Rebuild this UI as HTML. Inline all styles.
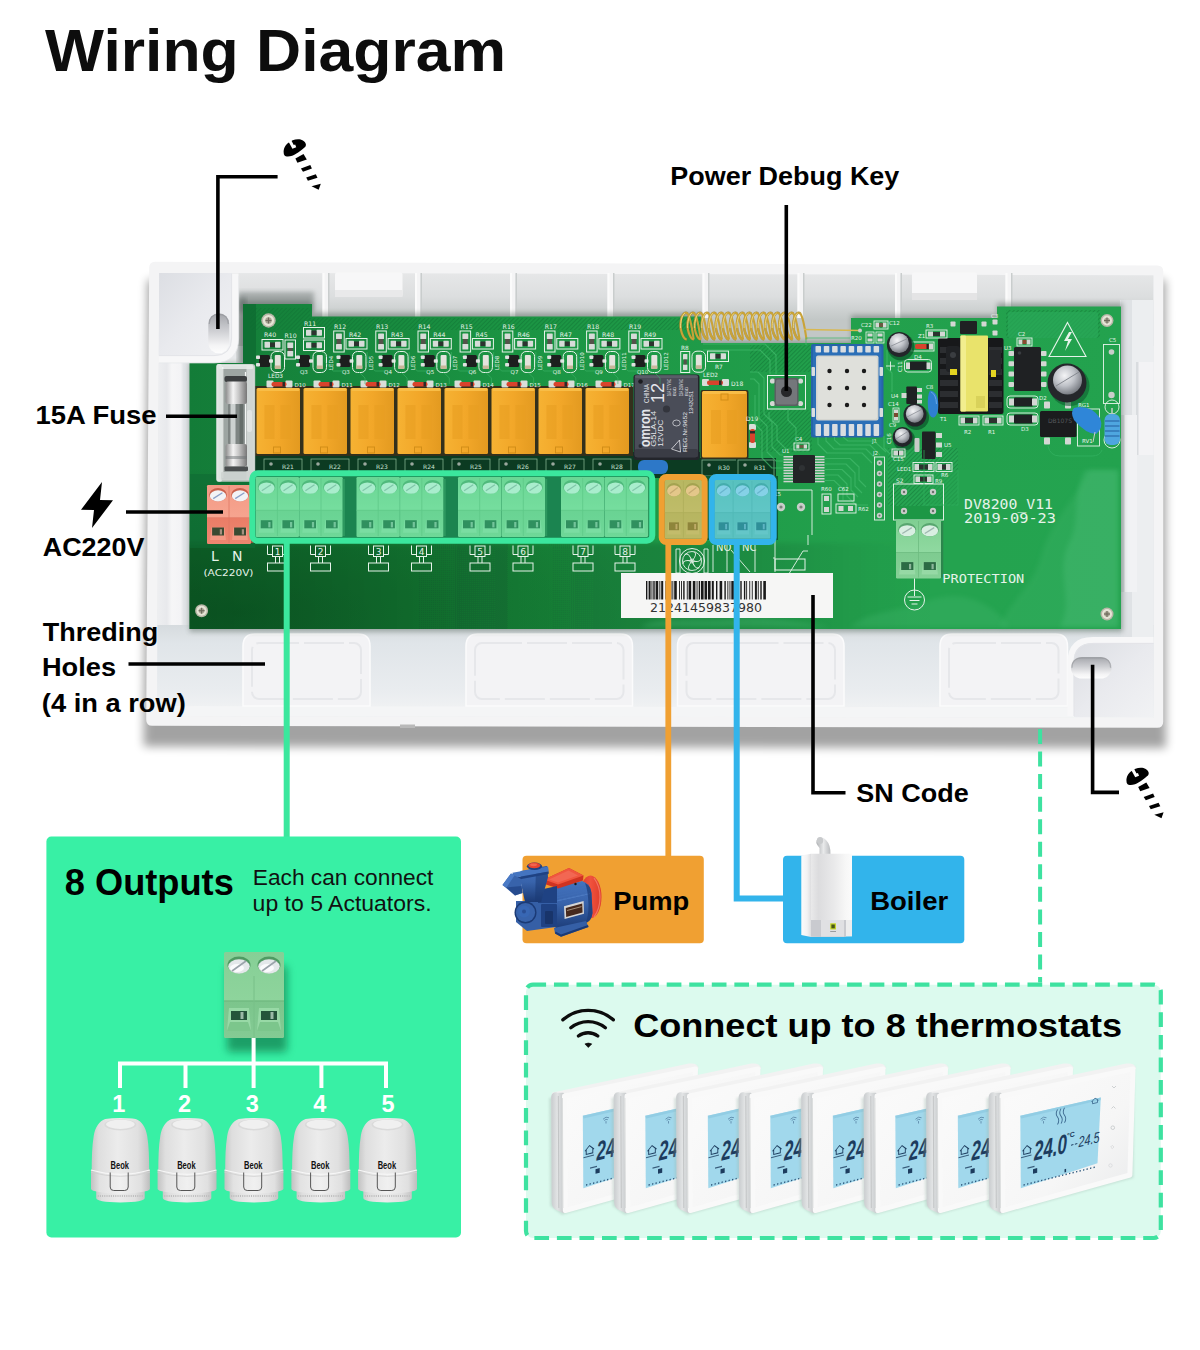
<!DOCTYPE html>
<html lang="en"><head><meta charset="utf-8"><title>Wiring Diagram</title>
<style>
html,body{margin:0;padding:0;background:#fff}
body{width:1200px;height:1350px;overflow:hidden;position:relative;font-family:"Liberation Sans",sans-serif}
svg{position:absolute;left:0;top:0;display:block}
svg text{font-family:"Liberation Sans",sans-serif}
.mono{font-family:"Liberation Mono",monospace}
.dj{font-family:"DejaVu Sans",sans-serif}
</style></head><body>
<svg width="1200" height="1350" viewBox="0 0 1200 1350">
<defs>
<filter id="fsh" x="-10%" y="-10%" width="120%" height="130%"><feGaussianBlur stdDeviation="8"/></filter>
<filter id="b1" x="-20%" y="-20%" width="140%" height="140%"><feGaussianBlur stdDeviation="1"/></filter>
<filter id="b2" x="-20%" y="-20%" width="140%" height="140%"><feGaussianBlur stdDeviation="2.5"/></filter>
<filter id="b4" x="-20%" y="-20%" width="140%" height="140%"><feGaussianBlur stdDeviation="4"/></filter>
<linearGradient id="gFloorTop" gradientUnits="userSpaceOnUse" x1="0" y1="273" x2="0" y2="320"><stop offset="0" stop-color="#e6e7e8"/><stop offset="0.5" stop-color="#dcdedf"/><stop offset="1" stop-color="#c2c7c6"/></linearGradient>
<linearGradient id="gLeft" x1="0" y1="0" x2="1" y2="0"><stop offset="0" stop-color="#eeeff1"/><stop offset="0.3" stop-color="#e8e9ec"/><stop offset="0.45" stop-color="#f6f6f7"/><stop offset="0.72" stop-color="#f3f3f5"/><stop offset="0.8" stop-color="#e3e5e8"/><stop offset="1" stop-color="#dcdfe1"/></linearGradient>
<linearGradient id="gRight" x1="0" y1="0" x2="1" y2="0"><stop offset="0" stop-color="#d9dcdc"/><stop offset="0.4" stop-color="#eceded"/><stop offset="1" stop-color="#f2f2f3"/></linearGradient>
<linearGradient id="gBot" x1="0" y1="0" x2="0" y2="1"><stop offset="0" stop-color="#d6dbde"/><stop offset="0.2" stop-color="#e0e5e9"/><stop offset="0.7" stop-color="#e9ecef"/><stop offset="1" stop-color="#f3f4f5"/></linearGradient>
<linearGradient id="gPost" x1="0" y1="0" x2="1" y2="1"><stop offset="0" stop-color="#e4e5e9"/><stop offset="0.6" stop-color="#f3f3f5"/><stop offset="1" stop-color="#fafafa"/></linearGradient>
<linearGradient id="gPost2" x1="1" y1="1" x2="0" y2="0"><stop offset="0" stop-color="#e6e7ea"/><stop offset="0.6" stop-color="#f1f1f3"/><stop offset="1" stop-color="#f8f8f8"/></linearGradient>
<filter id="fsh5" x="-10%" y="-10%" width="120%" height="130%"><feGaussianBlur stdDeviation="5"/></filter>
<linearGradient id="gPcb" x1="0" y1="0" x2="1" y2="0"><stop offset="0" stop-color="#137c38"/><stop offset="0.35" stop-color="#1b9443"/><stop offset="0.7" stop-color="#22a04c"/><stop offset="1" stop-color="#23a24e"/></linearGradient>
<radialGradient id="gPcbV" cx="0.05" cy="0.95" r="0.45"><stop offset="0" stop-color="#00250f" stop-opacity="0.3"/><stop offset="0.6" stop-color="#00250f" stop-opacity="0.1"/><stop offset="1" stop-color="#000" stop-opacity="0"/></radialGradient>
<linearGradient id="gRelay" x1="0" y1="0" x2="1" y2="0"><stop offset="0" stop-color="#f6b233"/><stop offset="0.5" stop-color="#f2a729"/><stop offset="1" stop-color="#e39a20"/></linearGradient>
<linearGradient id="gTerm" x1="0" y1="0" x2="0" y2="1"><stop offset="0" stop-color="#7fcf92"/><stop offset="0.55" stop-color="#8fd9a0"/><stop offset="0.56" stop-color="#7ecb90"/><stop offset="1" stop-color="#86d197"/></linearGradient>
<linearGradient id="gTermR" x1="0" y1="0" x2="0" y2="1"><stop offset="0" stop-color="#f39a85"/><stop offset="0.55" stop-color="#f6a48f"/><stop offset="0.56" stop-color="#ea7d67"/><stop offset="1" stop-color="#ee8670"/></linearGradient>
<linearGradient id="gMetal" x1="0" y1="0" x2="1" y2="0"><stop offset="0" stop-color="#8d8d8d"/><stop offset="0.35" stop-color="#f4f4f4"/><stop offset="0.6" stop-color="#c9c9c9"/><stop offset="1" stop-color="#777"/></linearGradient>
<radialGradient id="gCap" cx="0.4" cy="0.35" r="0.7"><stop offset="0" stop-color="#f4f4f6"/><stop offset="0.5" stop-color="#bfc2c8"/><stop offset="1" stop-color="#6f737a"/></radialGradient>
<pattern id="hatch" width="3" height="3" patternUnits="userSpaceOnUse" patternTransform="rotate(45)"><rect width="3" height="3" fill="none"/><rect width="1" height="3" fill="#0f6f33" opacity="0.45"/></pattern>
<clipPath id="cpPcb"><path d="M243 304 H312 V316.5 H701 V343 H851 V318 H997 V306.5 H1121 V629 H189.5 V363 H243 Z"/></clipPath>
<linearGradient id="gLow" x1="0" y1="0" x2="1" y2="0"><stop offset="0" stop-color="#001a08" stop-opacity="0.28"/><stop offset="0.45" stop-color="#001a08" stop-opacity="0.2"/><stop offset="0.8" stop-color="#001a08" stop-opacity="0.1"/><stop offset="1" stop-color="#001a08" stop-opacity="0"/></linearGradient>
<linearGradient id="gPock" x1="0" y1="0" x2="1" y2="1"><stop offset="0" stop-color="#dcdee3"/><stop offset="0.5" stop-color="#e9eaee"/><stop offset="1" stop-color="#f1f2f4"/></linearGradient>
<linearGradient id="gSlot" x1="0" y1="0" x2="0" y2="1"><stop offset="0" stop-color="#a4a6ab"/><stop offset="0.45" stop-color="#cfd0d4"/><stop offset="0.8" stop-color="#f4f4f5"/><stop offset="1" stop-color="#fdfdfd"/></linearGradient>
<linearGradient id="gSlotH" x1="0" y1="0" x2="1" y2="0"><stop offset="0" stop-color="#a9abb0"/><stop offset="0.5" stop-color="#d6d7da"/><stop offset="1" stop-color="#f6f6f7"/></linearGradient>
<linearGradient id="gTermB" x1="0" y1="0" x2="0" y2="1"><stop offset="0" stop-color="#86cf96"/><stop offset="0.56" stop-color="#8ed49c"/><stop offset="0.57" stop-color="#7cc58c"/><stop offset="1" stop-color="#84cb94"/></linearGradient>
<linearGradient id="gAct" x1="0" y1="0" x2="1" y2="0"><stop offset="0" stop-color="#c9c9c9"/><stop offset="0.12" stop-color="#dedede"/><stop offset="0.45" stop-color="#ececec"/><stop offset="0.8" stop-color="#e0e0e0"/><stop offset="1" stop-color="#c4c4c4"/></linearGradient>
<linearGradient id="gAct2" x1="0" y1="0" x2="1" y2="0"><stop offset="0" stop-color="#c2c2c2"/><stop offset="0.15" stop-color="#e2e2e2"/><stop offset="0.5" stop-color="#f0f0f0"/><stop offset="0.85" stop-color="#e0e0e0"/><stop offset="1" stop-color="#bdbdbd"/></linearGradient>
<linearGradient id="gPb" x1="0" y1="0" x2="0" y2="1"><stop offset="0" stop-color="#4373bf"/><stop offset="0.45" stop-color="#3863ab"/><stop offset="1" stop-color="#1b3a75"/></linearGradient>
<linearGradient id="gPr" x1="0" y1="0" x2="1" y2="0"><stop offset="0" stop-color="#d93a28"/><stop offset="0.5" stop-color="#f0523d"/><stop offset="1" stop-color="#e03c2a"/></linearGradient>
<linearGradient id="gBoil" x1="0" y1="0" x2="1" y2="0"><stop offset="0" stop-color="#e9e9ea"/><stop offset="0.18" stop-color="#dcdcde"/><stop offset="0.55" stop-color="#e9e9ea"/><stop offset="0.85" stop-color="#f7f7f7"/><stop offset="1" stop-color="#fbfbfb"/></linearGradient>
<linearGradient id="gBoilS" x1="0" y1="0" x2="1" y2="0"><stop offset="0" stop-color="#fbfbfb"/><stop offset="0.6" stop-color="#f2f2f3"/><stop offset="1" stop-color="#dedee0"/></linearGradient>
<linearGradient id="gPipe" x1="0" y1="0" x2="1" y2="0"><stop offset="0" stop-color="#aeb0b3"/><stop offset="0.5" stop-color="#e9eaeb"/><stop offset="1" stop-color="#b9bbbe"/></linearGradient>
<linearGradient id="gTh" x1="0" y1="0" x2="1" y2="1"><stop offset="0" stop-color="#fbfbfb"/><stop offset="0.6" stop-color="#f6f6f6"/><stop offset="1" stop-color="#e9eaeb"/></linearGradient>
<linearGradient id="gThS" x1="0" y1="0" x2="1" y2="0"><stop offset="0" stop-color="#cdd0d2"/><stop offset="0.45" stop-color="#e2e4e5"/><stop offset="1" stop-color="#c9ccce"/></linearGradient>
</defs>
<path d="M147.5 280 L1165.5 280 L1166 748 L143.5 746.5 Z" fill="#000" opacity="0.36" filter="url(#fsh5)"/>
<path d="M155.2 261.8 L1157.3 265.4 Q1163.3 265.4 1163.3 271.4 L1163.2 721.8 Q1163.2 727.8 1157.2 727.8 L152.2 725.8 Q146.2 725.8 146.2 719.8 L149.2 267.8 Q149.2 261.8 155.2 261.8 Z" fill="#f4f4f5" />
<path d="M159.2 273 L1153.3 275.4 L1153.8 717.5 L157 716 Z" fill="#e6e8ea" />
<path d="M159.2 273 L1153.3 275.4 V346 H159.2 Z" fill="url(#gFloorTop)" />
<path d="M159 330 H190 V716 H157 Z" fill="url(#gLeft)" />
<rect x="1120.0" y="300.0" width="33.5" height="417.0" rx="0" fill="#e7e9ec" />
<path d="M157.5 625 H1153.5 V717.5 L157 716 Z" fill="url(#gBot)" />
<path d="M157 706 L1153.5 707.5 V717.5 L157 716 Z" fill="#f4f5f6" />
<rect x="400.0" y="724.5" width="15.0" height="3.5" rx="0" fill="#b9b9b9" />
<rect x="322.5" y="273.0" width="5.5" height="45.0" rx="0" fill="#f4f4f5" />
<rect x="322.5" y="273.0" width="2.0" height="45.0" rx="0" fill="#fbfbfb" />
<rect x="328.0" y="273.0" width="1.5" height="45.0" rx="0" fill="#c9cdcd" />
<rect x="415.0" y="273.0" width="5.5" height="45.0" rx="0" fill="#f4f4f5" />
<rect x="415.0" y="273.0" width="2.0" height="45.0" rx="0" fill="#fbfbfb" />
<rect x="420.5" y="273.0" width="1.5" height="45.0" rx="0" fill="#c9cdcd" />
<rect x="510.0" y="273.0" width="5.5" height="45.0" rx="0" fill="#f4f4f5" />
<rect x="510.0" y="273.0" width="2.0" height="45.0" rx="0" fill="#fbfbfb" />
<rect x="515.5" y="273.0" width="1.5" height="45.0" rx="0" fill="#c9cdcd" />
<rect x="607.5" y="273.0" width="5.5" height="45.0" rx="0" fill="#f4f4f5" />
<rect x="607.5" y="273.0" width="2.0" height="45.0" rx="0" fill="#fbfbfb" />
<rect x="613.0" y="273.0" width="1.5" height="45.0" rx="0" fill="#c9cdcd" />
<rect x="702.5" y="273.0" width="5.5" height="45.0" rx="0" fill="#f4f4f5" />
<rect x="702.5" y="273.0" width="2.0" height="45.0" rx="0" fill="#fbfbfb" />
<rect x="708.0" y="273.0" width="1.5" height="45.0" rx="0" fill="#c9cdcd" />
<rect x="797.5" y="273.0" width="5.5" height="45.0" rx="0" fill="#f4f4f5" />
<rect x="797.5" y="273.0" width="2.0" height="45.0" rx="0" fill="#fbfbfb" />
<rect x="803.0" y="273.0" width="1.5" height="45.0" rx="0" fill="#c9cdcd" />
<rect x="895.0" y="273.0" width="5.5" height="45.0" rx="0" fill="#f4f4f5" />
<rect x="895.0" y="273.0" width="2.0" height="45.0" rx="0" fill="#fbfbfb" />
<rect x="900.5" y="273.0" width="1.5" height="45.0" rx="0" fill="#c9cdcd" />
<rect x="1005.5" y="273.0" width="5.5" height="45.0" rx="0" fill="#f4f4f5" />
<rect x="1005.5" y="273.0" width="2.0" height="45.0" rx="0" fill="#fbfbfb" />
<rect x="1011.0" y="273.0" width="1.5" height="45.0" rx="0" fill="#c9cdcd" />
<rect x="335.0" y="272.5" width="67.5" height="24.5" rx="2" fill="#f7f7f8" />
<rect x="335.0" y="290.0" width="67.5" height="7.0" rx="0" fill="#e9e9ea" />
<rect x="912.0" y="272.5" width="65.0" height="27.5" rx="2" fill="#f7f7f8" />
<rect x="912.0" y="293.0" width="65.0" height="7.0" rx="0" fill="#e4e4e5" />
<path d="M243 706 V646 Q243 634 255 634 H358 Q370 634 370 646 V706 Z" fill="#f3f3f5" stroke="#fbfbfc" stroke-width="1.5"/>
<rect x="252" y="643" width="109" height="56" rx="7" fill="none" stroke="#e6e7ea" stroke-width="2" stroke-dasharray="40 5"/>
<path d="M466 706 V646 Q466 634 478 634 H620.5 Q632.5 634 632.5 646 V706 Z" fill="#f3f3f5" stroke="#fbfbfc" stroke-width="1.5"/>
<rect x="475" y="643" width="148.5" height="56" rx="7" fill="none" stroke="#e6e7ea" stroke-width="2" stroke-dasharray="40 5"/>
<path d="M677.5 706 V646 Q677.5 634 689.5 634 H832 Q844 634 844 646 V706 Z" fill="#f3f3f5" stroke="#fbfbfc" stroke-width="1.5"/>
<rect x="686.5" y="643" width="148.5" height="56" rx="7" fill="none" stroke="#e6e7ea" stroke-width="2" stroke-dasharray="40 5"/>
<path d="M940 706 V646 Q940 634 952 634 H1055.5 Q1067.5 634 1067.5 646 V706 Z" fill="#f3f3f5" stroke="#fbfbfc" stroke-width="1.5"/>
<rect x="949" y="643" width="109.5" height="56" rx="7" fill="none" stroke="#e6e7ea" stroke-width="2" stroke-dasharray="40 5"/>
<rect x="1121.0" y="300.0" width="11.0" height="416.0" rx="0" fill="#dfe2e5" />
<rect x="1132.0" y="300.0" width="21.5" height="416.0" rx="0" fill="#eceef0" />
<rect x="1138.0" y="362.0" width="15.5" height="93.0" rx="0" fill="#f3f3f5" />
<rect x="1136.0" y="362.0" width="2.5" height="93.0" rx="0" fill="#d9dcdf" />
<rect x="1124.0" y="415.0" width="13.0" height="177.0" rx="0" fill="#f1f2f4" />
<rect x="1121.0" y="415.0" width="3.5" height="177.0" rx="0" fill="#cfd4d6" />
<line x1="1121.0" y1="640.0" x2="1153.0" y2="640.0" stroke="#f6f6f7" stroke-width="1.5" />
<path d="M243 301 H312 V313 H701 V341 H851 V315 H997 V303 H1123 V632 H189.5 V363 H243 Z" fill="#56665d" opacity="0.45" filter="url(#b2)"/>
<rect x="238.0" y="292.0" width="76.0" height="20.0" rx="0" fill="#4c5653" opacity="0.4" filter="url(#b2)"/>
<rect x="238.0" y="298.0" width="8.0" height="66.0" rx="0" fill="#4c5653" opacity="0.5" filter="url(#b2)"/>
<path d="M243 304 H312 V316.5 H701 V343 H851 V318 H997 V306.5 H1121 V629 H189.5 V363 H243 Z" fill="url(#gPcb)" />
<path d="M243 304 H312 V316.5 H701 V343 H851 V318 H997 V306.5 H1121 V629 H189.5 V363 H243 Z" fill="url(#gPcbV)" />
<path d="M250 308 H310 V318 H700 V330 H250 Z" fill="url(#hatch)" />
<rect x="1006.0" y="310.0" width="94.0" height="28.0" rx="0" fill="url(#hatch)" />
<rect x="888.0" y="448.0" width="70.0" height="58.0" rx="0" fill="#2aa957" opacity="0.55"/>
<rect x="888.0" y="448.0" width="70.0" height="58.0" rx="0" fill="url(#hatch)" />
<rect x="750.0" y="345.0" width="62.0" height="27.0" rx="0" fill="url(#hatch)" />
<rect x="760.0" y="410.0" width="52.0" height="42.0" rx="0" fill="url(#hatch)" />
<g clip-path="url(#cpPcb)"><rect x="170" y="543" width="740" height="100" fill="url(#gLow)" filter="url(#b2)"/></g>
<rect x="1008.0" y="312.0" width="90.0" height="26.0" rx="2" fill="#2aa858" opacity="0.7"/>
<rect x="930.0" y="470.0" width="188.0" height="157.0" rx="0" fill="#25a552" opacity="0.5"/>
<path d="M1000 627 C1010 600 1030 590 1040 560 C1050 520 1075 500 1090 470 L1118 470 L1118 627 Z" fill="#3db368" opacity="0.35" filter="url(#b2)"/>
<path d="M850 627 C870 610 900 612 930 600 C960 590 990 600 1010 627 Z" fill="#45b870" opacity="0.3" filter="url(#b2)"/>
<rect x="243.0" y="304.0" width="13.0" height="60.0" rx="0" fill="#0d6a31" opacity="0.7"/>
<path d="M1085 470 C1070 500 1082 520 1068 545 C1055 575 1075 600 1060 627 L1118 627 L1118 470 Z" fill="#58c483" opacity="0.28" filter="url(#b2)"/>
<path d="M640 627 C660 615 700 622 740 618 C770 616 800 622 830 627 Z" fill="#4fbf7b" opacity="0.3" filter="url(#b2)"/>
<rect x="255.0" y="452.0" width="445.0" height="26.0" rx="0" fill="#0c3b22" />
<rect x="190.0" y="474.0" width="65.0" height="74.0" rx="0" fill="#0f6a33" opacity="0.6"/>
<rect x="264" y="459" width="38" height="16" fill="none" stroke="#7fae8d" stroke-width="0.8"/>
<circle cx="271.0" cy="464.0" r="1.8" fill="#9aa79e" />
<text x="282.0" y="469.0" font-size="6" font-weight="normal" fill="#c9e3d2" text-anchor="start" style='font-family:"DejaVu Sans",sans-serif' >R21</text>
<rect x="311" y="459" width="38" height="16" fill="none" stroke="#7fae8d" stroke-width="0.8"/>
<circle cx="318.0" cy="464.0" r="1.8" fill="#9aa79e" />
<text x="329.0" y="469.0" font-size="6" font-weight="normal" fill="#c9e3d2" text-anchor="start" style='font-family:"DejaVu Sans",sans-serif' >R22</text>
<rect x="358" y="459" width="38" height="16" fill="none" stroke="#7fae8d" stroke-width="0.8"/>
<circle cx="365.0" cy="464.0" r="1.8" fill="#9aa79e" />
<text x="376.0" y="469.0" font-size="6" font-weight="normal" fill="#c9e3d2" text-anchor="start" style='font-family:"DejaVu Sans",sans-serif' >R23</text>
<rect x="405" y="459" width="38" height="16" fill="none" stroke="#7fae8d" stroke-width="0.8"/>
<circle cx="412.0" cy="464.0" r="1.8" fill="#9aa79e" />
<text x="423.0" y="469.0" font-size="6" font-weight="normal" fill="#c9e3d2" text-anchor="start" style='font-family:"DejaVu Sans",sans-serif' >R24</text>
<rect x="452" y="459" width="38" height="16" fill="none" stroke="#7fae8d" stroke-width="0.8"/>
<circle cx="459.0" cy="464.0" r="1.8" fill="#9aa79e" />
<text x="470.0" y="469.0" font-size="6" font-weight="normal" fill="#c9e3d2" text-anchor="start" style='font-family:"DejaVu Sans",sans-serif' >R25</text>
<rect x="499" y="459" width="38" height="16" fill="none" stroke="#7fae8d" stroke-width="0.8"/>
<circle cx="506.0" cy="464.0" r="1.8" fill="#9aa79e" />
<text x="517.0" y="469.0" font-size="6" font-weight="normal" fill="#c9e3d2" text-anchor="start" style='font-family:"DejaVu Sans",sans-serif' >R26</text>
<rect x="546" y="459" width="38" height="16" fill="none" stroke="#7fae8d" stroke-width="0.8"/>
<circle cx="553.0" cy="464.0" r="1.8" fill="#9aa79e" />
<text x="564.0" y="469.0" font-size="6" font-weight="normal" fill="#c9e3d2" text-anchor="start" style='font-family:"DejaVu Sans",sans-serif' >R27</text>
<rect x="593" y="459" width="38" height="16" fill="none" stroke="#7fae8d" stroke-width="0.8"/>
<circle cx="600.0" cy="464.0" r="1.8" fill="#9aa79e" />
<text x="611.0" y="469.0" font-size="6" font-weight="normal" fill="#c9e3d2" text-anchor="start" style='font-family:"DejaVu Sans",sans-serif' >R28</text>
<rect x="700.0" y="458.0" width="40.0" height="20.0" rx="0" fill="#0c3b22" />
<rect x="702" y="460" width="36" height="16" fill="none" stroke="#7fae8d" stroke-width="0.8"/>
<circle cx="709.0" cy="465.0" r="1.8" fill="#9aa79e" />
<text x="718.0" y="470.0" font-size="6" font-weight="normal" fill="#c9e3d2" text-anchor="start" style='font-family:"DejaVu Sans",sans-serif' >R30</text>
<rect x="736.0" y="458.0" width="40.0" height="20.0" rx="0" fill="#0c3b22" />
<rect x="738" y="460" width="36" height="16" fill="none" stroke="#7fae8d" stroke-width="0.8"/>
<circle cx="745.0" cy="465.0" r="1.8" fill="#9aa79e" />
<text x="754.0" y="470.0" font-size="6" font-weight="normal" fill="#c9e3d2" text-anchor="start" style='font-family:"DejaVu Sans",sans-serif' >R31</text>
<rect x="255.0" y="386.0" width="378.0" height="70.0" rx="0" fill="#33301c" />
<rect x="256.5" y="388.0" width="43.5" height="66.0" rx="1.5" fill="url(#gRelay)" />
<rect x="257.5" y="388.0" width="42.0" height="3.0" rx="1" fill="#f8bd47" />
<rect x="273.5" y="447" width="7" height="6" fill="none" stroke="#d28d17" stroke-width="1"/>
<rect x="264.5" y="405.0" width="10.0" height="34.0" rx="0" fill="#e89f22" opacity="0.6"/>
<rect x="280.5" y="405.0" width="10.0" height="34.0" rx="0" fill="#e89f22" opacity="0.6"/>
<rect x="266.5" y="380.5" width="7.0" height="7.0" rx="1" fill="#d9ded9" />
<rect x="285.5" y="380.5" width="7.0" height="7.0" rx="1" fill="#d9ded9" />
<rect x="271.5" y="382.0" width="15.0" height="4.5" rx="2" fill="#d8432c" />
<rect x="282.5" y="382.0" width="2.5" height="4.5" rx="0" fill="#2a2a2a" />
<text x="294.5" y="387.0" font-size="5.5" font-weight="normal" fill="#e3f1e7" text-anchor="start" style='font-family:"DejaVu Sans",sans-serif' >D10</text>
<rect x="303.5" y="388.0" width="43.5" height="66.0" rx="1.5" fill="url(#gRelay)" />
<rect x="304.5" y="388.0" width="42.0" height="3.0" rx="1" fill="#f8bd47" />
<rect x="320.5" y="447" width="7" height="6" fill="none" stroke="#d28d17" stroke-width="1"/>
<rect x="311.5" y="405.0" width="10.0" height="34.0" rx="0" fill="#e89f22" opacity="0.6"/>
<rect x="327.5" y="405.0" width="10.0" height="34.0" rx="0" fill="#e89f22" opacity="0.6"/>
<rect x="313.5" y="380.5" width="7.0" height="7.0" rx="1" fill="#d9ded9" />
<rect x="332.5" y="380.5" width="7.0" height="7.0" rx="1" fill="#d9ded9" />
<rect x="318.5" y="382.0" width="15.0" height="4.5" rx="2" fill="#d8432c" />
<rect x="329.5" y="382.0" width="2.5" height="4.5" rx="0" fill="#2a2a2a" />
<text x="341.5" y="387.0" font-size="5.5" font-weight="normal" fill="#e3f1e7" text-anchor="start" style='font-family:"DejaVu Sans",sans-serif' >D11</text>
<rect x="350.5" y="388.0" width="43.5" height="66.0" rx="1.5" fill="url(#gRelay)" />
<rect x="351.5" y="388.0" width="42.0" height="3.0" rx="1" fill="#f8bd47" />
<rect x="367.5" y="447" width="7" height="6" fill="none" stroke="#d28d17" stroke-width="1"/>
<rect x="358.5" y="405.0" width="10.0" height="34.0" rx="0" fill="#e89f22" opacity="0.6"/>
<rect x="374.5" y="405.0" width="10.0" height="34.0" rx="0" fill="#e89f22" opacity="0.6"/>
<rect x="360.5" y="380.5" width="7.0" height="7.0" rx="1" fill="#d9ded9" />
<rect x="379.5" y="380.5" width="7.0" height="7.0" rx="1" fill="#d9ded9" />
<rect x="365.5" y="382.0" width="15.0" height="4.5" rx="2" fill="#d8432c" />
<rect x="376.5" y="382.0" width="2.5" height="4.5" rx="0" fill="#2a2a2a" />
<text x="388.5" y="387.0" font-size="5.5" font-weight="normal" fill="#e3f1e7" text-anchor="start" style='font-family:"DejaVu Sans",sans-serif' >D12</text>
<rect x="397.5" y="388.0" width="43.5" height="66.0" rx="1.5" fill="url(#gRelay)" />
<rect x="398.5" y="388.0" width="42.0" height="3.0" rx="1" fill="#f8bd47" />
<rect x="414.5" y="447" width="7" height="6" fill="none" stroke="#d28d17" stroke-width="1"/>
<rect x="405.5" y="405.0" width="10.0" height="34.0" rx="0" fill="#e89f22" opacity="0.6"/>
<rect x="421.5" y="405.0" width="10.0" height="34.0" rx="0" fill="#e89f22" opacity="0.6"/>
<rect x="407.5" y="380.5" width="7.0" height="7.0" rx="1" fill="#d9ded9" />
<rect x="426.5" y="380.5" width="7.0" height="7.0" rx="1" fill="#d9ded9" />
<rect x="412.5" y="382.0" width="15.0" height="4.5" rx="2" fill="#d8432c" />
<rect x="423.5" y="382.0" width="2.5" height="4.5" rx="0" fill="#2a2a2a" />
<text x="435.5" y="387.0" font-size="5.5" font-weight="normal" fill="#e3f1e7" text-anchor="start" style='font-family:"DejaVu Sans",sans-serif' >D13</text>
<rect x="444.5" y="388.0" width="43.5" height="66.0" rx="1.5" fill="url(#gRelay)" />
<rect x="445.5" y="388.0" width="42.0" height="3.0" rx="1" fill="#f8bd47" />
<rect x="461.5" y="447" width="7" height="6" fill="none" stroke="#d28d17" stroke-width="1"/>
<rect x="452.5" y="405.0" width="10.0" height="34.0" rx="0" fill="#e89f22" opacity="0.6"/>
<rect x="468.5" y="405.0" width="10.0" height="34.0" rx="0" fill="#e89f22" opacity="0.6"/>
<rect x="454.5" y="380.5" width="7.0" height="7.0" rx="1" fill="#d9ded9" />
<rect x="473.5" y="380.5" width="7.0" height="7.0" rx="1" fill="#d9ded9" />
<rect x="459.5" y="382.0" width="15.0" height="4.5" rx="2" fill="#d8432c" />
<rect x="470.5" y="382.0" width="2.5" height="4.5" rx="0" fill="#2a2a2a" />
<text x="482.5" y="387.0" font-size="5.5" font-weight="normal" fill="#e3f1e7" text-anchor="start" style='font-family:"DejaVu Sans",sans-serif' >D14</text>
<rect x="491.5" y="388.0" width="43.5" height="66.0" rx="1.5" fill="url(#gRelay)" />
<rect x="492.5" y="388.0" width="42.0" height="3.0" rx="1" fill="#f8bd47" />
<rect x="508.5" y="447" width="7" height="6" fill="none" stroke="#d28d17" stroke-width="1"/>
<rect x="499.5" y="405.0" width="10.0" height="34.0" rx="0" fill="#e89f22" opacity="0.6"/>
<rect x="515.5" y="405.0" width="10.0" height="34.0" rx="0" fill="#e89f22" opacity="0.6"/>
<rect x="501.5" y="380.5" width="7.0" height="7.0" rx="1" fill="#d9ded9" />
<rect x="520.5" y="380.5" width="7.0" height="7.0" rx="1" fill="#d9ded9" />
<rect x="506.5" y="382.0" width="15.0" height="4.5" rx="2" fill="#d8432c" />
<rect x="517.5" y="382.0" width="2.5" height="4.5" rx="0" fill="#2a2a2a" />
<text x="529.5" y="387.0" font-size="5.5" font-weight="normal" fill="#e3f1e7" text-anchor="start" style='font-family:"DejaVu Sans",sans-serif' >D15</text>
<rect x="538.5" y="388.0" width="43.5" height="66.0" rx="1.5" fill="url(#gRelay)" />
<rect x="539.5" y="388.0" width="42.0" height="3.0" rx="1" fill="#f8bd47" />
<rect x="555.5" y="447" width="7" height="6" fill="none" stroke="#d28d17" stroke-width="1"/>
<rect x="546.5" y="405.0" width="10.0" height="34.0" rx="0" fill="#e89f22" opacity="0.6"/>
<rect x="562.5" y="405.0" width="10.0" height="34.0" rx="0" fill="#e89f22" opacity="0.6"/>
<rect x="548.5" y="380.5" width="7.0" height="7.0" rx="1" fill="#d9ded9" />
<rect x="567.5" y="380.5" width="7.0" height="7.0" rx="1" fill="#d9ded9" />
<rect x="553.5" y="382.0" width="15.0" height="4.5" rx="2" fill="#d8432c" />
<rect x="564.5" y="382.0" width="2.5" height="4.5" rx="0" fill="#2a2a2a" />
<text x="576.5" y="387.0" font-size="5.5" font-weight="normal" fill="#e3f1e7" text-anchor="start" style='font-family:"DejaVu Sans",sans-serif' >D16</text>
<rect x="585.5" y="388.0" width="43.5" height="66.0" rx="1.5" fill="url(#gRelay)" />
<rect x="586.5" y="388.0" width="42.0" height="3.0" rx="1" fill="#f8bd47" />
<rect x="602.5" y="447" width="7" height="6" fill="none" stroke="#d28d17" stroke-width="1"/>
<rect x="593.5" y="405.0" width="10.0" height="34.0" rx="0" fill="#e89f22" opacity="0.6"/>
<rect x="609.5" y="405.0" width="10.0" height="34.0" rx="0" fill="#e89f22" opacity="0.6"/>
<rect x="595.5" y="380.5" width="7.0" height="7.0" rx="1" fill="#d9ded9" />
<rect x="614.5" y="380.5" width="7.0" height="7.0" rx="1" fill="#d9ded9" />
<rect x="600.5" y="382.0" width="15.0" height="4.5" rx="2" fill="#d8432c" />
<rect x="611.5" y="382.0" width="2.5" height="4.5" rx="0" fill="#2a2a2a" />
<text x="623.5" y="387.0" font-size="5.5" font-weight="normal" fill="#e3f1e7" text-anchor="start" style='font-family:"DejaVu Sans",sans-serif' >D17</text>
<rect x="700.5" y="390.0" width="48.0" height="69.0" rx="2" fill="#33301c" />
<rect x="702.0" y="391.0" width="45.0" height="66.5" rx="1.5" fill="url(#gRelay)" />
<rect x="703.0" y="391.0" width="43.0" height="3.0" rx="1" fill="#f8bd47" />
<rect x="721" y="394" width="7" height="6" fill="none" stroke="#d28d17" stroke-width="1"/>
<rect x="711.0" y="410.0" width="10.0" height="34.0" rx="0" fill="#e89f22" opacity="0.6"/>
<rect x="727.0" y="410.0" width="10.0" height="34.0" rx="0" fill="#e89f22" opacity="0.6"/>
<rect x="702.0" y="379.0" width="7.0" height="7.0" rx="1" fill="#d9ded9" />
<rect x="722.0" y="379.0" width="7.0" height="7.0" rx="1" fill="#d9ded9" />
<rect x="707.0" y="380.5" width="16.0" height="4.5" rx="2" fill="#d8432c" />
<rect x="719.0" y="380.5" width="2.5" height="4.5" rx="0" fill="#2a2a2a" />
<text x="731.0" y="386.0" font-size="6" font-weight="normal" fill="#e3f1e7" text-anchor="start" style='font-family:"DejaVu Sans",sans-serif' >D18</text>
<rect x="749.0" y="424.0" width="7.0" height="6.0" rx="1" fill="#d9ded9" />
<rect x="749.0" y="442.0" width="7.0" height="6.0" rx="1" fill="#d9ded9" />
<rect x="750.0" y="429.0" width="5.0" height="14.0" rx="2" fill="#d8432c" />
<rect x="750.0" y="431.0" width="5.0" height="2.5" rx="0" fill="#2a2a2a" />
<text x="746.0" y="421.0" font-size="6" font-weight="normal" fill="#e3f1e7" text-anchor="start" style='font-family:"DejaVu Sans",sans-serif' >D19</text>
<rect x="633.5" y="374.5" width="66.0" height="85.5" rx="3" fill="#23252b" />
<rect x="634.7" y="375.3" width="63.3" height="82.0" rx="3" fill="#4a4d58" />
<rect x="634.7" y="375.3" width="63.3" height="2.7" rx="2" fill="#5a5d68" />
<rect x="634.7" y="449.0" width="63.3" height="8.3" rx="2" fill="#3a3c45" />
<circle cx="640.5" cy="381.5" r="2.3" fill="#1b1c21" />
<circle cx="640.5" cy="446.0" r="2" fill="#2a2c33" />
<circle cx="666.5" cy="409.0" r="3.6" fill="#33353d" />
<g transform="rotate(-90 666 417)" fill="#e4e5ea" style='font-family:"Liberation Sans",sans-serif'><text x="636" y="401" font-size="14.5" font-weight="bold" textLength="38" lengthAdjust="spacingAndGlyphs">omron</text><text x="680" y="399.5" font-size="7" textLength="19" lengthAdjust="spacingAndGlyphs">CHINA</text><text x="636.3" y="407.3" font-size="7.5" textLength="36" lengthAdjust="spacingAndGlyphs">G5LA-14</text><text x="636.3" y="414" font-size="7.5" textLength="27" lengthAdjust="spacingAndGlyphs">12VDC</text><text x="679.7" y="415" font-size="18" textLength="20.5" lengthAdjust="spacingAndGlyphs">12</text><text x="687" y="421.5" font-size="4.6" textLength="17" lengthAdjust="spacingAndGlyphs">10A 277V AC</text><text x="687" y="427" font-size="4.2">BGD</text><text x="687" y="433.5" font-size="4.6" textLength="17" lengthAdjust="spacingAndGlyphs">15A 250V AC</text><text x="687" y="439" font-size="4.2">BGD</text><text x="631" y="438.3" font-size="6" textLength="40" lengthAdjust="spacingAndGlyphs">REG.Nr.9652</text><text x="669" y="443.5" font-size="6" textLength="23" lengthAdjust="spacingAndGlyphs">1342CS1</text></g>
<path d="M671.5 449 L679.5 440 L680.5 452 Z" fill="none" stroke="#e4e5ea" stroke-width="0.8"/>
<ellipse cx="676.5" cy="423.0" rx="3.8" ry="3" fill="none" stroke="#e4e5ea" stroke-width="0.7"/>
<rect x="638.0" y="460.0" width="30.0" height="14.0" rx="6" fill="#2d78c8" />
<rect x="255.0" y="476.0" width="395.0" height="63.0" rx="0" fill="#0e5a30" />
<rect x="255.7" y="477.0" width="43.4" height="60.0" rx="1.2" fill="url(#gTerm)" />
<ellipse cx="266.6" cy="486.9" rx="8.68" ry="6.9" fill="#58a66f" />
<ellipse cx="266.6" cy="488.1" rx="8.029" ry="5.7" fill="#d9efe2" />
<line x1="261.8" y1="490.8" x2="270.9" y2="484.8" stroke="#9fb7b0" stroke-width="1.3" />
<path d="M260.0 520.2 H273.1 L274.4 532.8 H258.7 Z" fill="#a5e0b2" opacity="0.55"/>
<rect x="260.7" y="520.2" width="11.7" height="8.1" rx="0" fill="#2c6b45" />
<rect x="268.3" y="522.0" width="2.2" height="5.4" rx="0" fill="#cfe6d6" opacity="0.6"/>
<ellipse cx="288.2" cy="486.9" rx="8.68" ry="6.9" fill="#58a66f" />
<ellipse cx="288.2" cy="488.1" rx="8.029" ry="5.7" fill="#d9efe2" />
<line x1="283.5" y1="490.8" x2="292.6" y2="484.8" stroke="#9fb7b0" stroke-width="1.3" />
<path d="M281.7 520.2 H294.8 L296.1 532.8 H280.4 Z" fill="#a5e0b2" opacity="0.55"/>
<rect x="282.4" y="520.2" width="11.7" height="8.1" rx="0" fill="#2c6b45" />
<rect x="290.0" y="522.0" width="2.2" height="5.4" rx="0" fill="#cfe6d6" opacity="0.6"/>
<line x1="277.4" y1="478.0" x2="277.4" y2="536.0" stroke="#6dbb80" stroke-width="0.8" />
<line x1="255.7" y1="510.3" x2="299.1" y2="510.3" stroke="#6dbb80" stroke-width="0.8" />
<rect x="299.1" y="479.0" width="2.2" height="57.0" rx="0" fill="#2f7d4c" opacity="0.8"/>
<rect x="299.3" y="477.0" width="43.4" height="60.0" rx="1.2" fill="url(#gTerm)" />
<ellipse cx="310.2" cy="486.9" rx="8.68" ry="6.9" fill="#58a66f" />
<ellipse cx="310.2" cy="488.1" rx="8.029" ry="5.7" fill="#d9efe2" />
<line x1="305.4" y1="490.8" x2="314.5" y2="484.8" stroke="#9fb7b0" stroke-width="1.3" />
<path d="M303.6 520.2 H316.7 L318.0 532.8 H302.3 Z" fill="#a5e0b2" opacity="0.55"/>
<rect x="304.3" y="520.2" width="11.7" height="8.1" rx="0" fill="#2c6b45" />
<rect x="311.9" y="522.0" width="2.2" height="5.4" rx="0" fill="#cfe6d6" opacity="0.6"/>
<ellipse cx="331.9" cy="486.9" rx="8.68" ry="6.9" fill="#58a66f" />
<ellipse cx="331.9" cy="488.1" rx="8.029" ry="5.7" fill="#d9efe2" />
<line x1="327.1" y1="490.8" x2="336.2" y2="484.8" stroke="#9fb7b0" stroke-width="1.3" />
<path d="M325.3 520.2 H338.4 L339.7 532.8 H324.0 Z" fill="#a5e0b2" opacity="0.55"/>
<rect x="326.0" y="520.2" width="11.7" height="8.1" rx="0" fill="#2c6b45" />
<rect x="333.6" y="522.0" width="2.2" height="5.4" rx="0" fill="#cfe6d6" opacity="0.6"/>
<line x1="321.0" y1="478.0" x2="321.0" y2="536.0" stroke="#6dbb80" stroke-width="0.8" />
<line x1="299.3" y1="510.3" x2="342.7" y2="510.3" stroke="#6dbb80" stroke-width="0.8" />
<rect x="342.7" y="479.0" width="2.2" height="57.0" rx="0" fill="#2f7d4c" opacity="0.8"/>
<rect x="356.5" y="477.0" width="43.4" height="60.0" rx="1.2" fill="url(#gTerm)" />
<ellipse cx="367.4" cy="486.9" rx="8.68" ry="6.9" fill="#58a66f" />
<ellipse cx="367.4" cy="488.1" rx="8.029" ry="5.7" fill="#d9efe2" />
<line x1="362.6" y1="490.8" x2="371.7" y2="484.8" stroke="#9fb7b0" stroke-width="1.3" />
<path d="M360.8 520.2 H373.9 L375.2 532.8 H359.5 Z" fill="#a5e0b2" opacity="0.55"/>
<rect x="361.5" y="520.2" width="11.7" height="8.1" rx="0" fill="#2c6b45" />
<rect x="369.1" y="522.0" width="2.2" height="5.4" rx="0" fill="#cfe6d6" opacity="0.6"/>
<ellipse cx="389.1" cy="486.9" rx="8.68" ry="6.9" fill="#58a66f" />
<ellipse cx="389.1" cy="488.1" rx="8.029" ry="5.7" fill="#d9efe2" />
<line x1="384.3" y1="490.8" x2="393.4" y2="484.8" stroke="#9fb7b0" stroke-width="1.3" />
<path d="M382.5 520.2 H395.6 L396.9 532.8 H381.2 Z" fill="#a5e0b2" opacity="0.55"/>
<rect x="383.2" y="520.2" width="11.7" height="8.1" rx="0" fill="#2c6b45" />
<rect x="390.8" y="522.0" width="2.2" height="5.4" rx="0" fill="#cfe6d6" opacity="0.6"/>
<line x1="378.2" y1="478.0" x2="378.2" y2="536.0" stroke="#6dbb80" stroke-width="0.8" />
<line x1="356.5" y1="510.3" x2="399.9" y2="510.3" stroke="#6dbb80" stroke-width="0.8" />
<rect x="399.9" y="479.0" width="2.2" height="57.0" rx="0" fill="#2f7d4c" opacity="0.8"/>
<rect x="400.1" y="477.0" width="43.4" height="60.0" rx="1.2" fill="url(#gTerm)" />
<ellipse cx="411.0" cy="486.9" rx="8.68" ry="6.9" fill="#58a66f" />
<ellipse cx="411.0" cy="488.1" rx="8.029" ry="5.7" fill="#d9efe2" />
<line x1="406.2" y1="490.8" x2="415.3" y2="484.8" stroke="#9fb7b0" stroke-width="1.3" />
<path d="M404.4 520.2 H417.5 L418.8 532.8 H403.1 Z" fill="#a5e0b2" opacity="0.55"/>
<rect x="405.1" y="520.2" width="11.7" height="8.1" rx="0" fill="#2c6b45" />
<rect x="412.7" y="522.0" width="2.2" height="5.4" rx="0" fill="#cfe6d6" opacity="0.6"/>
<ellipse cx="432.7" cy="486.9" rx="8.68" ry="6.9" fill="#58a66f" />
<ellipse cx="432.7" cy="488.1" rx="8.029" ry="5.7" fill="#d9efe2" />
<line x1="427.9" y1="490.8" x2="437.0" y2="484.8" stroke="#9fb7b0" stroke-width="1.3" />
<path d="M426.1 520.2 H439.2 L440.5 532.8 H424.8 Z" fill="#a5e0b2" opacity="0.55"/>
<rect x="426.8" y="520.2" width="11.7" height="8.1" rx="0" fill="#2c6b45" />
<rect x="434.4" y="522.0" width="2.2" height="5.4" rx="0" fill="#cfe6d6" opacity="0.6"/>
<line x1="421.8" y1="478.0" x2="421.8" y2="536.0" stroke="#6dbb80" stroke-width="0.8" />
<line x1="400.1" y1="510.3" x2="443.5" y2="510.3" stroke="#6dbb80" stroke-width="0.8" />
<rect x="443.5" y="479.0" width="2.2" height="57.0" rx="0" fill="#2f7d4c" opacity="0.8"/>
<rect x="458.0" y="477.0" width="43.4" height="60.0" rx="1.2" fill="url(#gTerm)" />
<ellipse cx="468.9" cy="486.9" rx="8.68" ry="6.9" fill="#58a66f" />
<ellipse cx="468.9" cy="488.1" rx="8.029" ry="5.7" fill="#d9efe2" />
<line x1="464.1" y1="490.8" x2="473.2" y2="484.8" stroke="#9fb7b0" stroke-width="1.3" />
<path d="M462.3 520.2 H475.4 L476.7 532.8 H461.0 Z" fill="#a5e0b2" opacity="0.55"/>
<rect x="463.0" y="520.2" width="11.7" height="8.1" rx="0" fill="#2c6b45" />
<rect x="470.6" y="522.0" width="2.2" height="5.4" rx="0" fill="#cfe6d6" opacity="0.6"/>
<ellipse cx="490.6" cy="486.9" rx="8.68" ry="6.9" fill="#58a66f" />
<ellipse cx="490.6" cy="488.1" rx="8.029" ry="5.7" fill="#d9efe2" />
<line x1="485.8" y1="490.8" x2="494.9" y2="484.8" stroke="#9fb7b0" stroke-width="1.3" />
<path d="M484.0 520.2 H497.1 L498.4 532.8 H482.7 Z" fill="#a5e0b2" opacity="0.55"/>
<rect x="484.7" y="520.2" width="11.7" height="8.1" rx="0" fill="#2c6b45" />
<rect x="492.3" y="522.0" width="2.2" height="5.4" rx="0" fill="#cfe6d6" opacity="0.6"/>
<line x1="479.7" y1="478.0" x2="479.7" y2="536.0" stroke="#6dbb80" stroke-width="0.8" />
<line x1="458.0" y1="510.3" x2="501.4" y2="510.3" stroke="#6dbb80" stroke-width="0.8" />
<rect x="501.4" y="479.0" width="2.2" height="57.0" rx="0" fill="#2f7d4c" opacity="0.8"/>
<rect x="501.6" y="477.0" width="43.4" height="60.0" rx="1.2" fill="url(#gTerm)" />
<ellipse cx="512.5" cy="486.9" rx="8.68" ry="6.9" fill="#58a66f" />
<ellipse cx="512.5" cy="488.1" rx="8.029" ry="5.7" fill="#d9efe2" />
<line x1="507.7" y1="490.8" x2="516.8" y2="484.8" stroke="#9fb7b0" stroke-width="1.3" />
<path d="M505.9 520.2 H519.0 L520.3 532.8 H504.6 Z" fill="#a5e0b2" opacity="0.55"/>
<rect x="506.6" y="520.2" width="11.7" height="8.1" rx="0" fill="#2c6b45" />
<rect x="514.2" y="522.0" width="2.2" height="5.4" rx="0" fill="#cfe6d6" opacity="0.6"/>
<ellipse cx="534.1" cy="486.9" rx="8.68" ry="6.9" fill="#58a66f" />
<ellipse cx="534.1" cy="488.1" rx="8.029" ry="5.7" fill="#d9efe2" />
<line x1="529.4" y1="490.8" x2="538.5" y2="484.8" stroke="#9fb7b0" stroke-width="1.3" />
<path d="M527.6 520.2 H540.7 L542.0 532.8 H526.3 Z" fill="#a5e0b2" opacity="0.55"/>
<rect x="528.3" y="520.2" width="11.7" height="8.1" rx="0" fill="#2c6b45" />
<rect x="535.9" y="522.0" width="2.2" height="5.4" rx="0" fill="#cfe6d6" opacity="0.6"/>
<line x1="523.3" y1="478.0" x2="523.3" y2="536.0" stroke="#6dbb80" stroke-width="0.8" />
<line x1="501.6" y1="510.3" x2="545.0" y2="510.3" stroke="#6dbb80" stroke-width="0.8" />
<rect x="545.0" y="479.0" width="2.2" height="57.0" rx="0" fill="#2f7d4c" opacity="0.8"/>
<rect x="561.0" y="477.0" width="43.4" height="60.0" rx="1.2" fill="url(#gTerm)" />
<ellipse cx="571.9" cy="486.9" rx="8.68" ry="6.9" fill="#58a66f" />
<ellipse cx="571.9" cy="488.1" rx="8.029" ry="5.7" fill="#d9efe2" />
<line x1="567.1" y1="490.8" x2="576.2" y2="484.8" stroke="#9fb7b0" stroke-width="1.3" />
<path d="M565.3 520.2 H578.4 L579.7 532.8 H564.0 Z" fill="#a5e0b2" opacity="0.55"/>
<rect x="566.0" y="520.2" width="11.7" height="8.1" rx="0" fill="#2c6b45" />
<rect x="573.6" y="522.0" width="2.2" height="5.4" rx="0" fill="#cfe6d6" opacity="0.6"/>
<ellipse cx="593.5" cy="486.9" rx="8.68" ry="6.9" fill="#58a66f" />
<ellipse cx="593.5" cy="488.1" rx="8.029" ry="5.7" fill="#d9efe2" />
<line x1="588.8" y1="490.8" x2="597.9" y2="484.8" stroke="#9fb7b0" stroke-width="1.3" />
<path d="M587.0 520.2 H600.1 L601.4 532.8 H585.7 Z" fill="#a5e0b2" opacity="0.55"/>
<rect x="587.7" y="520.2" width="11.7" height="8.1" rx="0" fill="#2c6b45" />
<rect x="595.3" y="522.0" width="2.2" height="5.4" rx="0" fill="#cfe6d6" opacity="0.6"/>
<line x1="582.7" y1="478.0" x2="582.7" y2="536.0" stroke="#6dbb80" stroke-width="0.8" />
<line x1="561.0" y1="510.3" x2="604.4" y2="510.3" stroke="#6dbb80" stroke-width="0.8" />
<rect x="604.4" y="479.0" width="2.2" height="57.0" rx="0" fill="#2f7d4c" opacity="0.8"/>
<rect x="604.6" y="477.0" width="43.4" height="60.0" rx="1.2" fill="url(#gTerm)" />
<ellipse cx="615.5" cy="486.9" rx="8.68" ry="6.9" fill="#58a66f" />
<ellipse cx="615.5" cy="488.1" rx="8.029" ry="5.7" fill="#d9efe2" />
<line x1="610.7" y1="490.8" x2="619.8" y2="484.8" stroke="#9fb7b0" stroke-width="1.3" />
<path d="M608.9 520.2 H622.0 L623.3 532.8 H607.6 Z" fill="#a5e0b2" opacity="0.55"/>
<rect x="609.6" y="520.2" width="11.7" height="8.1" rx="0" fill="#2c6b45" />
<rect x="617.2" y="522.0" width="2.2" height="5.4" rx="0" fill="#cfe6d6" opacity="0.6"/>
<ellipse cx="637.1" cy="486.9" rx="8.68" ry="6.9" fill="#58a66f" />
<ellipse cx="637.1" cy="488.1" rx="8.029" ry="5.7" fill="#d9efe2" />
<line x1="632.4" y1="490.8" x2="641.5" y2="484.8" stroke="#9fb7b0" stroke-width="1.3" />
<path d="M630.6 520.2 H643.7 L645.0 532.8 H629.3 Z" fill="#a5e0b2" opacity="0.55"/>
<rect x="631.3" y="520.2" width="11.7" height="8.1" rx="0" fill="#2c6b45" />
<rect x="638.9" y="522.0" width="2.2" height="5.4" rx="0" fill="#cfe6d6" opacity="0.6"/>
<line x1="626.3" y1="478.0" x2="626.3" y2="536.0" stroke="#6dbb80" stroke-width="0.8" />
<line x1="604.6" y1="510.3" x2="648.0" y2="510.3" stroke="#6dbb80" stroke-width="0.8" />
<rect x="648.0" y="479.0" width="2.2" height="57.0" rx="0" fill="#2f7d4c" opacity="0.8"/>
<rect x="660.0" y="476.0" width="118.0" height="64.0" rx="0" fill="#0e5a30" />
<rect x="664.7" y="480.0" width="37.3" height="58.7" rx="1.2" fill="url(#gTerm)" />
<ellipse cx="674.0" cy="489.7" rx="7.46" ry="6.750500000000001" fill="#58a66f" />
<ellipse cx="674.0" cy="490.9" rx="6.900499999999999" ry="5.5765" fill="#d9efe2" />
<line x1="669.9" y1="493.5" x2="677.8" y2="487.6" stroke="#9fb7b0" stroke-width="1.3" />
<path d="M668.4 522.3 H679.6 L680.7 534.6 H667.3 Z" fill="#a5e0b2" opacity="0.55"/>
<rect x="669.0" y="522.3" width="10.1" height="7.9" rx="0" fill="#2c6b45" />
<rect x="675.5" y="524.0" width="1.9" height="5.3" rx="0" fill="#cfe6d6" opacity="0.6"/>
<ellipse cx="692.7" cy="489.7" rx="7.46" ry="6.750500000000001" fill="#58a66f" />
<ellipse cx="692.7" cy="490.9" rx="6.900499999999999" ry="5.5765" fill="#d9efe2" />
<line x1="688.6" y1="493.5" x2="696.4" y2="487.6" stroke="#9fb7b0" stroke-width="1.3" />
<path d="M687.1 522.3 H698.3 L699.4 534.6 H686.0 Z" fill="#a5e0b2" opacity="0.55"/>
<rect x="687.6" y="522.3" width="10.1" height="7.9" rx="0" fill="#2c6b45" />
<rect x="694.2" y="524.0" width="1.9" height="5.3" rx="0" fill="#cfe6d6" opacity="0.6"/>
<line x1="683.4" y1="481.0" x2="683.4" y2="537.7" stroke="#6dbb80" stroke-width="0.8" />
<line x1="664.7" y1="512.6" x2="702.0" y2="512.6" stroke="#6dbb80" stroke-width="0.8" />
<rect x="702.0" y="482.0" width="2.2" height="55.7" rx="0" fill="#2f7d4c" opacity="0.8"/>
<rect x="714.3" y="480.0" width="56.4" height="58.7" rx="1.2" fill="url(#gTerm)" />
<ellipse cx="723.7" cy="489.7" rx="7.5200000000000005" ry="6.750500000000001" fill="#58a66f" />
<ellipse cx="723.7" cy="490.9" rx="6.956" ry="5.5765" fill="#d9efe2" />
<line x1="719.6" y1="493.5" x2="727.5" y2="487.6" stroke="#9fb7b0" stroke-width="1.3" />
<path d="M718.1 522.3 H729.3 L730.5 534.6 H716.9 Z" fill="#a5e0b2" opacity="0.55"/>
<rect x="718.6" y="522.3" width="10.2" height="7.9" rx="0" fill="#2c6b45" />
<rect x="725.2" y="524.0" width="1.9" height="5.3" rx="0" fill="#cfe6d6" opacity="0.6"/>
<ellipse cx="742.5" cy="489.7" rx="7.5200000000000005" ry="6.750500000000001" fill="#58a66f" />
<ellipse cx="742.5" cy="490.9" rx="6.956" ry="5.5765" fill="#d9efe2" />
<line x1="738.4" y1="493.5" x2="746.3" y2="487.6" stroke="#9fb7b0" stroke-width="1.3" />
<path d="M736.9 522.3 H748.1 L749.3 534.6 H735.7 Z" fill="#a5e0b2" opacity="0.55"/>
<rect x="737.4" y="522.3" width="10.2" height="7.9" rx="0" fill="#2c6b45" />
<rect x="744.0" y="524.0" width="1.9" height="5.3" rx="0" fill="#cfe6d6" opacity="0.6"/>
<line x1="733.1" y1="481.0" x2="733.1" y2="537.7" stroke="#6dbb80" stroke-width="0.8" />
<ellipse cx="761.3" cy="489.7" rx="7.5200000000000005" ry="6.750500000000001" fill="#58a66f" />
<ellipse cx="761.3" cy="490.9" rx="6.956" ry="5.5765" fill="#d9efe2" />
<line x1="757.2" y1="493.5" x2="765.1" y2="487.6" stroke="#9fb7b0" stroke-width="1.3" />
<path d="M755.7 522.3 H766.9 L768.1 534.6 H754.5 Z" fill="#a5e0b2" opacity="0.55"/>
<rect x="756.2" y="522.3" width="10.2" height="7.9" rx="0" fill="#2c6b45" />
<rect x="762.8" y="524.0" width="1.9" height="5.3" rx="0" fill="#cfe6d6" opacity="0.6"/>
<line x1="751.9" y1="481.0" x2="751.9" y2="537.7" stroke="#6dbb80" stroke-width="0.8" />
<line x1="714.3" y1="512.6" x2="770.7" y2="512.6" stroke="#6dbb80" stroke-width="0.8" />
<rect x="770.7" y="482.0" width="2.2" height="55.7" rx="0" fill="#2f7d4c" opacity="0.8"/>
<rect x="893.0" y="506.0" width="51.0" height="16.0" rx="0" fill="#1c9745" />
<rect x="893.5" y="484" width="50" height="36" fill="none" stroke="#dff0e4" stroke-width="1"/>
<circle cx="904.0" cy="492.0" r="3.2" fill="#c8ccc9" />
<circle cx="904.0" cy="492.0" r="1.2" fill="#6a726c" />
<circle cx="904.0" cy="511.0" r="3.2" fill="#c8ccc9" />
<circle cx="904.0" cy="511.0" r="1.2" fill="#6a726c" />
<circle cx="933.0" cy="492.0" r="3.2" fill="#c8ccc9" />
<circle cx="933.0" cy="492.0" r="1.2" fill="#6a726c" />
<circle cx="933.0" cy="511.0" r="3.2" fill="#c8ccc9" />
<circle cx="933.0" cy="511.0" r="1.2" fill="#6a726c" />
<rect x="896.0" y="520.0" width="45.0" height="58.5" rx="1.2" fill="url(#gTerm)" />
<ellipse cx="907.2" cy="529.7" rx="9.0" ry="6.7275" fill="#58a66f" />
<ellipse cx="907.2" cy="530.8" rx="8.325" ry="5.5575" fill="#d9efe2" />
<line x1="902.3" y1="533.5" x2="911.8" y2="527.6" stroke="#9fb7b0" stroke-width="1.3" />
<path d="M900.5 562.1 H914.0 L915.4 574.4 H899.1 Z" fill="#a5e0b2" opacity="0.55"/>
<rect x="901.2" y="562.1" width="12.2" height="7.9" rx="0" fill="#2c6b45" />
<rect x="909.0" y="563.9" width="2.2" height="5.3" rx="0" fill="#cfe6d6" opacity="0.6"/>
<ellipse cx="929.8" cy="529.7" rx="9.0" ry="6.7275" fill="#58a66f" />
<ellipse cx="929.8" cy="530.8" rx="8.325" ry="5.5575" fill="#d9efe2" />
<line x1="924.8" y1="533.5" x2="934.2" y2="527.6" stroke="#9fb7b0" stroke-width="1.3" />
<path d="M923.0 562.1 H936.5 L937.9 574.4 H921.6 Z" fill="#a5e0b2" opacity="0.55"/>
<rect x="923.7" y="562.1" width="12.2" height="7.9" rx="0" fill="#2c6b45" />
<rect x="931.5" y="563.9" width="2.2" height="5.3" rx="0" fill="#cfe6d6" opacity="0.6"/>
<line x1="918.5" y1="521.0" x2="918.5" y2="577.5" stroke="#6dbb80" stroke-width="0.8" />
<line x1="896.0" y1="552.5" x2="941.0" y2="552.5" stroke="#6dbb80" stroke-width="0.8" />
<rect x="941.0" y="522.0" width="2.2" height="55.5" rx="0" fill="#2f7d4c" opacity="0.8"/>
<text x="896.0" y="483.0" font-size="6" font-weight="normal" fill="#e6f3ea" text-anchor="start" style='font-family:"DejaVu Sans",sans-serif' >S2</text>
<line x1="914.5" y1="578.5" x2="914.5" y2="596.0" stroke="#e6f3ea" stroke-width="1" />
<circle cx="914.5" cy="600.0" r="10" fill="none" stroke="#e6f3ea" stroke-width="1"/>
<line x1="907.5" y1="597.0" x2="921.5" y2="597.0" stroke="#e6f3ea" stroke-width="1" />
<line x1="909.5" y1="600.5" x2="919.5" y2="600.5" stroke="#e6f3ea" stroke-width="1" />
<line x1="911.5" y1="604.0" x2="917.5" y2="604.0" stroke="#e6f3ea" stroke-width="1" />
<text x="942.3" y="583.3" font-size="12" font-weight="normal" fill="#e6f3ea" text-anchor="start" textLength="82" lengthAdjust="spacingAndGlyphs" style='font-family:"DejaVu Sans Mono",monospace' >PROTECTION</text>
<rect x="207.0" y="485.0" width="44.0" height="59.0" rx="1.2" fill="url(#gTermR)" />
<ellipse cx="218.0" cy="494.7" rx="8.8" ry="6.785" fill="#c9604b" />
<ellipse cx="218.0" cy="495.9" rx="8.14" ry="5.605" fill="#f3f3f6" />
<line x1="213.2" y1="498.6" x2="222.4" y2="492.7" stroke="#8aa0c8" stroke-width="1.3" />
<path d="M211.4 527.5 H224.6 L225.9 539.9 H210.1 Z" fill="#f7ab98" opacity="0.55"/>
<rect x="212.1" y="527.5" width="11.9" height="8.0" rx="0" fill="#3a4a32" />
<rect x="219.8" y="529.2" width="2.2" height="5.3" rx="0" fill="#f0c0b4" opacity="0.6"/>
<ellipse cx="240.0" cy="494.7" rx="8.8" ry="6.785" fill="#c9604b" />
<ellipse cx="240.0" cy="495.9" rx="8.14" ry="5.605" fill="#f3f3f6" />
<line x1="235.2" y1="498.6" x2="244.4" y2="492.7" stroke="#8aa0c8" stroke-width="1.3" />
<path d="M233.4 527.5 H246.6 L247.9 539.9 H232.1 Z" fill="#f7ab98" opacity="0.55"/>
<rect x="234.1" y="527.5" width="11.9" height="8.0" rx="0" fill="#3a4a32" />
<rect x="241.8" y="529.2" width="2.2" height="5.3" rx="0" fill="#f0c0b4" opacity="0.6"/>
<line x1="229.0" y1="486.0" x2="229.0" y2="543.0" stroke="#e07a64" stroke-width="0.8" />
<line x1="207.0" y1="517.7" x2="251.0" y2="517.7" stroke="#e07a64" stroke-width="0.8" />
<rect x="251.0" y="487.0" width="2.2" height="56.0" rx="0" fill="#b5543f" opacity="0.8"/>
<text x="211.0" y="561.0" font-size="14" font-weight="normal" fill="#e6f3ea" text-anchor="start" style='font-family:"DejaVu Sans",sans-serif' >L</text>
<text x="232.0" y="561.0" font-size="14" font-weight="normal" fill="#e6f3ea" text-anchor="start" style='font-family:"DejaVu Sans",sans-serif' >N</text>
<text x="203.5" y="576.0" font-size="8.5" font-weight="normal" fill="#e6f3ea" text-anchor="start" textLength="50" lengthAdjust="spacingAndGlyphs" style='font-family:"DejaVu Sans",sans-serif' >(AC220V)</text>
<rect x="216.4" y="363.9" width="38.8" height="117.8" rx="3" fill="#c3c9c6" opacity="0.95"/>
<rect x="218.4" y="366.0" width="34.8" height="113.5" rx="2" fill="#9aa19e" opacity="0.9"/>
<rect x="216.4" y="363.9" width="5.6" height="117.8" rx="2" fill="#e9edeb" opacity="0.85"/>
<rect x="246.5" y="366.0" width="8.0" height="114.0" rx="1" fill="#d6dbd9" opacity="0.9"/>
<rect x="219.0" y="364.5" width="34.0" height="4.5" rx="1" fill="#e6eae8" opacity="0.9"/>
<line x1="222.8" y1="367.0" x2="222.8" y2="478.0" stroke="#f7f9f8" stroke-width="1" />
<line x1="245.5" y1="372.0" x2="245.5" y2="470.0" stroke="#f4f6f5" stroke-width="1.2" />
<rect x="247.0" y="410.0" width="5.0" height="22.0" rx="2" fill="#e3e7e5" opacity="0.9"/>
<rect x="224.5" y="376.0" width="22.5" height="6.0" rx="2" fill="#3c3f40" />
<rect x="225.6" y="381.5" width="21.4" height="22.5" rx="2" fill="url(#gMetal)" />
<rect x="228.0" y="404.0" width="16.5" height="40.0" rx="1" fill="#7e8583" />
<rect x="230.5" y="404.0" width="5.0" height="40.0" rx="0" fill="#d5d9d8" opacity="0.9"/>
<rect x="239.5" y="404.0" width="3.5" height="40.0" rx="0" fill="#5f6664" opacity="0.8"/>
<rect x="225.6" y="444.0" width="21.4" height="22.5" rx="2" fill="url(#gMetal)" />
<rect x="225.6" y="456.0" width="21.4" height="3.0" rx="0" fill="#6d7376" opacity="0.5"/>
<rect x="224.5" y="466.5" width="23.5" height="4.5" rx="1" fill="#4a4e4f" />
<rect x="221.0" y="472.0" width="31.0" height="8.0" rx="1" fill="#cfd5d3" opacity="0.9"/>
<text x="334.0" y="328.5" font-size="6.2" font-weight="normal" fill="#e6f3ea" text-anchor="start" style='font-family:"DejaVu Sans",sans-serif' >R12</text>
<rect x="333.7" y="331.0" width="10.5" height="21" fill="none" stroke="#e6f3ea" stroke-width="1"/>
<rect x="336.0" y="333.5" width="5.9" height="5.5" rx="0.6" fill="#d7dbd8" />
<rect x="336.0" y="344.0" width="5.9" height="5.5" rx="0.6" fill="#d7dbd8" />
<rect x="336.7" y="339.0" width="4.5" height="5.0" rx="0" fill="#55514a" />
<text x="349.0" y="336.5" font-size="6.2" font-weight="normal" fill="#e6f3ea" text-anchor="start" style='font-family:"DejaVu Sans",sans-serif' >R42</text>
<rect x="346.0" y="338.5" width="21" height="10.5" fill="none" stroke="#e6f3ea" stroke-width="1"/>
<rect x="348.5" y="340.8" width="5.5" height="5.9" rx="0.6" fill="#d7dbd8" />
<rect x="359.0" y="340.8" width="5.5" height="5.9" rx="0.6" fill="#d7dbd8" />
<rect x="354.0" y="341.5" width="5.0" height="4.5" rx="0" fill="#2d322f" />
<rect x="339.5" y="355.0" width="11.0" height="12.0" rx="1.5" fill="#1d1f1e" />
<rect x="336.5" y="355.5" width="4.0" height="3.5" rx="0.8" fill="#dfe2e0" />
<rect x="336.5" y="363.0" width="4.0" height="3.5" rx="0.8" fill="#dfe2e0" />
<rect x="349.5" y="359.3" width="4.0" height="3.5" rx="0.8" fill="#dfe2e0" />
<rect x="352.5" y="351.5" width="13.5" height="21" rx="5" fill="none" stroke="#e6f3ea" stroke-width="1"/>
<rect x="356.3" y="355.0" width="6.0" height="14.0" rx="1" fill="#e3e3dc" />
<rect x="356.3" y="365.5" width="6.0" height="3.5" rx="0.5" fill="#c8b79a" />
<text x="342.0" y="374.0" font-size="5.5" font-weight="normal" fill="#e6f3ea" text-anchor="start" style='font-family:"DejaVu Sans",sans-serif' >Q3</text>
<text transform="translate(373.0 370) rotate(-90)" font-size="5.5" fill="#e6f3ea" style='font-family:"DejaVu Sans",sans-serif'>LED5</text>
<text x="376.1" y="328.5" font-size="6.2" font-weight="normal" fill="#e6f3ea" text-anchor="start" style='font-family:"DejaVu Sans",sans-serif' >R13</text>
<rect x="375.8" y="331.0" width="10.5" height="21" fill="none" stroke="#e6f3ea" stroke-width="1"/>
<rect x="378.1" y="333.5" width="5.9" height="5.5" rx="0.6" fill="#d7dbd8" />
<rect x="378.1" y="344.0" width="5.9" height="5.5" rx="0.6" fill="#d7dbd8" />
<rect x="378.8" y="339.0" width="4.5" height="5.0" rx="0" fill="#55514a" />
<text x="391.1" y="336.5" font-size="6.2" font-weight="normal" fill="#e6f3ea" text-anchor="start" style='font-family:"DejaVu Sans",sans-serif' >R43</text>
<rect x="388.1" y="338.5" width="21" height="10.5" fill="none" stroke="#e6f3ea" stroke-width="1"/>
<rect x="390.6" y="340.8" width="5.5" height="5.9" rx="0.6" fill="#d7dbd8" />
<rect x="401.1" y="340.8" width="5.5" height="5.9" rx="0.6" fill="#d7dbd8" />
<rect x="396.1" y="341.5" width="5.0" height="4.5" rx="0" fill="#2d322f" />
<rect x="381.6" y="355.0" width="11.0" height="12.0" rx="1.5" fill="#1d1f1e" />
<rect x="378.6" y="355.5" width="4.0" height="3.5" rx="0.8" fill="#dfe2e0" />
<rect x="378.6" y="363.0" width="4.0" height="3.5" rx="0.8" fill="#dfe2e0" />
<rect x="391.6" y="359.3" width="4.0" height="3.5" rx="0.8" fill="#dfe2e0" />
<rect x="394.6" y="351.5" width="13.5" height="21" rx="5" fill="none" stroke="#e6f3ea" stroke-width="1"/>
<rect x="398.4" y="355.0" width="6.0" height="14.0" rx="1" fill="#e3e3dc" />
<rect x="398.4" y="365.5" width="6.0" height="3.5" rx="0.5" fill="#c8b79a" />
<text x="384.1" y="374.0" font-size="5.5" font-weight="normal" fill="#e6f3ea" text-anchor="start" style='font-family:"DejaVu Sans",sans-serif' >Q4</text>
<text transform="translate(415.1 370) rotate(-90)" font-size="5.5" fill="#e6f3ea" style='font-family:"DejaVu Sans",sans-serif'>LED6</text>
<text x="418.3" y="328.5" font-size="6.2" font-weight="normal" fill="#e6f3ea" text-anchor="start" style='font-family:"DejaVu Sans",sans-serif' >R14</text>
<rect x="418.0" y="331.0" width="10.5" height="21" fill="none" stroke="#e6f3ea" stroke-width="1"/>
<rect x="420.3" y="333.5" width="5.9" height="5.5" rx="0.6" fill="#d7dbd8" />
<rect x="420.3" y="344.0" width="5.9" height="5.5" rx="0.6" fill="#d7dbd8" />
<rect x="421.0" y="339.0" width="4.5" height="5.0" rx="0" fill="#55514a" />
<text x="433.3" y="336.5" font-size="6.2" font-weight="normal" fill="#e6f3ea" text-anchor="start" style='font-family:"DejaVu Sans",sans-serif' >R44</text>
<rect x="430.3" y="338.5" width="21" height="10.5" fill="none" stroke="#e6f3ea" stroke-width="1"/>
<rect x="432.8" y="340.8" width="5.5" height="5.9" rx="0.6" fill="#d7dbd8" />
<rect x="443.3" y="340.8" width="5.5" height="5.9" rx="0.6" fill="#d7dbd8" />
<rect x="438.3" y="341.5" width="5.0" height="4.5" rx="0" fill="#2d322f" />
<rect x="423.8" y="355.0" width="11.0" height="12.0" rx="1.5" fill="#1d1f1e" />
<rect x="420.8" y="355.5" width="4.0" height="3.5" rx="0.8" fill="#dfe2e0" />
<rect x="420.8" y="363.0" width="4.0" height="3.5" rx="0.8" fill="#dfe2e0" />
<rect x="433.8" y="359.3" width="4.0" height="3.5" rx="0.8" fill="#dfe2e0" />
<rect x="436.8" y="351.5" width="13.5" height="21" rx="5" fill="none" stroke="#e6f3ea" stroke-width="1"/>
<rect x="440.6" y="355.0" width="6.0" height="14.0" rx="1" fill="#e3e3dc" />
<rect x="440.6" y="365.5" width="6.0" height="3.5" rx="0.5" fill="#c8b79a" />
<text x="426.3" y="374.0" font-size="5.5" font-weight="normal" fill="#e6f3ea" text-anchor="start" style='font-family:"DejaVu Sans",sans-serif' >Q5</text>
<text transform="translate(457.3 370) rotate(-90)" font-size="5.5" fill="#e6f3ea" style='font-family:"DejaVu Sans",sans-serif'>LED7</text>
<text x="460.4" y="328.5" font-size="6.2" font-weight="normal" fill="#e6f3ea" text-anchor="start" style='font-family:"DejaVu Sans",sans-serif' >R15</text>
<rect x="460.1" y="331.0" width="10.5" height="21" fill="none" stroke="#e6f3ea" stroke-width="1"/>
<rect x="462.4" y="333.5" width="5.9" height="5.5" rx="0.6" fill="#d7dbd8" />
<rect x="462.4" y="344.0" width="5.9" height="5.5" rx="0.6" fill="#d7dbd8" />
<rect x="463.1" y="339.0" width="4.5" height="5.0" rx="0" fill="#55514a" />
<text x="475.4" y="336.5" font-size="6.2" font-weight="normal" fill="#e6f3ea" text-anchor="start" style='font-family:"DejaVu Sans",sans-serif' >R45</text>
<rect x="472.4" y="338.5" width="21" height="10.5" fill="none" stroke="#e6f3ea" stroke-width="1"/>
<rect x="474.9" y="340.8" width="5.5" height="5.9" rx="0.6" fill="#d7dbd8" />
<rect x="485.4" y="340.8" width="5.5" height="5.9" rx="0.6" fill="#d7dbd8" />
<rect x="480.4" y="341.5" width="5.0" height="4.5" rx="0" fill="#2d322f" />
<rect x="465.9" y="355.0" width="11.0" height="12.0" rx="1.5" fill="#1d1f1e" />
<rect x="462.9" y="355.5" width="4.0" height="3.5" rx="0.8" fill="#dfe2e0" />
<rect x="462.9" y="363.0" width="4.0" height="3.5" rx="0.8" fill="#dfe2e0" />
<rect x="475.9" y="359.3" width="4.0" height="3.5" rx="0.8" fill="#dfe2e0" />
<rect x="478.9" y="351.5" width="13.5" height="21" rx="5" fill="none" stroke="#e6f3ea" stroke-width="1"/>
<rect x="482.8" y="355.0" width="6.0" height="14.0" rx="1" fill="#e3e3dc" />
<rect x="482.8" y="365.5" width="6.0" height="3.5" rx="0.5" fill="#c8b79a" />
<text x="468.4" y="374.0" font-size="5.5" font-weight="normal" fill="#e6f3ea" text-anchor="start" style='font-family:"DejaVu Sans",sans-serif' >Q6</text>
<text transform="translate(499.4 370) rotate(-90)" font-size="5.5" fill="#e6f3ea" style='font-family:"DejaVu Sans",sans-serif'>LED8</text>
<text x="502.6" y="328.5" font-size="6.2" font-weight="normal" fill="#e6f3ea" text-anchor="start" style='font-family:"DejaVu Sans",sans-serif' >R16</text>
<rect x="502.3" y="331.0" width="10.5" height="21" fill="none" stroke="#e6f3ea" stroke-width="1"/>
<rect x="504.6" y="333.5" width="5.9" height="5.5" rx="0.6" fill="#d7dbd8" />
<rect x="504.6" y="344.0" width="5.9" height="5.5" rx="0.6" fill="#d7dbd8" />
<rect x="505.3" y="339.0" width="4.5" height="5.0" rx="0" fill="#55514a" />
<text x="517.6" y="336.5" font-size="6.2" font-weight="normal" fill="#e6f3ea" text-anchor="start" style='font-family:"DejaVu Sans",sans-serif' >R46</text>
<rect x="514.6" y="338.5" width="21" height="10.5" fill="none" stroke="#e6f3ea" stroke-width="1"/>
<rect x="517.1" y="340.8" width="5.5" height="5.9" rx="0.6" fill="#d7dbd8" />
<rect x="527.6" y="340.8" width="5.5" height="5.9" rx="0.6" fill="#d7dbd8" />
<rect x="522.6" y="341.5" width="5.0" height="4.5" rx="0" fill="#2d322f" />
<rect x="508.1" y="355.0" width="11.0" height="12.0" rx="1.5" fill="#1d1f1e" />
<rect x="505.1" y="355.5" width="4.0" height="3.5" rx="0.8" fill="#dfe2e0" />
<rect x="505.1" y="363.0" width="4.0" height="3.5" rx="0.8" fill="#dfe2e0" />
<rect x="518.1" y="359.3" width="4.0" height="3.5" rx="0.8" fill="#dfe2e0" />
<rect x="521.1" y="351.5" width="13.5" height="21" rx="5" fill="none" stroke="#e6f3ea" stroke-width="1"/>
<rect x="524.9" y="355.0" width="6.0" height="14.0" rx="1" fill="#e3e3dc" />
<rect x="524.9" y="365.5" width="6.0" height="3.5" rx="0.5" fill="#c8b79a" />
<text x="510.6" y="374.0" font-size="5.5" font-weight="normal" fill="#e6f3ea" text-anchor="start" style='font-family:"DejaVu Sans",sans-serif' >Q7</text>
<text transform="translate(541.6 370) rotate(-90)" font-size="5.5" fill="#e6f3ea" style='font-family:"DejaVu Sans",sans-serif'>LED9</text>
<text x="544.8" y="328.5" font-size="6.2" font-weight="normal" fill="#e6f3ea" text-anchor="start" style='font-family:"DejaVu Sans",sans-serif' >R17</text>
<rect x="544.5" y="331.0" width="10.5" height="21" fill="none" stroke="#e6f3ea" stroke-width="1"/>
<rect x="546.8" y="333.5" width="5.9" height="5.5" rx="0.6" fill="#d7dbd8" />
<rect x="546.8" y="344.0" width="5.9" height="5.5" rx="0.6" fill="#d7dbd8" />
<rect x="547.5" y="339.0" width="4.5" height="5.0" rx="0" fill="#55514a" />
<text x="559.8" y="336.5" font-size="6.2" font-weight="normal" fill="#e6f3ea" text-anchor="start" style='font-family:"DejaVu Sans",sans-serif' >R47</text>
<rect x="556.8" y="338.5" width="21" height="10.5" fill="none" stroke="#e6f3ea" stroke-width="1"/>
<rect x="559.2" y="340.8" width="5.5" height="5.9" rx="0.6" fill="#d7dbd8" />
<rect x="569.8" y="340.8" width="5.5" height="5.9" rx="0.6" fill="#d7dbd8" />
<rect x="564.8" y="341.5" width="5.0" height="4.5" rx="0" fill="#2d322f" />
<rect x="550.2" y="355.0" width="11.0" height="12.0" rx="1.5" fill="#1d1f1e" />
<rect x="547.2" y="355.5" width="4.0" height="3.5" rx="0.8" fill="#dfe2e0" />
<rect x="547.2" y="363.0" width="4.0" height="3.5" rx="0.8" fill="#dfe2e0" />
<rect x="560.2" y="359.3" width="4.0" height="3.5" rx="0.8" fill="#dfe2e0" />
<rect x="563.2" y="351.5" width="13.5" height="21" rx="5" fill="none" stroke="#e6f3ea" stroke-width="1"/>
<rect x="567.0" y="355.0" width="6.0" height="14.0" rx="1" fill="#e3e3dc" />
<rect x="567.0" y="365.5" width="6.0" height="3.5" rx="0.5" fill="#c8b79a" />
<text x="552.8" y="374.0" font-size="5.5" font-weight="normal" fill="#e6f3ea" text-anchor="start" style='font-family:"DejaVu Sans",sans-serif' >Q8</text>
<text transform="translate(583.8 370) rotate(-90)" font-size="5.5" fill="#e6f3ea" style='font-family:"DejaVu Sans",sans-serif'>LED10</text>
<text x="586.9" y="328.5" font-size="6.2" font-weight="normal" fill="#e6f3ea" text-anchor="start" style='font-family:"DejaVu Sans",sans-serif' >R18</text>
<rect x="586.6" y="331.0" width="10.5" height="21" fill="none" stroke="#e6f3ea" stroke-width="1"/>
<rect x="588.9" y="333.5" width="5.9" height="5.5" rx="0.6" fill="#d7dbd8" />
<rect x="588.9" y="344.0" width="5.9" height="5.5" rx="0.6" fill="#d7dbd8" />
<rect x="589.6" y="339.0" width="4.5" height="5.0" rx="0" fill="#55514a" />
<text x="601.9" y="336.5" font-size="6.2" font-weight="normal" fill="#e6f3ea" text-anchor="start" style='font-family:"DejaVu Sans",sans-serif' >R48</text>
<rect x="598.9" y="338.5" width="21" height="10.5" fill="none" stroke="#e6f3ea" stroke-width="1"/>
<rect x="601.4" y="340.8" width="5.5" height="5.9" rx="0.6" fill="#d7dbd8" />
<rect x="611.9" y="340.8" width="5.5" height="5.9" rx="0.6" fill="#d7dbd8" />
<rect x="606.9" y="341.5" width="5.0" height="4.5" rx="0" fill="#2d322f" />
<rect x="592.4" y="355.0" width="11.0" height="12.0" rx="1.5" fill="#1d1f1e" />
<rect x="589.4" y="355.5" width="4.0" height="3.5" rx="0.8" fill="#dfe2e0" />
<rect x="589.4" y="363.0" width="4.0" height="3.5" rx="0.8" fill="#dfe2e0" />
<rect x="602.4" y="359.3" width="4.0" height="3.5" rx="0.8" fill="#dfe2e0" />
<rect x="605.4" y="351.5" width="13.5" height="21" rx="5" fill="none" stroke="#e6f3ea" stroke-width="1"/>
<rect x="609.2" y="355.0" width="6.0" height="14.0" rx="1" fill="#e3e3dc" />
<rect x="609.2" y="365.5" width="6.0" height="3.5" rx="0.5" fill="#c8b79a" />
<text x="594.9" y="374.0" font-size="5.5" font-weight="normal" fill="#e6f3ea" text-anchor="start" style='font-family:"DejaVu Sans",sans-serif' >Q9</text>
<text transform="translate(625.9 370) rotate(-90)" font-size="5.5" fill="#e6f3ea" style='font-family:"DejaVu Sans",sans-serif'>LED11</text>
<text x="629.0" y="328.5" font-size="6.2" font-weight="normal" fill="#e6f3ea" text-anchor="start" style='font-family:"DejaVu Sans",sans-serif' >R19</text>
<rect x="628.8" y="331.0" width="10.5" height="21" fill="none" stroke="#e6f3ea" stroke-width="1"/>
<rect x="631.0" y="333.5" width="5.9" height="5.5" rx="0.6" fill="#d7dbd8" />
<rect x="631.0" y="344.0" width="5.9" height="5.5" rx="0.6" fill="#d7dbd8" />
<rect x="631.8" y="339.0" width="4.5" height="5.0" rx="0" fill="#55514a" />
<text x="644.0" y="336.5" font-size="6.2" font-weight="normal" fill="#e6f3ea" text-anchor="start" style='font-family:"DejaVu Sans",sans-serif' >R49</text>
<rect x="641.0" y="338.5" width="21" height="10.5" fill="none" stroke="#e6f3ea" stroke-width="1"/>
<rect x="643.5" y="340.8" width="5.5" height="5.9" rx="0.6" fill="#d7dbd8" />
<rect x="654.0" y="340.8" width="5.5" height="5.9" rx="0.6" fill="#d7dbd8" />
<rect x="649.0" y="341.5" width="5.0" height="4.5" rx="0" fill="#2d322f" />
<rect x="634.5" y="355.0" width="11.0" height="12.0" rx="1.5" fill="#1d1f1e" />
<rect x="631.5" y="355.5" width="4.0" height="3.5" rx="0.8" fill="#dfe2e0" />
<rect x="631.5" y="363.0" width="4.0" height="3.5" rx="0.8" fill="#dfe2e0" />
<rect x="644.5" y="359.3" width="4.0" height="3.5" rx="0.8" fill="#dfe2e0" />
<rect x="647.5" y="351.5" width="13.5" height="21" rx="5" fill="none" stroke="#e6f3ea" stroke-width="1"/>
<rect x="651.3" y="355.0" width="6.0" height="14.0" rx="1" fill="#e3e3dc" />
<rect x="651.3" y="365.5" width="6.0" height="3.5" rx="0.5" fill="#c8b79a" />
<text x="637.0" y="374.0" font-size="5.5" font-weight="normal" fill="#e6f3ea" text-anchor="start" style='font-family:"DejaVu Sans",sans-serif' >Q10</text>
<text transform="translate(668.0 370) rotate(-90)" font-size="5.5" fill="#e6f3ea" style='font-family:"DejaVu Sans",sans-serif'>LED12</text>
<text x="264.0" y="337.0" font-size="6.2" font-weight="normal" fill="#e6f3ea" text-anchor="start" style='font-family:"DejaVu Sans",sans-serif' >R40</text>
<rect x="262.0" y="339.5" width="21" height="10.5" fill="none" stroke="#e6f3ea" stroke-width="1"/>
<rect x="264.5" y="341.8" width="5.5" height="5.9" rx="0.6" fill="#d7dbd8" />
<rect x="275.0" y="341.8" width="5.5" height="5.9" rx="0.6" fill="#d7dbd8" />
<rect x="270.0" y="342.5" width="5.0" height="4.5" rx="0" fill="#2d322f" />
<text x="284.5" y="337.5" font-size="6.2" font-weight="normal" fill="#e6f3ea" text-anchor="start" style='font-family:"DejaVu Sans",sans-serif' >R10</text>
<rect x="285.0" y="340.0" width="10.5" height="19" fill="none" stroke="#e6f3ea" stroke-width="1"/>
<rect x="287.3" y="342.5" width="5.9" height="5.5" rx="0.6" fill="#d7dbd8" />
<rect x="287.3" y="351.0" width="5.9" height="5.5" rx="0.6" fill="#d7dbd8" />
<rect x="288.0" y="348.0" width="4.5" height="3.0" rx="0" fill="#55514a" />
<text x="304.0" y="326.0" font-size="6.2" font-weight="normal" fill="#e6f3ea" text-anchor="start" style='font-family:"DejaVu Sans",sans-serif' >R11</text>
<rect x="303.5" y="327.5" width="21" height="10.5" fill="none" stroke="#e6f3ea" stroke-width="1"/>
<rect x="306.0" y="329.8" width="5.5" height="5.9" rx="0.6" fill="#d7dbd8" />
<rect x="316.5" y="329.8" width="5.5" height="5.9" rx="0.6" fill="#d7dbd8" />
<rect x="311.5" y="330.5" width="5.0" height="4.5" rx="0" fill="#2d322f" />
<rect x="303.5" y="340.0" width="21" height="10.5" fill="none" stroke="#e6f3ea" stroke-width="1"/>
<rect x="306.0" y="342.3" width="5.5" height="5.9" rx="0.6" fill="#d7dbd8" />
<rect x="316.5" y="342.3" width="5.5" height="5.9" rx="0.6" fill="#d7dbd8" />
<rect x="311.5" y="343.0" width="5.0" height="4.5" rx="0" fill="#2d322f" />
<rect x="259.0" y="355.0" width="11.0" height="12.0" rx="1.5" fill="#1d1f1e" />
<rect x="256.0" y="355.5" width="4.0" height="3.5" rx="0.8" fill="#dfe2e0" />
<rect x="256.0" y="363.0" width="4.0" height="3.5" rx="0.8" fill="#dfe2e0" />
<rect x="269.0" y="359.3" width="4.0" height="3.5" rx="0.8" fill="#dfe2e0" />
<rect x="271.0" y="351.5" width="13.5" height="21" rx="5" fill="none" stroke="#e6f3ea" stroke-width="1"/>
<rect x="274.8" y="355.0" width="6.0" height="14.0" rx="1" fill="#e3e3dc" />
<rect x="274.8" y="365.5" width="6.0" height="3.5" rx="0.5" fill="#c8b79a" />
<text x="268.0" y="378.0" font-size="5.8" font-weight="normal" fill="#e6f3ea" text-anchor="start" style='font-family:"DejaVu Sans",sans-serif' >LED3</text>
<rect x="299.0" y="355.0" width="11.0" height="12.0" rx="1.5" fill="#1d1f1e" />
<rect x="296.0" y="355.5" width="4.0" height="3.5" rx="0.8" fill="#dfe2e0" />
<rect x="296.0" y="363.0" width="4.0" height="3.5" rx="0.8" fill="#dfe2e0" />
<rect x="309.0" y="359.3" width="4.0" height="3.5" rx="0.8" fill="#dfe2e0" />
<rect x="313.0" y="351.5" width="13.5" height="21" rx="5" fill="none" stroke="#e6f3ea" stroke-width="1"/>
<rect x="316.8" y="355.0" width="6.0" height="14.0" rx="1" fill="#e3e3dc" />
<rect x="316.8" y="365.5" width="6.0" height="3.5" rx="0.5" fill="#c8b79a" />
<text x="300.0" y="374.0" font-size="5.5" font-weight="normal" fill="#e6f3ea" text-anchor="start" style='font-family:"DejaVu Sans",sans-serif' >Q3</text>
<text transform="translate(333 370) rotate(-90)" font-size="5.5" fill="#e6f3ea" style='font-family:"DejaVu Sans",sans-serif'>LED4</text>
<circle cx="268.5" cy="320.5" r="7.2" fill="#b9b7a8" />
<circle cx="268.5" cy="320.5" r="5.6" fill="#e6e4d6" />
<circle cx="268.5" cy="320.5" r="3.2" fill="#a9a594" />
<line x1="265.5" y1="320.5" x2="271.5" y2="320.5" stroke="#6e6b5c" stroke-width="1.2" />
<line x1="268.5" y1="317.5" x2="268.5" y2="323.5" stroke="#6e6b5c" stroke-width="1.2" />
<circle cx="201.6" cy="610.7" r="6.5" fill="#b9b7a8" />
<circle cx="201.6" cy="610.7" r="5" fill="#e6e4d6" />
<circle cx="201.6" cy="610.7" r="2.8" fill="#a9a594" />
<line x1="198.6" y1="610.7" x2="204.6" y2="610.7" stroke="#6e6b5c" stroke-width="1.1" />
<line x1="201.6" y1="607.7" x2="201.6" y2="613.7" stroke="#6e6b5c" stroke-width="1.1" />
<circle cx="1107.0" cy="320.5" r="6.5" fill="#b9b7a8" />
<circle cx="1107.0" cy="320.5" r="5" fill="#e6e4d6" />
<circle cx="1107.0" cy="320.5" r="2.8" fill="#a9a594" />
<line x1="1104.0" y1="320.5" x2="1110.0" y2="320.5" stroke="#6e6b5c" stroke-width="1.1" />
<line x1="1107.0" y1="317.5" x2="1107.0" y2="323.5" stroke="#6e6b5c" stroke-width="1.1" />
<circle cx="1107.0" cy="614.0" r="6.5" fill="#b9b7a8" />
<circle cx="1107.0" cy="614.0" r="5" fill="#e6e4d6" />
<circle cx="1107.0" cy="614.0" r="2.8" fill="#a9a594" />
<line x1="1104.0" y1="614.0" x2="1110.0" y2="614.0" stroke="#6e6b5c" stroke-width="1.1" />
<line x1="1107.0" y1="611.0" x2="1107.0" y2="617.0" stroke="#6e6b5c" stroke-width="1.1" />
<text x="681.0" y="349.5" font-size="5.8" font-weight="normal" fill="#e6f3ea" text-anchor="start" style='font-family:"DejaVu Sans",sans-serif' >R8</text>
<rect x="680.7" y="351.5" width="9" height="21" fill="none" stroke="#e6f3ea" stroke-width="1"/>
<rect x="683.0" y="354.0" width="4.4" height="5.5" rx="0.6" fill="#d7dbd8" />
<rect x="683.0" y="364.5" width="4.4" height="5.5" rx="0.6" fill="#d7dbd8" />
<rect x="683.7" y="359.5" width="3.0" height="5.0" rx="0" fill="#55514a" />
<rect x="692.0" y="351.2" width="13.5" height="21" rx="5" fill="none" stroke="#e6f3ea" stroke-width="1"/>
<rect x="695.8" y="354.7" width="6.0" height="14.0" rx="1" fill="#e3e3dc" />
<rect x="695.8" y="365.2" width="6.0" height="3.5" rx="0.5" fill="#c8b79a" />
<rect x="707.5" y="351.0" width="21" height="10.5" fill="none" stroke="#e6f3ea" stroke-width="1"/>
<rect x="710.0" y="353.3" width="5.5" height="5.9" rx="0.6" fill="#d7dbd8" />
<rect x="720.5" y="353.3" width="5.5" height="5.9" rx="0.6" fill="#d7dbd8" />
<rect x="715.5" y="354.0" width="5.0" height="4.5" rx="0" fill="#2d322f" />
<text x="715.0" y="368.5" font-size="5.8" font-weight="normal" fill="#e6f3ea" text-anchor="start" style='font-family:"DejaVu Sans",sans-serif' >R7</text>
<text x="703.0" y="377.0" font-size="5.8" font-weight="normal" fill="#e6f3ea" text-anchor="start" style='font-family:"DejaVu Sans",sans-serif' >LED2</text>
<g stroke="#e6f3ea" stroke-width="1" fill="none"><path d="M267.5 545.5 V554.5 H272.5 M287.5 545.5 V554.5 H282.5"/><rect x="272.5" y="546" width="10" height="10.5"/><path d="M275.5 556.5 V563 M279.5 556.5 V563"/><rect x="267.5" y="563" width="20" height="8"/></g>
<text x="277.5" y="555.0" font-size="9" font-weight="normal" fill="#e6f3ea" text-anchor="middle" style='font-family:"DejaVu Sans",sans-serif' >1</text>
<g stroke="#e6f3ea" stroke-width="1" fill="none"><path d="M310.5 545.5 V554.5 H315.5 M330.5 545.5 V554.5 H325.5"/><rect x="315.5" y="546" width="10" height="10.5"/><path d="M318.5 556.5 V563 M322.5 556.5 V563"/><rect x="310.5" y="563" width="20" height="8"/></g>
<text x="320.5" y="555.0" font-size="9" font-weight="normal" fill="#e6f3ea" text-anchor="middle" style='font-family:"DejaVu Sans",sans-serif' >2</text>
<g stroke="#e6f3ea" stroke-width="1" fill="none"><path d="M368.5 545.5 V554.5 H373.5 M388.5 545.5 V554.5 H383.5"/><rect x="373.5" y="546" width="10" height="10.5"/><path d="M376.5 556.5 V563 M380.5 556.5 V563"/><rect x="368.5" y="563" width="20" height="8"/></g>
<text x="378.5" y="555.0" font-size="9" font-weight="normal" fill="#e6f3ea" text-anchor="middle" style='font-family:"DejaVu Sans",sans-serif' >3</text>
<g stroke="#e6f3ea" stroke-width="1" fill="none"><path d="M411.5 545.5 V554.5 H416.5 M431.5 545.5 V554.5 H426.5"/><rect x="416.5" y="546" width="10" height="10.5"/><path d="M419.5 556.5 V563 M423.5 556.5 V563"/><rect x="411.5" y="563" width="20" height="8"/></g>
<text x="421.5" y="555.0" font-size="9" font-weight="normal" fill="#e6f3ea" text-anchor="middle" style='font-family:"DejaVu Sans",sans-serif' >4</text>
<g stroke="#e6f3ea" stroke-width="1" fill="none"><path d="M470 545.5 V554.5 H475 M490 545.5 V554.5 H485"/><rect x="475" y="546" width="10" height="10.5"/><path d="M478 556.5 V563 M482 556.5 V563"/><rect x="470" y="563" width="20" height="8"/></g>
<text x="480.0" y="555.0" font-size="9" font-weight="normal" fill="#e6f3ea" text-anchor="middle" style='font-family:"DejaVu Sans",sans-serif' >5</text>
<g stroke="#e6f3ea" stroke-width="1" fill="none"><path d="M513 545.5 V554.5 H518 M533 545.5 V554.5 H528"/><rect x="518" y="546" width="10" height="10.5"/><path d="M521 556.5 V563 M525 556.5 V563"/><rect x="513" y="563" width="20" height="8"/></g>
<text x="523.0" y="555.0" font-size="9" font-weight="normal" fill="#e6f3ea" text-anchor="middle" style='font-family:"DejaVu Sans",sans-serif' >6</text>
<g stroke="#e6f3ea" stroke-width="1" fill="none"><path d="M573 545.5 V554.5 H578 M593 545.5 V554.5 H588"/><rect x="578" y="546" width="10" height="10.5"/><path d="M581 556.5 V563 M585 556.5 V563"/><rect x="573" y="563" width="20" height="8"/></g>
<text x="583.0" y="555.0" font-size="9" font-weight="normal" fill="#e6f3ea" text-anchor="middle" style='font-family:"DejaVu Sans",sans-serif' >7</text>
<g stroke="#e6f3ea" stroke-width="1" fill="none"><path d="M615 545.5 V554.5 H620 M635 545.5 V554.5 H630"/><rect x="620" y="546" width="10" height="10.5"/><path d="M623 556.5 V563 M627 556.5 V563"/><rect x="615" y="563" width="20" height="8"/></g>
<text x="625.0" y="555.0" font-size="9" font-weight="normal" fill="#e6f3ea" text-anchor="middle" style='font-family:"DejaVu Sans",sans-serif' >8</text>
<circle cx="692.0" cy="561.0" r="12.5" fill="none" stroke="#e6f3ea" stroke-width="1"/>
<circle cx="692.0" cy="561.0" r="9.5" fill="none" stroke="#e6f3ea" stroke-width="0.9"/>
<path d="M692 561 q6 -7 2 -9.5" transform="rotate(0 692 561)" fill="none" stroke="#e6f3ea" stroke-width="0.9"/>
<path d="M692 561 q6 -7 2 -9.5" transform="rotate(60 692 561)" fill="none" stroke="#e6f3ea" stroke-width="0.9"/>
<path d="M692 561 q6 -7 2 -9.5" transform="rotate(120 692 561)" fill="none" stroke="#e6f3ea" stroke-width="0.9"/>
<path d="M692 561 q6 -7 2 -9.5" transform="rotate(180 692 561)" fill="none" stroke="#e6f3ea" stroke-width="0.9"/>
<path d="M692 561 q6 -7 2 -9.5" transform="rotate(240 692 561)" fill="none" stroke="#e6f3ea" stroke-width="0.9"/>
<path d="M692 561 q6 -7 2 -9.5" transform="rotate(300 692 561)" fill="none" stroke="#e6f3ea" stroke-width="0.9"/>
<circle cx="692.0" cy="561.0" r="2" fill="none" stroke="#e6f3ea" stroke-width="0.8"/>
<path d="M676 549 h4 v24 h-4 z M704 549 h4 v24 h-4 z" fill="none" stroke="#e6f3ea" stroke-width="0.9"/>
<text x="716.0" y="550.5" font-size="10" font-weight="normal" fill="#e6f3ea" text-anchor="start" style='font-family:"DejaVu Sans",sans-serif' >NO</text>
<text x="742.0" y="550.5" font-size="10" font-weight="normal" fill="#e6f3ea" text-anchor="start" style='font-family:"DejaVu Sans",sans-serif' >NC</text>
<path d="M713 545 V572 M727 545 V572 M755 545 V572 M731 550 L750 572" fill="none" stroke="#e6f3ea" stroke-width="0.9"/>
<path d="M775 490 H812 V535 M775 535 V572 M808 535 V545 M775 558 h-2" fill="none" stroke="#e6f3ea" stroke-width="0.9"/>
<rect x="775" y="559" width="30" height="11" fill="none" stroke="#e6f3ea" stroke-width="1"/>
<path d="M787 577 L803 551 h5" fill="none" stroke="#e6f3ea" stroke-width="0.9"/>
<circle cx="781.0" cy="507.0" r="4.2" fill="#c9cdca" />
<circle cx="801.0" cy="507.0" r="4.2" fill="#c9cdca" />
<circle cx="781.0" cy="507.0" r="1.6" fill="#7a827c" />
<circle cx="801.0" cy="507.0" r="1.6" fill="#7a827c" />
<text x="774.0" y="496.0" font-size="5.5" font-weight="normal" fill="#e6f3ea" text-anchor="start" style='font-family:"DejaVu Sans",sans-serif' >15</text>
<rect x="621.0" y="573.0" width="212.0" height="45.0" rx="0" fill="#f6f6f5" />
<rect x="646.0" y="581.0" width="1.4" height="18.5" rx="0" fill="#1a1a1a" />
<rect x="648.6" y="581.0" width="2.0" height="18.5" rx="0" fill="#1a1a1a" />
<rect x="651.5" y="581.0" width="0.9" height="18.5" rx="0" fill="#1a1a1a" />
<rect x="653.3" y="581.0" width="1.4" height="18.5" rx="0" fill="#1a1a1a" />
<rect x="655.6" y="581.0" width="2.6" height="18.5" rx="0" fill="#1a1a1a" />
<rect x="659.4" y="581.0" width="0.9" height="18.5" rx="0" fill="#1a1a1a" />
<rect x="661.2" y="581.0" width="2.0" height="18.5" rx="0" fill="#1a1a1a" />
<rect x="665.4" y="581.0" width="0.9" height="18.5" rx="0" fill="#1a1a1a" />
<rect x="667.5" y="581.0" width="0.9" height="18.5" rx="0" fill="#1a1a1a" />
<rect x="670.6" y="581.0" width="0.9" height="18.5" rx="0" fill="#1a1a1a" />
<rect x="672.4" y="581.0" width="0.9" height="18.5" rx="0" fill="#1a1a1a" />
<rect x="674.2" y="581.0" width="2.6" height="18.5" rx="0" fill="#1a1a1a" />
<rect x="679.0" y="581.0" width="0.9" height="18.5" rx="0" fill="#1a1a1a" />
<rect x="681.1" y="581.0" width="0.9" height="18.5" rx="0" fill="#1a1a1a" />
<rect x="683.2" y="581.0" width="1.4" height="18.5" rx="0" fill="#1a1a1a" />
<rect x="686.8" y="581.0" width="0.9" height="18.5" rx="0" fill="#1a1a1a" />
<rect x="688.6" y="581.0" width="2.6" height="18.5" rx="0" fill="#1a1a1a" />
<rect x="692.8" y="581.0" width="2.6" height="18.5" rx="0" fill="#1a1a1a" />
<rect x="696.6" y="581.0" width="0.9" height="18.5" rx="0" fill="#1a1a1a" />
<rect x="698.7" y="581.0" width="1.4" height="18.5" rx="0" fill="#1a1a1a" />
<rect x="701.0" y="581.0" width="2.6" height="18.5" rx="0" fill="#1a1a1a" />
<rect x="704.5" y="581.0" width="2.6" height="18.5" rx="0" fill="#1a1a1a" />
<rect x="708.0" y="581.0" width="2.6" height="18.5" rx="0" fill="#1a1a1a" />
<rect x="711.8" y="581.0" width="2.0" height="18.5" rx="0" fill="#1a1a1a" />
<rect x="716.0" y="581.0" width="1.4" height="18.5" rx="0" fill="#1a1a1a" />
<rect x="719.6" y="581.0" width="2.6" height="18.5" rx="0" fill="#1a1a1a" />
<rect x="724.4" y="581.0" width="1.4" height="18.5" rx="0" fill="#1a1a1a" />
<rect x="727.4" y="581.0" width="0.9" height="18.5" rx="0" fill="#1a1a1a" />
<rect x="729.5" y="581.0" width="0.9" height="18.5" rx="0" fill="#1a1a1a" />
<rect x="731.3" y="581.0" width="2.6" height="18.5" rx="0" fill="#1a1a1a" />
<rect x="735.5" y="581.0" width="2.6" height="18.5" rx="0" fill="#1a1a1a" />
<rect x="740.3" y="581.0" width="1.4" height="18.5" rx="0" fill="#1a1a1a" />
<rect x="743.9" y="581.0" width="1.4" height="18.5" rx="0" fill="#1a1a1a" />
<rect x="746.2" y="581.0" width="0.9" height="18.5" rx="0" fill="#1a1a1a" />
<rect x="749.3" y="581.0" width="0.9" height="18.5" rx="0" fill="#1a1a1a" />
<rect x="751.8" y="581.0" width="0.9" height="18.5" rx="0" fill="#1a1a1a" />
<rect x="754.9" y="581.0" width="2.0" height="18.5" rx="0" fill="#1a1a1a" />
<rect x="757.8" y="581.0" width="0.9" height="18.5" rx="0" fill="#1a1a1a" />
<rect x="760.3" y="581.0" width="1.4" height="18.5" rx="0" fill="#1a1a1a" />
<rect x="763.3" y="581.0" width="2.6" height="18.5" rx="0" fill="#1a1a1a" />
<text x="650.0" y="612.0" font-size="11.5" font-weight="normal" fill="#333" text-anchor="start" textLength="112" lengthAdjust="spacingAndGlyphs" style='font-family:"DejaVu Sans",sans-serif' >21241459837980</text>
<g fill="none" stroke="#8a6a1a" stroke-width="2.6" opacity="0.55">
<path d="M686.7 339.5 C683.5 339 679.0 330 681.0 320 C682.0 314 685.5 311.5 687.5 313.5"/>
<path d="M693.8 339.5 C690.5 339 686.0 330 688.0 320 C689.0 314 692.5 311.5 694.5 313.5"/>
<path d="M700.8 339.5 C697.6 339 693.1 330 695.1 320 C696.1 314 699.6 311.5 701.6 313.5"/>
<path d="M707.9 339.5 C704.6 339 700.1 330 702.1 320 C703.1 314 706.6 311.5 708.6 313.5"/>
<path d="M714.9 339.5 C711.7 339 707.2 330 709.2 320 C710.2 314 713.7 311.5 715.7 313.5"/>
<path d="M722.0 339.5 C718.8 339 714.2 330 716.2 320 C717.2 314 720.8 311.5 722.8 313.5"/>
<path d="M729.0 339.5 C725.8 339 721.3 330 723.3 320 C724.3 314 727.8 311.5 729.8 313.5"/>
<path d="M736.1 339.5 C732.9 339 728.4 330 730.4 320 C731.4 314 734.9 311.5 736.9 313.5"/>
<path d="M743.1 339.5 C739.9 339 735.4 330 737.4 320 C738.4 314 741.9 311.5 743.9 313.5"/>
<path d="M750.2 339.5 C747.0 339 742.5 330 744.5 320 C745.5 314 749.0 311.5 751.0 313.5"/>
<path d="M757.2 339.5 C754.0 339 749.5 330 751.5 320 C752.5 314 756.0 311.5 758.0 313.5"/>
<path d="M764.2 339.5 C761.0 339 756.5 330 758.5 320 C759.5 314 763.0 311.5 765.0 313.5"/>
<path d="M771.3 339.5 C768.1 339 763.6 330 765.6 320 C766.6 314 770.1 311.5 772.1 313.5"/>
<path d="M778.4 339.5 C775.1 339 770.6 330 772.6 320 C773.6 314 777.1 311.5 779.1 313.5"/>
<path d="M785.4 339.5 C782.2 339 777.7 330 779.7 320 C780.7 314 784.2 311.5 786.2 313.5"/>
<path d="M792.5 339.5 C789.2 339 784.8 330 786.8 320 C787.8 314 791.2 311.5 793.2 313.5"/>
<path d="M799.5 339.5 C796.3 339 791.8 330 793.8 320 C794.8 314 798.3 311.5 800.3 313.5"/>
</g>
<g fill="none" stroke="#c9a338" stroke-width="2.1">
<path d="M686.7 339.5 C683.5 339 679.0 330 681.0 320 C682.0 314 685.5 311.5 687.5 313.5 C690.5 317 692.0 328 693.7 339.5"/>
<path d="M693.8 339.5 C690.5 339 686.0 330 688.0 320 C689.0 314 692.5 311.5 694.5 313.5 C697.5 317 699.0 328 700.8 339.5"/>
<path d="M700.8 339.5 C697.6 339 693.1 330 695.1 320 C696.1 314 699.6 311.5 701.6 313.5 C704.6 317 706.1 328 707.8 339.5"/>
<path d="M707.9 339.5 C704.6 339 700.1 330 702.1 320 C703.1 314 706.6 311.5 708.6 313.5 C711.6 317 713.1 328 714.9 339.5"/>
<path d="M714.9 339.5 C711.7 339 707.2 330 709.2 320 C710.2 314 713.7 311.5 715.7 313.5 C718.7 317 720.2 328 721.9 339.5"/>
<path d="M722.0 339.5 C718.8 339 714.2 330 716.2 320 C717.2 314 720.8 311.5 722.8 313.5 C725.8 317 727.2 328 729.0 339.5"/>
<path d="M729.0 339.5 C725.8 339 721.3 330 723.3 320 C724.3 314 727.8 311.5 729.8 313.5 C732.8 317 734.3 328 736.0 339.5"/>
<path d="M736.1 339.5 C732.9 339 728.4 330 730.4 320 C731.4 314 734.9 311.5 736.9 313.5 C739.9 317 741.4 328 743.1 339.5"/>
<path d="M743.1 339.5 C739.9 339 735.4 330 737.4 320 C738.4 314 741.9 311.5 743.9 313.5 C746.9 317 748.4 328 750.1 339.5"/>
<path d="M750.2 339.5 C747.0 339 742.5 330 744.5 320 C745.5 314 749.0 311.5 751.0 313.5 C754.0 317 755.5 328 757.2 339.5"/>
<path d="M757.2 339.5 C754.0 339 749.5 330 751.5 320 C752.5 314 756.0 311.5 758.0 313.5 C761.0 317 762.5 328 764.2 339.5"/>
<path d="M764.2 339.5 C761.0 339 756.5 330 758.5 320 C759.5 314 763.0 311.5 765.0 313.5 C768.0 317 769.5 328 771.2 339.5"/>
<path d="M771.3 339.5 C768.1 339 763.6 330 765.6 320 C766.6 314 770.1 311.5 772.1 313.5 C775.1 317 776.6 328 778.3 339.5"/>
<path d="M778.4 339.5 C775.1 339 770.6 330 772.6 320 C773.6 314 777.1 311.5 779.1 313.5 C782.1 317 783.6 328 785.4 339.5"/>
<path d="M785.4 339.5 C782.2 339 777.7 330 779.7 320 C780.7 314 784.2 311.5 786.2 313.5 C789.2 317 790.7 328 792.4 339.5"/>
<path d="M792.5 339.5 C789.2 339 784.8 330 786.8 320 C787.8 314 791.2 311.5 793.2 313.5 C796.2 317 797.8 328 799.5 339.5"/>
<path d="M799.5 339.5 C796.3 339 791.8 330 793.8 320 C794.8 314 798.3 311.5 800.3 313.5 C803.3 317 804.8 328 806.5 339.5"/>
</g>
<g fill="none" stroke="#f3e08c" stroke-width="0.8">
<path d="M680.6 328 C680.3 322 682.0 315 685.0 313"/>
<path d="M687.6 328 C687.3 322 689.0 315 692.0 313"/>
<path d="M694.7 328 C694.4 322 696.1 315 699.1 313"/>
<path d="M701.8 328 C701.4 322 703.1 315 706.1 313"/>
<path d="M708.8 328 C708.5 322 710.2 315 713.2 313"/>
<path d="M715.9 328 C715.5 322 717.2 315 720.2 313"/>
<path d="M722.9 328 C722.6 322 724.3 315 727.3 313"/>
<path d="M730.0 328 C729.6 322 731.4 315 734.4 313"/>
<path d="M737.0 328 C736.7 322 738.4 315 741.4 313"/>
<path d="M744.1 328 C743.8 322 745.5 315 748.5 313"/>
<path d="M751.1 328 C750.8 322 752.5 315 755.5 313"/>
<path d="M758.1 328 C757.8 322 759.5 315 762.5 313"/>
<path d="M765.2 328 C764.9 322 766.6 315 769.6 313"/>
<path d="M772.2 328 C771.9 322 773.6 315 776.6 313"/>
<path d="M779.3 328 C779.0 322 780.7 315 783.7 313"/>
<path d="M786.4 328 C786.0 322 787.8 315 790.8 313"/>
<path d="M793.4 328 C793.1 322 794.8 315 797.8 313"/>
</g>
<line x1="804.0" y1="329.5" x2="859.0" y2="330.5" stroke="#d9b84f" stroke-width="1.3" />
<circle cx="860.0" cy="330.5" r="2" fill="#c9cdca" />
<rect x="767.5" y="375.5" width="38" height="33.5" fill="none" stroke="#e6f3ea" stroke-width="1"/>
<circle cx="772.5" cy="381.0" r="2.6" fill="#d4d7d4" />
<circle cx="800.5" cy="381.0" r="2.6" fill="#d4d7d4" />
<circle cx="772.5" cy="403.5" r="2.6" fill="#d4d7d4" />
<circle cx="800.5" cy="403.5" r="2.6" fill="#d4d7d4" />
<rect x="774.5" y="378.0" width="24.0" height="28.0" rx="2" fill="#5c5f63" />
<rect x="776.0" y="379.5" width="21.0" height="25.0" rx="2" fill="#74777b" />
<circle cx="786.5" cy="391.5" r="5.5" fill="#26272a" />
<rect x="811.0" y="344.0" width="72.5" height="93.5" rx="2" fill="#2664a8" />
<rect x="813.0" y="346.0" width="68.5" height="89.5" rx="2" fill="#2b6fb7" />
<rect x="815.5" y="346.0" width="5.5" height="6.5" rx="0.8" fill="#d9dde0" />
<rect x="815.5" y="424.0" width="5.5" height="12.0" rx="0.8" fill="#d9dde0" />
<rect x="823.8" y="346.0" width="5.5" height="6.5" rx="0.8" fill="#d9dde0" />
<rect x="823.8" y="424.0" width="5.5" height="12.0" rx="0.8" fill="#d9dde0" />
<rect x="832.1" y="346.0" width="5.5" height="6.5" rx="0.8" fill="#d9dde0" />
<rect x="832.1" y="424.0" width="5.5" height="12.0" rx="0.8" fill="#d9dde0" />
<rect x="840.4" y="346.0" width="5.5" height="6.5" rx="0.8" fill="#d9dde0" />
<rect x="840.4" y="424.0" width="5.5" height="12.0" rx="0.8" fill="#d9dde0" />
<rect x="848.7" y="346.0" width="5.5" height="6.5" rx="0.8" fill="#d9dde0" />
<rect x="848.7" y="424.0" width="5.5" height="12.0" rx="0.8" fill="#d9dde0" />
<rect x="857.0" y="346.0" width="5.5" height="6.5" rx="0.8" fill="#d9dde0" />
<rect x="857.0" y="424.0" width="5.5" height="12.0" rx="0.8" fill="#d9dde0" />
<rect x="865.3" y="346.0" width="5.5" height="6.5" rx="0.8" fill="#d9dde0" />
<rect x="865.3" y="424.0" width="5.5" height="12.0" rx="0.8" fill="#d9dde0" />
<rect x="873.6" y="346.0" width="5.5" height="6.5" rx="0.8" fill="#d9dde0" />
<rect x="873.6" y="424.0" width="5.5" height="12.0" rx="0.8" fill="#d9dde0" />
<rect x="811.5" y="367.0" width="3.5" height="9.0" rx="0.8" fill="#d9dde0" />
<rect x="879.5" y="367.0" width="3.5" height="9.0" rx="0.8" fill="#d9dde0" />
<rect x="811.5" y="408.0" width="3.5" height="9.0" rx="0.8" fill="#d9dde0" />
<rect x="879.5" y="408.0" width="3.5" height="9.0" rx="0.8" fill="#d9dde0" />
<rect x="816.0" y="355.5" width="62.5" height="65.0" rx="2" fill="#d4d5d0" />
<rect x="817.5" y="357.0" width="59.5" height="62.0" rx="2" fill="#dfe0db" />
<circle cx="829.5" cy="371.0" r="2.2" fill="#1a1a1a" />
<circle cx="829.5" cy="388.0" r="2.2" fill="#1a1a1a" />
<circle cx="829.5" cy="405.0" r="2.2" fill="#1a1a1a" />
<circle cx="847.0" cy="371.0" r="2.2" fill="#1a1a1a" />
<circle cx="847.0" cy="388.0" r="2.2" fill="#1a1a1a" />
<circle cx="847.0" cy="405.0" r="2.2" fill="#1a1a1a" />
<circle cx="864.0" cy="371.0" r="2.2" fill="#1a1a1a" />
<circle cx="864.0" cy="388.0" r="2.2" fill="#1a1a1a" />
<circle cx="864.0" cy="405.0" r="2.2" fill="#1a1a1a" />
<text x="872.0" y="443.0" font-size="5.5" font-weight="normal" fill="#e6f3ea" text-anchor="start" style='font-family:"DejaVu Sans",sans-serif' >J1</text>
<rect x="793.0" y="455.0" width="22.0" height="28.0" rx="1" fill="#232527" />
<rect x="783.5" y="456.0" width="9.5" height="1.5" rx="0" fill="#cfd3d0" />
<rect x="815.0" y="456.0" width="9.5" height="1.5" rx="0" fill="#cfd3d0" />
<rect x="783.5" y="458.8" width="9.5" height="1.5" rx="0" fill="#cfd3d0" />
<rect x="815.0" y="458.8" width="9.5" height="1.5" rx="0" fill="#cfd3d0" />
<rect x="783.5" y="461.5" width="9.5" height="1.5" rx="0" fill="#cfd3d0" />
<rect x="815.0" y="461.5" width="9.5" height="1.5" rx="0" fill="#cfd3d0" />
<rect x="783.5" y="464.2" width="9.5" height="1.5" rx="0" fill="#cfd3d0" />
<rect x="815.0" y="464.2" width="9.5" height="1.5" rx="0" fill="#cfd3d0" />
<rect x="783.5" y="467.0" width="9.5" height="1.5" rx="0" fill="#cfd3d0" />
<rect x="815.0" y="467.0" width="9.5" height="1.5" rx="0" fill="#cfd3d0" />
<rect x="783.5" y="469.8" width="9.5" height="1.5" rx="0" fill="#cfd3d0" />
<rect x="815.0" y="469.8" width="9.5" height="1.5" rx="0" fill="#cfd3d0" />
<rect x="783.5" y="472.5" width="9.5" height="1.5" rx="0" fill="#cfd3d0" />
<rect x="815.0" y="472.5" width="9.5" height="1.5" rx="0" fill="#cfd3d0" />
<rect x="783.5" y="475.2" width="9.5" height="1.5" rx="0" fill="#cfd3d0" />
<rect x="815.0" y="475.2" width="9.5" height="1.5" rx="0" fill="#cfd3d0" />
<rect x="783.5" y="478.0" width="9.5" height="1.5" rx="0" fill="#cfd3d0" />
<rect x="815.0" y="478.0" width="9.5" height="1.5" rx="0" fill="#cfd3d0" />
<rect x="783.5" y="480.8" width="9.5" height="1.5" rx="0" fill="#cfd3d0" />
<rect x="815.0" y="480.8" width="9.5" height="1.5" rx="0" fill="#cfd3d0" />
<circle cx="802.0" cy="468.0" r="3" fill="#2f3234" />
<text x="782.0" y="453.0" font-size="5.5" font-weight="normal" fill="#e6f3ea" text-anchor="start" style='font-family:"DejaVu Sans",sans-serif' >U1</text>
<rect x="794" y="443" width="15" height="7" fill="none" stroke="#e6f3ea" stroke-width="0.9"/>
<rect x="796.0" y="444.5" width="3.5" height="4.0" rx="0" fill="#d4d7d4" />
<rect x="803.5" y="444.5" width="3.5" height="4.0" rx="0" fill="#d4d7d4" />
<rect x="799.5" y="445.0" width="4.0" height="3.0" rx="0" fill="#6a5a40" />
<text x="795.0" y="441.0" font-size="5.5" font-weight="normal" fill="#e6f3ea" text-anchor="start" style='font-family:"DejaVu Sans",sans-serif' >C4</text>
<g fill="none" stroke="#43bb6c" stroke-width="1.1" opacity="0.7" stroke-linejoin="round"><path d="M703 350 H760 L770 360 V374"/><path d="M703 344 H765 L776 355 V374"/><path d="M750 372 H758 L764 378 V414 L772 422 V447 L780 455 H783"/><path d="M750 379 H754 L759 384 V418 L767 426 V452 L776 461 H783"/><path d="M755 395 V424 L762 431 V458 L772 468 H783"/><path d="M769 412 V418 L777 426 V440 L786 449 H792"/><path d="M788 409 V420 L796 428 V452"/><path d="M818 437 V444 L827 453 H862 L872 463"/><path d="M826 437 V441 L834 449 H866 L876 459"/><path d="M834.5 437 V440 L840 445 H870 L880 455"/><path d="M843 437 L848 441 H874 L886 452"/><path d="M825 458.5 H850 L859 467 V480 L866 487"/><path d="M825 464 H846 L855 473 V486 L862 493"/><path d="M825 469.5 H842 L851 478 V490 L858 497"/><path d="M825 475 H838 L847 484 V496 L856 505 H868"/><path d="M825 480.5 H834 L843 489 V500"/><path d="M887 350 V368 L892 373 V392"/><path d="M884 436 V448 L890 454"/><path d="M806 345 V338 H850"/></g>
<g fill="none" stroke="#3db367" stroke-width="1" opacity="0.6">
<path d="M325.0 352 v10 l8 9 h10"/><path d="M359.0 372 l6 6 v6"/>
<path d="M367.1 352 v10 l8 9 h10"/><path d="M401.1 372 l6 6 v6"/>
<path d="M409.3 352 v10 l8 9 h10"/><path d="M443.3 372 l6 6 v6"/>
<path d="M451.4 352 v10 l8 9 h10"/><path d="M485.4 372 l6 6 v6"/>
<path d="M493.6 352 v10 l8 9 h10"/><path d="M527.6 372 l6 6 v6"/>
<path d="M535.8 352 v10 l8 9 h10"/><path d="M569.8 372 l6 6 v6"/>
<path d="M577.9 352 v10 l8 9 h10"/><path d="M611.9 372 l6 6 v6"/>
<path d="M620.0 352 v10 l8 9 h10"/><path d="M654.0 372 l6 6 v6"/>
</g>
<text x="821.0" y="491.0" font-size="5.5" font-weight="normal" fill="#e6f3ea" text-anchor="start" style='font-family:"DejaVu Sans",sans-serif' >R60</text>
<text x="838.0" y="491.0" font-size="5.5" font-weight="normal" fill="#e6f3ea" text-anchor="start" style='font-family:"DejaVu Sans",sans-serif' >C62</text>
<text x="858.0" y="511.0" font-size="5.5" font-weight="normal" fill="#e6f3ea" text-anchor="start" style='font-family:"DejaVu Sans",sans-serif' >R62</text>
<rect x="822" y="494" width="9" height="20" fill="none" stroke="#e6f3ea" stroke-width="0.9"/>
<rect x="838" y="494" width="16" height="7" fill="none" stroke="#e6f3ea" stroke-width="0.9"/>
<rect x="836" y="504" width="20" height="9" fill="none" stroke="#e6f3ea" stroke-width="0.9"/>
<rect x="824.0" y="496.0" width="5.0" height="5.0" rx="0" fill="#d4d7d4" />
<rect x="824.0" y="507.0" width="5.0" height="5.0" rx="0" fill="#d4d7d4" />
<rect x="838.5" y="506.0" width="5.0" height="5.0" rx="0" fill="#d4d7d4" />
<rect x="848.0" y="506.0" width="5.0" height="5.0" rx="0" fill="#d4d7d4" />
<text x="873.0" y="455.0" font-size="5.5" font-weight="normal" fill="#e6f3ea" text-anchor="start" style='font-family:"DejaVu Sans",sans-serif' >J2</text>
<rect x="874.5" y="457" width="10" height="63" fill="none" stroke="#e6f3ea" stroke-width="0.9"/>
<circle cx="879.5" cy="463.0" r="2.7" fill="#c9cdca" />
<circle cx="879.5" cy="463.0" r="1" fill="#6a726c" />
<circle cx="879.5" cy="473.5" r="2.7" fill="#c9cdca" />
<circle cx="879.5" cy="473.5" r="1" fill="#6a726c" />
<circle cx="879.5" cy="484.0" r="2.7" fill="#c9cdca" />
<circle cx="879.5" cy="484.0" r="1" fill="#6a726c" />
<circle cx="879.5" cy="494.5" r="2.7" fill="#c9cdca" />
<circle cx="879.5" cy="494.5" r="1" fill="#6a726c" />
<circle cx="879.5" cy="505.0" r="2.7" fill="#c9cdca" />
<circle cx="879.5" cy="505.0" r="1" fill="#6a726c" />
<circle cx="879.5" cy="515.5" r="2.7" fill="#c9cdca" />
<circle cx="879.5" cy="515.5" r="1" fill="#6a726c" />
<rect x="938.0" y="338.0" width="65.5" height="76.0" rx="2" fill="#17181a" />
<rect x="940.0" y="347.0" width="18.0" height="6.0" rx="0" fill="#2c2e31" />
<rect x="989.0" y="347.0" width="13.0" height="6.0" rx="0" fill="#2c2e31" />
<rect x="940.0" y="358.0" width="18.0" height="6.0" rx="0" fill="#2c2e31" />
<rect x="989.0" y="358.0" width="13.0" height="6.0" rx="0" fill="#2c2e31" />
<rect x="940.0" y="369.0" width="18.0" height="6.0" rx="0" fill="#2c2e31" />
<rect x="989.0" y="369.0" width="13.0" height="6.0" rx="0" fill="#2c2e31" />
<rect x="940.0" y="380.0" width="18.0" height="6.0" rx="0" fill="#2c2e31" />
<rect x="989.0" y="380.0" width="13.0" height="6.0" rx="0" fill="#2c2e31" />
<rect x="940.0" y="391.0" width="18.0" height="6.0" rx="0" fill="#2c2e31" />
<rect x="989.0" y="391.0" width="13.0" height="6.0" rx="0" fill="#2c2e31" />
<rect x="940.0" y="402.0" width="18.0" height="6.0" rx="0" fill="#2c2e31" />
<rect x="989.0" y="402.0" width="13.0" height="6.0" rx="0" fill="#2c2e31" />
<rect x="946.0" y="346.0" width="14.0" height="26.0" rx="3" fill="#202225" />
<circle cx="953.0" cy="355.0" r="3" fill="#3a3d41" />
<rect x="989.0" y="350.0" width="12.0" height="23.0" rx="2" fill="#26282b" />
<rect x="960.5" y="335.5" width="27.5" height="76.0" rx="1" fill="#e9e36b" />
<rect x="960.5" y="335.5" width="5.5" height="76.0" rx="1" fill="#f2ee8e" />
<rect x="976.0" y="396.0" width="9.0" height="12.0" rx="0" fill="#d9d25a" />
<rect x="950.0" y="369.0" width="7.0" height="6.0" rx="0" fill="#e3d321" />
<rect x="991.0" y="370.0" width="5.0" height="7.0" rx="0" fill="#e3d321" />
<text x="940.0" y="421.0" font-size="5.5" font-weight="normal" fill="#e6f3ea" text-anchor="start" style='font-family:"DejaVu Sans",sans-serif' >T1</text>
<rect x="960.0" y="321.0" width="17.0" height="13.0" rx="1" fill="#1f2123" />
<rect x="950.5" y="321.5" width="5.0" height="5.0" rx="0.8" fill="#d4d7d4" />
<rect x="981.5" y="321.5" width="5.0" height="5.0" rx="0.8" fill="#d4d7d4" />
<rect x="992.5" y="319.5" width="5.0" height="5.0" rx="0.8" fill="#d4d7d4" />
<rect x="992.5" y="330.5" width="5.0" height="5.0" rx="0.8" fill="#d4d7d4" />
<text x="926.0" y="328.0" font-size="5.5" font-weight="normal" fill="#e6f3ea" text-anchor="start" style='font-family:"DejaVu Sans",sans-serif' >R3</text>
<text x="991.0" y="318.0" font-size="5.5" font-weight="normal" fill="#e6f3ea" text-anchor="start" style='font-family:"DejaVu Sans",sans-serif' >C3</text>
<rect x="926" y="330" width="21" height="8" fill="none" stroke="#e6f3ea" stroke-width="0.9"/>
<rect x="928.0" y="331.5" width="5.0" height="5.0" rx="0" fill="#d4d7d4" />
<rect x="940.0" y="331.5" width="5.0" height="5.0" rx="0" fill="#d4d7d4" />
<rect x="933.0" y="332.0" width="7.0" height="4.0" rx="0" fill="#2d322f" />
<text x="918.0" y="338.0" font-size="5.5" font-weight="normal" fill="#e6f3ea" text-anchor="start" style='font-family:"DejaVu Sans",sans-serif' >Z1</text>
<rect x="911" y="342" width="23" height="9" fill="none" stroke="#e6f3ea" stroke-width="0.9"/>
<rect x="915.0" y="344.0" width="15.0" height="5.0" rx="2" fill="#d8432c" />
<rect x="926.5" y="344.0" width="2.2" height="5.0" rx="0" fill="#222" />
<rect x="929.0" y="343.5" width="4.0" height="6.0" rx="0" fill="#d4d7d4" />
<text x="914.0" y="359.0" font-size="5.5" font-weight="normal" fill="#e6f3ea" text-anchor="start" style='font-family:"DejaVu Sans",sans-serif' >D4</text>
<rect x="904.5" y="359.5" width="27" height="12.5" rx="3" fill="none" stroke="#e6f3ea" stroke-width="0.9"/>
<rect x="909.5" y="361.5" width="17.5" height="8.5" rx="1" fill="#1f2123" />
<rect x="906.0" y="362.5" width="4.0" height="6.5" rx="0" fill="#d4d7d4" />
<rect x="926.5" y="362.5" width="4.0" height="6.5" rx="0" fill="#d4d7d4" />
<circle cx="900.9" cy="346.9" r="13.5" fill="#0c5a2c" opacity="0.75"/>
<circle cx="899.4" cy="344.4" r="12.5" fill="#23252a" />
<circle cx="899.1" cy="343.2" r="9.9" fill="url(#gCap)" />
<path d="M890.4 346.4 L907.9 338.4" fill="none" stroke="#8a8e95" stroke-width="0.8"/>
<circle cx="916.5" cy="417.5" r="12.5" fill="#0c5a2c" opacity="0.75"/>
<circle cx="915.0" cy="415.0" r="11.5" fill="#23252a" />
<circle cx="914.7" cy="413.8" r="8.9" fill="url(#gCap)" />
<path d="M907.0 417.0 L922.5 409.0" fill="none" stroke="#8a8e95" stroke-width="0.8"/>
<circle cx="904.0" cy="439.5" r="11" fill="#0c5a2c" opacity="0.75"/>
<circle cx="902.5" cy="437.0" r="10" fill="#23252a" />
<circle cx="902.2" cy="435.8" r="7.4" fill="url(#gCap)" />
<path d="M896.0 439.0 L908.5 431.0" fill="none" stroke="#8a8e95" stroke-width="0.8"/>
<path d="M886 366 h9 m-4.5 -4.5 v9" fill="none" stroke="#e6f3ea" stroke-width="0.9"/>
<text transform="translate(902 372) rotate(-90)" font-size="5.5" fill="#e6f3ea" style='font-family:"DejaVu Sans",sans-serif'>C11</text>
<text x="861.0" y="326.5" font-size="5.5" font-weight="normal" fill="#e6f3ea" text-anchor="start" style='font-family:"DejaVu Sans",sans-serif' >C22</text>
<text x="889.0" y="325.0" font-size="5.5" font-weight="normal" fill="#e6f3ea" text-anchor="start" style='font-family:"DejaVu Sans",sans-serif' >C12</text>
<rect x="874.0" y="321.0" width="14.0" height="8.0" rx="0" fill="none" stroke="#e6f3ea" stroke-width="0.9"/>
<rect x="875.5" y="322.5" width="4.0" height="5.0" rx="0" fill="#d4d7d4" />
<rect x="882.5" y="322.5" width="4.0" height="5.0" rx="0" fill="#d4d7d4" />
<rect x="879.0" y="323.0" width="4.0" height="4.0" rx="0" fill="#6a5a40" />
<text x="851.0" y="340.0" font-size="5.5" font-weight="normal" fill="#e6f3ea" text-anchor="start" style='font-family:"DejaVu Sans",sans-serif' >R20</text>
<rect x="866.0" y="332.0" width="8.0" height="11.0" rx="0" fill="none" stroke="#e6f3ea" stroke-width="0.8"/>
<rect x="867.5" y="333.5" width="5.0" height="3.0" rx="0" fill="#d4d7d4" />
<rect x="867.5" y="338.5" width="5.0" height="3.0" rx="0" fill="#d4d7d4" />
<rect x="876.0" y="332.0" width="8.0" height="11.0" rx="0" fill="none" stroke="#e6f3ea" stroke-width="0.8"/>
<rect x="877.5" y="333.5" width="5.0" height="3.0" rx="0" fill="#d4d7d4" />
<rect x="877.5" y="338.5" width="5.0" height="3.0" rx="0" fill="#d4d7d4" />
<text x="891.0" y="398.0" font-size="5.5" font-weight="normal" fill="#e6f3ea" text-anchor="start" style='font-family:"DejaVu Sans",sans-serif' >U4</text>
<text x="926.0" y="389.0" font-size="5.5" font-weight="normal" fill="#e6f3ea" text-anchor="start" style='font-family:"DejaVu Sans",sans-serif' >C8</text>
<rect x="906.3" y="386.5" width="10.7" height="17.5" rx="1" fill="#1f2123" />
<rect x="901.5" y="393.0" width="5.0" height="5.0" rx="0" fill="#d4d7d4" />
<rect x="917.0" y="388.0" width="5.0" height="4.0" rx="0" fill="#d4d7d4" />
<rect x="917.0" y="394.5" width="5.0" height="4.0" rx="0" fill="#d4d7d4" />
<rect x="917.0" y="400.0" width="5.0" height="3.5" rx="0" fill="#d4d7d4" />
<path d="M930 390.5 q8 1 8.3 14 q0.2 10 -4.3 13 q-5 1 -6 -10 q-1 -12 2 -17 z" fill="#2f7fd0" />
<path d="M931 392 q5 2 5.5 12" fill="none" stroke="#6aa8e8" stroke-width="1"/>
<text x="888.0" y="406.0" font-size="5.5" font-weight="normal" fill="#e6f3ea" text-anchor="start" style='font-family:"DejaVu Sans",sans-serif' >C14</text>
<rect x="893.0" y="408.0" width="6.0" height="14.0" rx="0" fill="none" stroke="#e6f3ea" stroke-width="0.8"/>
<rect x="894.0" y="409.5" width="4.0" height="3.5" rx="0" fill="#d4d7d4" />
<rect x="894.0" y="417.0" width="4.0" height="3.5" rx="0" fill="#d4d7d4" />
<rect x="894.0" y="413.0" width="4.0" height="4.0" rx="0" fill="#7a4a30" />
<text x="889.0" y="427.0" font-size="5.5" font-weight="normal" fill="#e6f3ea" text-anchor="start" style='font-family:"DejaVu Sans",sans-serif' >C9</text>
<text transform="translate(891 444) rotate(-90)" font-size="5.5" fill="#e6f3ea" style='font-family:"DejaVu Sans",sans-serif'>C16</text>
<rect x="922.0" y="431.5" width="13.5" height="27.5" rx="1" fill="#1f2123" />
<rect x="936.0" y="433.0" width="6.0" height="5.0" rx="0" fill="#d4d7d4" />
<rect x="936.0" y="442.5" width="6.0" height="5.0" rx="0" fill="#d4d7d4" />
<rect x="936.0" y="452.0" width="6.0" height="5.0" rx="0" fill="#d4d7d4" />
<rect x="914.5" y="438.0" width="5.0" height="14.0" rx="1" fill="#c7cbc8" />
<text x="944.0" y="447.0" font-size="5.5" font-weight="normal" fill="#e6f3ea" text-anchor="start" style='font-family:"DejaVu Sans",sans-serif' >U5</text>
<text x="893.0" y="461.0" font-size="5.5" font-weight="normal" fill="#e6f3ea" text-anchor="start" style='font-family:"DejaVu Sans",sans-serif' >C15</text>
<text x="897.0" y="470.5" font-size="5.5" font-weight="normal" fill="#e6f3ea" text-anchor="start" style='font-family:"DejaVu Sans",sans-serif' >LED1</text>
<rect x="892" y="449" width="13" height="8" fill="none" stroke="#e6f3ea" stroke-width="0.9"/>
<rect x="893.5" y="450.5" width="4.5" height="5.0" rx="0" fill="#d4d7d4" />
<rect x="899.0" y="450.5" width="4.5" height="5.0" rx="0" fill="#d4d7d4" />
<rect x="898.0" y="451.0" width="1.0" height="4.0" rx="0" fill="#2d322f" />
<rect x="913" y="462.5" width="21" height="9" fill="none" stroke="#e6f3ea" stroke-width="0.9"/>
<rect x="914.5" y="464.0" width="4.5" height="6.0" rx="0" fill="#d4d7d4" />
<rect x="928.0" y="464.0" width="4.5" height="6.0" rx="0" fill="#d4d7d4" />
<rect x="919.0" y="464.5" width="9.0" height="5.0" rx="0" fill="#2d322f" />
<rect x="936" y="462.5" width="16" height="9" fill="none" stroke="#e6f3ea" stroke-width="0.9"/>
<rect x="937.5" y="464.0" width="4.5" height="6.0" rx="0" fill="#d4d7d4" />
<rect x="946.0" y="464.0" width="4.5" height="6.0" rx="0" fill="#d4d7d4" />
<rect x="942.0" y="464.5" width="4.0" height="5.0" rx="0" fill="#2d322f" />
<rect x="914" y="475" width="19" height="8.5" fill="none" stroke="#e6f3ea" stroke-width="0.9"/>
<rect x="915.5" y="476.5" width="4.5" height="5.5" rx="0" fill="#d4d7d4" />
<rect x="927.0" y="476.5" width="4.5" height="5.5" rx="0" fill="#d4d7d4" />
<rect x="920.0" y="477.0" width="7.0" height="4.5" rx="0" fill="#2d322f" />
<text x="935.0" y="482.5" font-size="5.5" font-weight="normal" fill="#e6f3ea" text-anchor="start" style='font-family:"DejaVu Sans",sans-serif' >R9</text>
<text x="941.0" y="477.0" font-size="5.5" font-weight="normal" fill="#e6f3ea" text-anchor="start" style='font-family:"DejaVu Sans",sans-serif' >R6</text>
<rect x="959" y="416" width="20" height="9" fill="none" stroke="#e6f3ea" stroke-width="0.9"/>
<rect x="960.5" y="417.5" width="4.5" height="6.0" rx="0" fill="#d4d7d4" />
<rect x="973.0" y="417.5" width="4.5" height="6.0" rx="0" fill="#d4d7d4" />
<rect x="965.0" y="418.0" width="8.0" height="5.0" rx="0" fill="#2d322f" />
<text x="964.0" y="434.0" font-size="5.5" font-weight="normal" fill="#e6f3ea" text-anchor="start" style='font-family:"DejaVu Sans",sans-serif' >R2</text>
<rect x="983" y="416" width="20" height="9" fill="none" stroke="#e6f3ea" stroke-width="0.9"/>
<rect x="984.5" y="417.5" width="4.5" height="6.0" rx="0" fill="#d4d7d4" />
<rect x="997.0" y="417.5" width="4.5" height="6.0" rx="0" fill="#d4d7d4" />
<rect x="989.0" y="418.0" width="8.0" height="5.0" rx="0" fill="#2d322f" />
<text x="988.0" y="434.0" font-size="5.5" font-weight="normal" fill="#e6f3ea" text-anchor="start" style='font-family:"DejaVu Sans",sans-serif' >R1</text>
<text x="1018.0" y="336.0" font-size="5.5" font-weight="normal" fill="#e6f3ea" text-anchor="start" style='font-family:"DejaVu Sans",sans-serif' >C2</text>
<rect x="1017" y="338" width="15" height="8" fill="none" stroke="#e6f3ea" stroke-width="0.9"/>
<rect x="1018.5" y="339.5" width="4.0" height="5.0" rx="0" fill="#d4d7d4" />
<rect x="1026.5" y="339.5" width="4.0" height="5.0" rx="0" fill="#d4d7d4" />
<rect x="1022.5" y="340.0" width="4.0" height="4.0" rx="0" fill="#8a4a30" />
<text x="1004.0" y="350.0" font-size="5.5" font-weight="normal" fill="#e6f3ea" text-anchor="start" style='font-family:"DejaVu Sans",sans-serif' >U3</text>
<rect x="1014.0" y="347.0" width="27.0" height="44.0" rx="1.5" fill="#1f2123" />
<circle cx="1019.5" cy="353.0" r="1.8" fill="#3a3d41" />
<rect x="1008.5" y="351.0" width="5.5" height="5.0" rx="0.8" fill="#d4d7d4" />
<rect x="1041.0" y="351.0" width="5.5" height="5.0" rx="0.8" fill="#d4d7d4" />
<rect x="1008.5" y="361.3" width="5.5" height="5.0" rx="0.8" fill="#d4d7d4" />
<rect x="1041.0" y="361.3" width="5.5" height="5.0" rx="0.8" fill="#d4d7d4" />
<rect x="1008.5" y="371.6" width="5.5" height="5.0" rx="0.8" fill="#d4d7d4" />
<rect x="1041.0" y="371.6" width="5.5" height="5.0" rx="0.8" fill="#d4d7d4" />
<rect x="1008.5" y="381.9" width="5.5" height="5.0" rx="0.8" fill="#d4d7d4" />
<rect x="1041.0" y="381.9" width="5.5" height="5.0" rx="0.8" fill="#d4d7d4" />
<rect x="1007" y="396" width="31" height="12" rx="3" fill="none" stroke="#e6f3ea" stroke-width="0.9"/>
<rect x="1014.0" y="397.5" width="19.0" height="9.0" rx="1" fill="#1f2123" />
<rect x="1009.0" y="398.5" width="5.0" height="7.0" rx="0" fill="#d4d7d4" />
<rect x="1032.0" y="398.5" width="5.0" height="7.0" rx="0" fill="#d4d7d4" />
<rect x="1007" y="413" width="31" height="12" rx="3" fill="none" stroke="#e6f3ea" stroke-width="0.9"/>
<rect x="1014.0" y="414.5" width="19.0" height="9.0" rx="1" fill="#1f2123" />
<rect x="1009.0" y="415.5" width="5.0" height="7.0" rx="0" fill="#d4d7d4" />
<rect x="1032.0" y="415.5" width="5.0" height="7.0" rx="0" fill="#d4d7d4" />
<text x="1039.0" y="400.0" font-size="5.5" font-weight="normal" fill="#e6f3ea" text-anchor="start" style='font-family:"DejaVu Sans",sans-serif' >D2</text>
<text x="1021.0" y="431.0" font-size="5.5" font-weight="normal" fill="#e6f3ea" text-anchor="start" style='font-family:"DejaVu Sans",sans-serif' >D3</text>
<rect x="1040.0" y="411.0" width="36.5" height="26.0" rx="1.5" fill="#1b1c1e" />
<text x="1048.0" y="423.0" font-size="6" font-weight="normal" fill="#55585c" text-anchor="start" style='font-family:"DejaVu Sans",sans-serif' >DB107S</text>
<rect x="1044.0" y="401.5" width="6.0" height="7.0" rx="0.8" fill="#d4d7d4" />
<rect x="1065.0" y="401.5" width="6.0" height="7.0" rx="0.8" fill="#d4d7d4" />
<rect x="1044.0" y="437.5" width="6.0" height="7.0" rx="0.8" fill="#d4d7d4" />
<rect x="1065.0" y="437.5" width="6.0" height="7.0" rx="0.8" fill="#d4d7d4" />
<circle cx="1069.5" cy="386.0" r="20" fill="#0f5e30" opacity="0.6"/>
<circle cx="1067.0" cy="383.0" r="19.5" fill="#25272b" />
<circle cx="1067.5" cy="380.0" r="14.5" fill="url(#gCap)" />
<path d="M1056 386 L1079 372" fill="none" stroke="#868a91" stroke-width="1"/>
<text x="1078.0" y="407.0" font-size="5.5" font-weight="normal" fill="#e6f3ea" text-anchor="start" style='font-family:"DejaVu Sans",sans-serif' >RG1</text>
<text x="1082.0" y="443.0" font-size="5.5" font-weight="normal" fill="#e6f3ea" text-anchor="start" style='font-family:"DejaVu Sans",sans-serif' >RV1</text>
<rect x="1077.5" y="409" width="22" height="37" fill="none" stroke="#e6f3ea" stroke-width="0.9"/>
<path d="M1074 408 q16 -4 26 10 q4 10 -4 16 q-10 0 -22 -14 q-4 -8 0 -12 z" fill="#2f86d8" />
<path d="M1095 432 l-2 10" fill="none" stroke="#c9cdca" stroke-width="1"/>
<circle cx="1112.0" cy="407.0" r="7" fill="none" stroke="#e6f3ea" stroke-width="0.9"/>
<circle cx="1112.0" cy="440.0" r="8" fill="none" stroke="#e6f3ea" stroke-width="0.9"/>
<line x1="1112.0" y1="408.0" x2="1112.0" y2="416.0" stroke="#c9cdca" stroke-width="1.5" />
<rect x="1104.5" y="414.0" width="15.5" height="31.0" rx="6" fill="#4ea6e0" />
<line x1="1105.0" y1="421.0" x2="1119.5" y2="421.0" stroke="#2a6aa8" stroke-width="1.2" />
<line x1="1105.0" y1="426.0" x2="1119.5" y2="426.0" stroke="#2a6aa8" stroke-width="1.2" />
<line x1="1105.0" y1="431.0" x2="1119.5" y2="431.0" stroke="#2a6aa8" stroke-width="1.2" />
<line x1="1105.0" y1="436.0" x2="1119.5" y2="436.0" stroke="#2a6aa8" stroke-width="1.2" />
<text x="1109.0" y="342.0" font-size="5.5" font-weight="normal" fill="#e6f3ea" text-anchor="start" style='font-family:"DejaVu Sans",sans-serif' >C5</text>
<rect x="1103.5" y="344.5" width="16" height="59" fill="none" stroke="#e6f3ea" stroke-width="0.9"/>
<circle cx="1111.5" cy="352.0" r="2.8" fill="#c9cdca" />
<circle cx="1111.5" cy="395.0" r="3.2" fill="#c9cdca" />
<path d="M1067.5 322.5 L1086 356.5 H1049 Z" fill="none" stroke="#e6f3ea" stroke-width="1.1"/>
<path d="M1069 332 l-5 9 h4 l-3 10 l7 -12 h-4 l4 -7 z" fill="#e6f3ea"/>
<text x="964.0" y="508.5" font-size="13.5" font-weight="normal" fill="#e6f3ea" text-anchor="start" textLength="89" lengthAdjust="spacingAndGlyphs" style='font-family:"DejaVu Sans Mono",monospace' >DV8200_V11</text>
<text x="964.0" y="522.5" font-size="13.5" font-weight="normal" fill="#e6f3ea" text-anchor="start" textLength="92" lengthAdjust="spacingAndGlyphs" style='font-family:"DejaVu Sans Mono",monospace' >2019-09-23</text>
<path d="M1048 446 q2 10 12 10 h32 q8 0 10 -6" fill="none" stroke="#2fae5c" stroke-width="1"/>
<path d="M924 450 V505 H958 V470" fill="none" stroke="#2fae5c" stroke-width="1" opacity="0.7"/>
<path d="M159.2 273 H232 V338 Q232 356 214 356 H158.8 Z" fill="url(#gPock)" />
<path d="M235 273.5 V338 Q235 359.2 214 359.2 H158.5" fill="none" stroke="#f7f7f8" stroke-width="7"/>
<path d="M231.6 273.5 V338 Q231.6 355.6 214 355.6 H159" fill="none" stroke="#e3e4e8" stroke-width="1"/>
<path d="M238.6 276 V338 Q238.6 362.9 214 362.9 H159" fill="none" stroke="#e9eaec" stroke-width="0.8"/>
<rect x="208.3" y="313.3" width="21.0" height="40.0" rx="10.5" fill="url(#gSlot)" />
<path d="M209.3 324 Q209.3 314.3 218.8 314.3 Q228.3 314.3 228.3 324" fill="none" stroke="#8f9196" stroke-width="1.2" opacity="0.6"/>
<path d="M1153.5 717 V643 H1093 Q1074 643 1074 662 V717 Z" fill="url(#gPock)" />
<path d="M1153.5 640 H1093 Q1070.5 640 1070.5 662.5 V716" fill="none" stroke="#f7f7f8" stroke-width="6"/>
<path d="M1153.5 643.4 H1093 Q1074 643.4 1074 662.5 V716" fill="none" stroke="#e3e4e8" stroke-width="1"/>
<rect x="1071.0" y="657.0" width="40.6" height="21.6" rx="10.8" fill="url(#gSlot)" />
<path d="M1072 667.8 Q1072 658 1082 658 H1101 Q1110.6 658 1110.6 667.8" fill="none" stroke="#8f9196" stroke-width="1.2" opacity="0.55"/>
<rect x="252.3" y="473.2" width="400" height="67.6" rx="5.5" fill="#3be79d" fill-opacity="0.3" stroke="#3be79d" stroke-width="6"/>
<rect x="661.7" y="477" width="43" height="65" rx="4.5" fill="#f0a032" fill-opacity="0.5" stroke="#f0a032" stroke-width="6"/>
<rect x="711.7" y="477" width="62" height="65" rx="4.5" fill="#32b4eb" fill-opacity="0.5" stroke="#32b4eb" stroke-width="6"/>
<line x1="286.7" y1="543.0" x2="286.7" y2="840.0" stroke="#3be79d" stroke-width="6" />
<line x1="668.3" y1="544.0" x2="668.3" y2="858.0" stroke="#f0a032" stroke-width="5.8" />
<path d="M736.7 544 V898.5 H785" fill="none" stroke="#32b4eb" stroke-width="6"/>
<line x1="1040.1" y1="729.0" x2="1040.1" y2="982.6" stroke="#3ee2a0" stroke-width="4" stroke-dasharray="15 7.55"/>
<path d="M277.6 176.8 H217.9 V329" fill="none" stroke="#000" stroke-width="3.6"/>
<line x1="166.0" y1="416.3" x2="237.0" y2="416.3" stroke="#000" stroke-width="3.6" />
<line x1="126.0" y1="512.0" x2="223.0" y2="512.0" stroke="#000" stroke-width="3.6" />
<line x1="128.5" y1="664.0" x2="265.0" y2="664.0" stroke="#000" stroke-width="3.6" />
<line x1="786.3" y1="205.0" x2="786.3" y2="391.0" stroke="#000" stroke-width="3.6" />
<path d="M813 595 V792.7 H845.5" fill="none" stroke="#000" stroke-width="3.6"/>
<path d="M1092.6 664.7 V792.4 H1119" fill="none" stroke="#000" stroke-width="3.6"/>
<g transform="translate(295.1 147.8)" fill="#000"><path d="M-11.4 5 C-11.8 1 -9.5 -3 -7 -4.7 C-4 -7 -1 -8.3 2.9 -8.5 C6 -8.6 10 -7 10.8 -3.5 C11 -1.5 10 -0.5 9.3 -0.3 C6 3 0 7 -2.9 7.9 C-6 9 -9.5 9 -10.5 7.6 C-11.2 6.8 -11.4 6 -11.4 5 Z"/><path d="M-5.2 -6.8 L-2 -0.9 L0.6 -1.9" fill="none" stroke="#fff" stroke-width="3"/><path d="M0.3 10.8 L8.4 6.1 L11.7 11.7 L2.3 14.9 Z"/><path d="M5.8 20.7 L15.2 17.2 L16.8 20.7 L7.9 23.9 Z"/><path d="M11.1 29.7 L20.7 26.5 L22.4 30 L12.8 33 Z"/><path d="M16.4 38.5 L25.7 35.9 L23.6 42 Z"/></g>
<g transform="translate(1137.9 776.3)" fill="#000"><path d="M-11.4 5 C-11.8 1 -9.5 -3 -7 -4.7 C-4 -7 -1 -8.3 2.9 -8.5 C6 -8.6 10 -7 10.8 -3.5 C11 -1.5 10 -0.5 9.3 -0.3 C6 3 0 7 -2.9 7.9 C-6 9 -9.5 9 -10.5 7.6 C-11.2 6.8 -11.4 6 -11.4 5 Z"/><path d="M-5.2 -6.8 L-2 -0.9 L0.6 -1.9" fill="none" stroke="#fff" stroke-width="3"/><path d="M0.3 10.8 L8.4 6.1 L11.7 11.7 L2.3 14.9 Z"/><path d="M5.8 20.7 L15.2 17.2 L16.8 20.7 L7.9 23.9 Z"/><path d="M11.1 29.7 L20.7 26.5 L22.4 30 L12.8 33 Z"/><path d="M16.4 38.5 L25.7 35.9 L23.6 42 Z"/></g>
<path d="M102 481.9 L100 500 L113 500.3 L92 528 L94 510 L81 509.7 Z" fill="#000" />
<text x="45.0" y="70.5" font-size="60" font-weight="bold" fill="#0d0d0d" text-anchor="start" textLength="461" lengthAdjust="spacingAndGlyphs" >Wiring Diagram</text>
<text x="35.5" y="423.8" font-size="26" font-weight="bold" fill="#000" text-anchor="start" textLength="121" lengthAdjust="spacingAndGlyphs" >15A Fuse</text>
<text x="42.8" y="556.0" font-size="26" font-weight="bold" fill="#000" text-anchor="start" textLength="101.5" lengthAdjust="spacingAndGlyphs" >AC220V</text>
<text x="42.8" y="640.6" font-size="26" font-weight="bold" fill="#000" text-anchor="start" textLength="115.5" lengthAdjust="spacingAndGlyphs" >Threding</text>
<text x="42.0" y="676.4" font-size="26" font-weight="bold" fill="#000" text-anchor="start" textLength="74" lengthAdjust="spacingAndGlyphs" >Holes</text>
<text x="41.8" y="712.4" font-size="26" font-weight="bold" fill="#000" text-anchor="start" textLength="144" lengthAdjust="spacingAndGlyphs" >(4 in a row)</text>
<text x="670.3" y="184.5" font-size="26" font-weight="bold" fill="#000" text-anchor="start" textLength="229" lengthAdjust="spacingAndGlyphs" >Power Debug Key</text>
<text x="856.2" y="802.0" font-size="26" font-weight="bold" fill="#000" text-anchor="start" textLength="112.5" lengthAdjust="spacingAndGlyphs" >SN Code</text>
<rect x="46.4" y="836.5" width="414.6" height="401.0" rx="5" fill="#38f0a5" />
<text x="64.8" y="895.0" font-size="36" font-weight="bold" fill="#000" text-anchor="start" textLength="169" lengthAdjust="spacingAndGlyphs" >8 Outputs</text>
<text x="252.8" y="885.0" font-size="21.5" font-weight="normal" fill="#111" text-anchor="start" textLength="180.5" lengthAdjust="spacingAndGlyphs" >Each can connect</text>
<text x="252.6" y="911.2" font-size="21.5" font-weight="normal" fill="#111" text-anchor="start" textLength="179" lengthAdjust="spacingAndGlyphs" >up to 5 Actuators.</text>
<rect x="227.0" y="966.0" width="60.0" height="86.0" rx="3" fill="#0a7446" opacity="0.65" filter="url(#b4)"/>
<rect x="224.0" y="952.0" width="60.0" height="86.0" rx="1.5" fill="url(#gTermB)" />
<line x1="224.0" y1="1001.0" x2="284.0" y2="1001.0" stroke="#6cb67d" stroke-width="1" />
<line x1="254.0" y1="976.0" x2="254.0" y2="1038.0" stroke="#78c088" stroke-width="1" />
<ellipse cx="239.0" cy="965.0" rx="11.5" ry="8.5" fill="#4f9a62" />
<ellipse cx="239.0" cy="966.5" rx="10.8" ry="7.2" fill="#e4e8ea" />
<ellipse cx="237.0" cy="968.0" rx="7" ry="4" fill="#fafbfc" />
<line x1="232.0" y1="971.0" x2="246.0" y2="961.0" stroke="#9aa3aa" stroke-width="1.6" />
<path d="M229 1008 H249 L251 1031 H227 Z" fill="#98d9a6" />
<path d="M230 1022 H248 L251 1031 H227 Z" fill="#7cc68c" />
<rect x="231.0" y="1011.0" width="16.0" height="9.0" rx="0" fill="#24543a" />
<rect x="240.5" y="1012.0" width="3.0" height="7.0" rx="0" fill="#cfe6d6" opacity="0.7"/>
<ellipse cx="269.0" cy="965.0" rx="11.5" ry="8.5" fill="#4f9a62" />
<ellipse cx="269.0" cy="966.5" rx="10.8" ry="7.2" fill="#e4e8ea" />
<ellipse cx="267.0" cy="968.0" rx="7" ry="4" fill="#fafbfc" />
<line x1="262.0" y1="971.0" x2="276.0" y2="961.0" stroke="#9aa3aa" stroke-width="1.6" />
<path d="M259 1008 H279 L281 1031 H257 Z" fill="#98d9a6" />
<path d="M260 1022 H278 L281 1031 H257 Z" fill="#7cc68c" />
<rect x="261.0" y="1011.0" width="16.0" height="9.0" rx="0" fill="#24543a" />
<rect x="270.5" y="1012.0" width="3.0" height="7.0" rx="0" fill="#cfe6d6" opacity="0.7"/>
<path d="M253.6 1038 V1063.6 M118 1063.6 H388 M120 1063.6 V1088 M185.5 1063.6 V1088 M253.6 1063.6 V1088 M321.4 1063.6 V1088 M386 1063.6 V1088" fill="none" stroke="#fff" stroke-width="4"/>
<text x="118.8" y="1111.6" font-size="23.5" font-weight="bold" fill="#fff" text-anchor="middle" >1</text>
<text x="184.6" y="1111.6" font-size="23.5" font-weight="bold" fill="#fff" text-anchor="middle" >2</text>
<text x="252.4" y="1111.6" font-size="23.5" font-weight="bold" fill="#fff" text-anchor="middle" >3</text>
<text x="319.8" y="1111.6" font-size="23.5" font-weight="bold" fill="#fff" text-anchor="middle" >4</text>
<text x="388.0" y="1111.6" font-size="23.5" font-weight="bold" fill="#fff" text-anchor="middle" >5</text>
<g transform="translate(91.2 1118)">
<path d="M5 72 H53.5 V80 Q53.5 84 29.2 84.5 Q5 84 5 80 Z" fill="url(#gAct)"/>
<path d="M6.5 78 H52 " stroke="#bdbdbd" stroke-width="2.2" stroke-dasharray="1 1.2" fill="none"/>
<path d="M0.5 54 C0.5 40 0.8 28 2.5 18 C4 9 8 3 14 1 Q20 0 29.2 0 Q38.5 0 44.5 1 C50.5 3 54.5 9 56 18 C57.7 28 58 40 58 54 V60 H0.5 Z" fill="url(#gAct)"/>
<path d="M-0.2 52 Q29.2 60.5 58.7 52 V71 Q58 74.5 29.2 76 Q0.5 74.5 -0.2 71 Z" fill="url(#gAct2)"/>
<path d="M-0.2 52 Q29.2 60.5 58.7 52" fill="none" stroke="#f7f7f7" stroke-width="1.2"/>
<path d="M-0.2 54.2 Q29.2 62.5 58.7 54.2" fill="none" stroke="#cfcfcf" stroke-width="0.8"/>
<ellipse cx="29.2" cy="6.8" rx="16" ry="5.6" fill="#dadada"/>
<ellipse cx="29.2" cy="6.3" rx="14.2" ry="4.6" fill="#f0f0f0"/>
<text x="19.4" y="50.8" font-size="10.5" font-weight="bold" fill="#111" textLength="18.4" lengthAdjust="spacingAndGlyphs">Beok</text>
<path d="M19 54.5 V69 Q19 72.5 22.5 72.5 H33.5 Q37 72.5 37 69 V54.5" fill="none" stroke="#555" stroke-width="1"/>
</g>
<g transform="translate(157.8 1118)">
<path d="M5 72 H53.5 V80 Q53.5 84 29.2 84.5 Q5 84 5 80 Z" fill="url(#gAct)"/>
<path d="M6.5 78 H52 " stroke="#bdbdbd" stroke-width="2.2" stroke-dasharray="1 1.2" fill="none"/>
<path d="M0.5 54 C0.5 40 0.8 28 2.5 18 C4 9 8 3 14 1 Q20 0 29.2 0 Q38.5 0 44.5 1 C50.5 3 54.5 9 56 18 C57.7 28 58 40 58 54 V60 H0.5 Z" fill="url(#gAct)"/>
<path d="M-0.2 52 Q29.2 60.5 58.7 52 V71 Q58 74.5 29.2 76 Q0.5 74.5 -0.2 71 Z" fill="url(#gAct2)"/>
<path d="M-0.2 52 Q29.2 60.5 58.7 52" fill="none" stroke="#f7f7f7" stroke-width="1.2"/>
<path d="M-0.2 54.2 Q29.2 62.5 58.7 54.2" fill="none" stroke="#cfcfcf" stroke-width="0.8"/>
<ellipse cx="29.2" cy="6.8" rx="16" ry="5.6" fill="#dadada"/>
<ellipse cx="29.2" cy="6.3" rx="14.2" ry="4.6" fill="#f0f0f0"/>
<text x="19.4" y="50.8" font-size="10.5" font-weight="bold" fill="#111" textLength="18.4" lengthAdjust="spacingAndGlyphs">Beok</text>
<path d="M19 54.5 V69 Q19 72.5 22.5 72.5 H33.5 Q37 72.5 37 69 V54.5" fill="none" stroke="#555" stroke-width="1"/>
</g>
<g transform="translate(224.7 1118)">
<path d="M5 72 H53.5 V80 Q53.5 84 29.2 84.5 Q5 84 5 80 Z" fill="url(#gAct)"/>
<path d="M6.5 78 H52 " stroke="#bdbdbd" stroke-width="2.2" stroke-dasharray="1 1.2" fill="none"/>
<path d="M0.5 54 C0.5 40 0.8 28 2.5 18 C4 9 8 3 14 1 Q20 0 29.2 0 Q38.5 0 44.5 1 C50.5 3 54.5 9 56 18 C57.7 28 58 40 58 54 V60 H0.5 Z" fill="url(#gAct)"/>
<path d="M-0.2 52 Q29.2 60.5 58.7 52 V71 Q58 74.5 29.2 76 Q0.5 74.5 -0.2 71 Z" fill="url(#gAct2)"/>
<path d="M-0.2 52 Q29.2 60.5 58.7 52" fill="none" stroke="#f7f7f7" stroke-width="1.2"/>
<path d="M-0.2 54.2 Q29.2 62.5 58.7 54.2" fill="none" stroke="#cfcfcf" stroke-width="0.8"/>
<ellipse cx="29.2" cy="6.8" rx="16" ry="5.6" fill="#dadada"/>
<ellipse cx="29.2" cy="6.3" rx="14.2" ry="4.6" fill="#f0f0f0"/>
<text x="19.4" y="50.8" font-size="10.5" font-weight="bold" fill="#111" textLength="18.4" lengthAdjust="spacingAndGlyphs">Beok</text>
<path d="M19 54.5 V69 Q19 72.5 22.5 72.5 H33.5 Q37 72.5 37 69 V54.5" fill="none" stroke="#555" stroke-width="1"/>
</g>
<g transform="translate(291.6 1118)">
<path d="M5 72 H53.5 V80 Q53.5 84 29.2 84.5 Q5 84 5 80 Z" fill="url(#gAct)"/>
<path d="M6.5 78 H52 " stroke="#bdbdbd" stroke-width="2.2" stroke-dasharray="1 1.2" fill="none"/>
<path d="M0.5 54 C0.5 40 0.8 28 2.5 18 C4 9 8 3 14 1 Q20 0 29.2 0 Q38.5 0 44.5 1 C50.5 3 54.5 9 56 18 C57.7 28 58 40 58 54 V60 H0.5 Z" fill="url(#gAct)"/>
<path d="M-0.2 52 Q29.2 60.5 58.7 52 V71 Q58 74.5 29.2 76 Q0.5 74.5 -0.2 71 Z" fill="url(#gAct2)"/>
<path d="M-0.2 52 Q29.2 60.5 58.7 52" fill="none" stroke="#f7f7f7" stroke-width="1.2"/>
<path d="M-0.2 54.2 Q29.2 62.5 58.7 54.2" fill="none" stroke="#cfcfcf" stroke-width="0.8"/>
<ellipse cx="29.2" cy="6.8" rx="16" ry="5.6" fill="#dadada"/>
<ellipse cx="29.2" cy="6.3" rx="14.2" ry="4.6" fill="#f0f0f0"/>
<text x="19.4" y="50.8" font-size="10.5" font-weight="bold" fill="#111" textLength="18.4" lengthAdjust="spacingAndGlyphs">Beok</text>
<path d="M19 54.5 V69 Q19 72.5 22.5 72.5 H33.5 Q37 72.5 37 69 V54.5" fill="none" stroke="#555" stroke-width="1"/>
</g>
<g transform="translate(358.3 1118)">
<path d="M5 72 H53.5 V80 Q53.5 84 29.2 84.5 Q5 84 5 80 Z" fill="url(#gAct)"/>
<path d="M6.5 78 H52 " stroke="#bdbdbd" stroke-width="2.2" stroke-dasharray="1 1.2" fill="none"/>
<path d="M0.5 54 C0.5 40 0.8 28 2.5 18 C4 9 8 3 14 1 Q20 0 29.2 0 Q38.5 0 44.5 1 C50.5 3 54.5 9 56 18 C57.7 28 58 40 58 54 V60 H0.5 Z" fill="url(#gAct)"/>
<path d="M-0.2 52 Q29.2 60.5 58.7 52 V71 Q58 74.5 29.2 76 Q0.5 74.5 -0.2 71 Z" fill="url(#gAct2)"/>
<path d="M-0.2 52 Q29.2 60.5 58.7 52" fill="none" stroke="#f7f7f7" stroke-width="1.2"/>
<path d="M-0.2 54.2 Q29.2 62.5 58.7 54.2" fill="none" stroke="#cfcfcf" stroke-width="0.8"/>
<ellipse cx="29.2" cy="6.8" rx="16" ry="5.6" fill="#dadada"/>
<ellipse cx="29.2" cy="6.3" rx="14.2" ry="4.6" fill="#f0f0f0"/>
<text x="19.4" y="50.8" font-size="10.5" font-weight="bold" fill="#111" textLength="18.4" lengthAdjust="spacingAndGlyphs">Beok</text>
<path d="M19 54.5 V69 Q19 72.5 22.5 72.5 H33.5 Q37 72.5 37 69 V54.5" fill="none" stroke="#555" stroke-width="1"/>
</g>
<rect x="522.5" y="855.8" width="181.3" height="87.5" rx="4" fill="#f0a032" />
<text x="613.3" y="909.5" font-size="25.5" font-weight="bold" fill="#000" text-anchor="start" textLength="76" lengthAdjust="spacingAndGlyphs" >Pump</text>
<g>
<ellipse cx="590.5" cy="897.0" rx="11" ry="21.5" fill="url(#gPr)" />
<path d="M594 878 q6 8 6 19 q0 12 -6 20" fill="none" stroke="#f58a78" stroke-width="1.2" opacity="0.7"/>
<path d="M551 888 L582 881 Q590 883.5 591.5 893 L592.5 913 Q591.5 921 585.5 923 L559 930.5 Q553 927 552 919 Z" fill="url(#gPb)" />
<path d="M556 901 L590 893.5" fill="none" stroke="#5b88cf" stroke-width="1"/>
<line x1="556.0" y1="892.5" x2="589.0" y2="885.0" stroke="#3f6db6" stroke-width="0.8" />
<line x1="556.0" y1="895.3" x2="589.0" y2="887.8" stroke="#3f6db6" stroke-width="0.8" />
<line x1="556.0" y1="898.1" x2="589.0" y2="890.6" stroke="#3f6db6" stroke-width="0.8" />
<line x1="556.0" y1="900.9" x2="589.0" y2="893.4" stroke="#3f6db6" stroke-width="0.8" />
<path d="M585 883 Q590.5 885 591.5 893 L592.5 913 Q591.5 921 585.5 923 Q588.5 917 588.5 905 Q588 890 585 883 Z" fill="#1c3c78" opacity="0.7"/>
<path d="M564 906.2 L583.6 901 L584 913.8 L564.6 919 Z" fill="#d5d5d5" />
<path d="M565.8 908 L582.2 903.6 L582.6 912.6 L566.2 917 Z" fill="#46291d" />
<path d="M567 910.5 L581.5 906.6" fill="none" stroke="#c9b9a0" stroke-width="0.7"/>
<path d="M554 928 L586 921 L588.5 927 L561 936.8 L555 933.5 Z" fill="#355fa6" />
<path d="M555 933.5 L561 936.8 L588.5 927 L588 925 L561 934.5 L555.5 931.5 Z" fill="#1b3a75" />
<path d="M544 879.5 L569 868 L583.5 875.5 L583 880.5 L558 888.5 L544.5 884 Z" fill="#cf3322" />
<path d="M544 879.5 L569 868 L583.5 875.5 L558 884.5 Z" fill="#f0563f" />
<path d="M549 879.5 L568.5 870.5 L578 875.5 L558 882.5 Z" fill="#f47360" opacity="0.6"/>
<circle cx="575.5" cy="884.0" r="1.2" fill="#1b1b1b" />
<path d="M516 901 H556 V927 L527 931 L516 922 Z" fill="#355fa6" />
<rect x="541.0" y="904.0" width="16.0" height="23.0" rx="1" fill="#1f4283" />
<rect x="545.0" y="911.0" width="8.0" height="13.0" rx="1" fill="#18346a" />
<circle cx="525.5" cy="912.5" r="11" fill="#1b3a75" />
<circle cx="525.5" cy="912.5" r="9.6" fill="#3863ab" />
<circle cx="524.0" cy="911.5" r="6" fill="#3867b4" />
<circle cx="524.0" cy="911.5" r="2" fill="#2a4f95" />
<path d="M539 890 L557 886 V903 H538 Z" fill="#1f4283" />
<path d="M520.5 871 L547 866 L548 877 L541 902 H525 L520.5 881 Z" fill="url(#gPb)" />
<path d="M536 868 L547 866 L548 877 L541 902 H535 Z" fill="#1b3a75" opacity="0.55"/>
<path d="M512.5 872.8 L548 866.5 L548.8 871.5 L513 878 Z" fill="#4474c0" />
<path d="M513 878 L548.8 871.5 L548.6 874 L513.5 880.5 Z" fill="#1f4283" />
<path d="M502.5 885 L511 873.5 L521 879 L522.5 893 L515 895.5 Z" fill="#3863ab" />
<path d="M502.5 885 L511 873.5 L514.5 875.5 L506.5 887.5 Z" fill="#4a7ac6" />
<path d="M506.5 887.5 L515 895.5 L522.5 893 L521.5 886 Z" fill="#1f4283" opacity="0.7"/>
<ellipse cx="534.5" cy="866.3" rx="7.6" ry="3.7" fill="#1f4283" />
<ellipse cx="534.3" cy="865.4" rx="6" ry="2.8" fill="#e8432f" />
<ellipse cx="533.5" cy="864.8" rx="3.5" ry="1.4" fill="#f47360" opacity="0.7"/>
</g>
<rect x="783.0" y="855.8" width="181.3" height="87.5" rx="4" fill="#32b4eb" />
<text x="870.2" y="909.5" font-size="25.5" font-weight="bold" fill="#000" text-anchor="start" textLength="78" lengthAdjust="spacingAndGlyphs" >Boiler</text>
<path d="M819.5 855 V848 Q814 842 818 838.5 Q822 836 826 840 Q831 845 830.5 855 Z" fill="url(#gPipe)" />
<ellipse cx="820.0" cy="840.5" rx="3.2" ry="3.6" fill="#c8cacc" />
<path d="M801.3 855.5 L811 853.8 V937 L801.3 935 Z" fill="url(#gBoilS)" />
<path d="M811 853.8 H852 V936.2 L811 937 Z" fill="url(#gBoil)" />
<rect x="811.0" y="920.0" width="35.0" height="16.8" rx="0" fill="#c9cacf" />
<rect x="821.0" y="920.0" width="23.0" height="16.6" rx="0" fill="#e0e0e3" />
<rect x="846.0" y="920.0" width="6.0" height="16.2" rx="0" fill="#ededee" />
<rect x="830.2" y="923.3" width="5.8" height="6.3" rx="0.5" fill="#c5d52a" />
<rect x="831.4" y="924.5" width="3.4" height="3.8" rx="0" fill="#48551a" />
<rect x="830.2" y="931.0" width="5.8" height="1.0" rx="0" fill="#9a9ca0" />
<rect x="526" y="984.7" width="634.8" height="253.3" rx="7" fill="#dcfaee" stroke="#3ee2a0" stroke-width="4.2" stroke-dasharray="14.7 7.85" stroke-dashoffset="1.6"/>
<text x="633.2" y="1037.4" font-size="33.5" font-weight="bold" fill="#000" text-anchor="start" textLength="489" lengthAdjust="spacingAndGlyphs" >Connect up to 8 thermostats</text>
<g fill="none" stroke="#0c0c0c" stroke-width="3.4" stroke-linecap="round"><path d="M562.9 1019.8 A38.3 38.3 0 0 1 613.3 1019.8"/><path d="M570.8 1027.8 A27.4 27.4 0 0 1 605.4 1027.8"/><path d="M578.4 1036 A15.9 15.9 0 0 1 597.8 1036"/></g>
<path d="M584.9 1043.9 Q588.3 1042.2 591.8 1043.9 L588.3 1047.5 Z" fill="#0c0c0c" stroke="#0c0c0c" stroke-width="0.6" stroke-linejoin="round"/>
<g transform="translate(550.0 0)">
<path d="M-1 1098 L147 1066 L146 1178 L12 1215 L0 1206 Z" fill="#9fb8ad" opacity="0.35" filter="url(#b1)"/>
<path d="M3 1093.5 L139 1064.6 Q146 1063.6 147.6 1068 L14 1095 Z" fill="#f2f2f2" stroke="#f2f2f2" stroke-width="2" stroke-linejoin="round"/>
<path d="M2.3 1097 Q2.5 1093 7 1093.6 L13 1094 L13.5 1212 L6 1208.5 Q2.8 1206 2.8 1202 Z" fill="url(#gThS)" stroke="url(#gThS)" stroke-width="2.4" stroke-linejoin="round"/>
<path d="M8.3 1096 L8.8 1208" stroke="#bfc2c3" stroke-width="0.9" fill="none"/>
<path d="M14.5 1096 L145.5 1069 L142.4 1175 L15.3 1210.5 Z" fill="url(#gTh)" stroke="#f9f9f9" stroke-width="5" stroke-linejoin="round"/>
<path d="M12.4 1098 L12.9 1208" stroke="#dadcdc" stroke-width="1" fill="none"/>
<path d="M32.8 1115.8 L113.3 1097.5 L110 1163.3 L33.3 1188.3 Z" fill="#a1d8ec"/>
<path d="M32.8 1115.8 L113.3 1097.5 L113.1 1100 L33.6 1118.4 Z" fill="#8fcae2" opacity="0.8"/>
<g transform="matrix(1 -0.25 0 1 0 0)" fill="#1d3c5e">
<text x="46.5" y="1172.5" font-size="27" font-weight="bold" font-style="italic" textLength="33" lengthAdjust="spacingAndGlyphs">24.0</text>
<text x="79.5" y="1158" font-size="7" font-weight="bold">°C</text>
<text x="91" y="1170" font-size="15" font-style="italic" textLength="21" lengthAdjust="spacingAndGlyphs">24.5</text>
<path d="M83.5 1166 h2.4 m1.5 0 h2.4" stroke="#1d3c5e" stroke-width="1" fill="none"/>
<path d="M35 1160 l4.5 -4.5 l4.5 4.5 m-7.8 -1 v4.5 h6.6 v-4.5" fill="none" stroke="#1d3c5e" stroke-width="0.9"/>
<rect x="33.5" y="1165.5" width="10.5" height="1.1" opacity="0.8"/>
<path d="M53 1132.5 q3 -2.6 6 0 m-4.8 1.6 q1.8 -1.5 3.6 0 m-1.8 1 v2.4" fill="none" stroke="#5b86a8" stroke-width="0.8"/>
<path d="M70 1127 q-2.5 4 0 7.5 q2.5 4 0 7.5 M73.5 1127 q-2.5 4 0 7.5 q2.5 4 0 7.5 M77 1127 q-2.5 4 0 7.5 q2.5 4 0 7.5" fill="none" stroke="#3d6a90" stroke-width="0.9"/>
<path d="M104 1128 l3.5 -3 l3.5 3 m-6 -0.6 v2.6 h5 v-2.6" fill="none" stroke="#3d6a90" stroke-width="0.8"/>
<path d="M36 1194 H108" stroke="#2d577c" stroke-width="1.4" stroke-dasharray="1.3 2.2" fill="none"/>
<rect x="45.5" y="1180.5" width="4.2" height="4.6"/><rect x="40" y="1177.6" width="7" height="1.2" opacity="0.8"/>
<rect x="77" y="1188.5" width="1.6" height="3.2"/>
</g>
<g fill="none" stroke="#c3c6c8" stroke-width="0.8"><path d="M124.5 1086 l2 2 l2 -2"/><path d="M124 1108.5 l2 -2 l2 2"/><circle cx="125.3" cy="1127.7" r="1.8"/><path d="M123.2 1147 l1.6 -1.6 l1.6 1.6 l-1.6 1.6 z" opacity="0.6"/><circle cx="123" cy="1165.5" r="1.7" opacity="0.5"/></g>
</g>
<g transform="translate(612.5 0)">
<path d="M-1 1098 L147 1066 L146 1178 L12 1215 L0 1206 Z" fill="#9fb8ad" opacity="0.35" filter="url(#b1)"/>
<path d="M3 1093.5 L139 1064.6 Q146 1063.6 147.6 1068 L14 1095 Z" fill="#f2f2f2" stroke="#f2f2f2" stroke-width="2" stroke-linejoin="round"/>
<path d="M2.3 1097 Q2.5 1093 7 1093.6 L13 1094 L13.5 1212 L6 1208.5 Q2.8 1206 2.8 1202 Z" fill="url(#gThS)" stroke="url(#gThS)" stroke-width="2.4" stroke-linejoin="round"/>
<path d="M8.3 1096 L8.8 1208" stroke="#bfc2c3" stroke-width="0.9" fill="none"/>
<path d="M14.5 1096 L145.5 1069 L142.4 1175 L15.3 1210.5 Z" fill="url(#gTh)" stroke="#f9f9f9" stroke-width="5" stroke-linejoin="round"/>
<path d="M12.4 1098 L12.9 1208" stroke="#dadcdc" stroke-width="1" fill="none"/>
<path d="M32.8 1115.8 L113.3 1097.5 L110 1163.3 L33.3 1188.3 Z" fill="#a1d8ec"/>
<path d="M32.8 1115.8 L113.3 1097.5 L113.1 1100 L33.6 1118.4 Z" fill="#8fcae2" opacity="0.8"/>
<g transform="matrix(1 -0.25 0 1 0 0)" fill="#1d3c5e">
<text x="46.5" y="1172.5" font-size="27" font-weight="bold" font-style="italic" textLength="33" lengthAdjust="spacingAndGlyphs">24.0</text>
<text x="79.5" y="1158" font-size="7" font-weight="bold">°C</text>
<text x="91" y="1170" font-size="15" font-style="italic" textLength="21" lengthAdjust="spacingAndGlyphs">24.5</text>
<path d="M83.5 1166 h2.4 m1.5 0 h2.4" stroke="#1d3c5e" stroke-width="1" fill="none"/>
<path d="M35 1160 l4.5 -4.5 l4.5 4.5 m-7.8 -1 v4.5 h6.6 v-4.5" fill="none" stroke="#1d3c5e" stroke-width="0.9"/>
<rect x="33.5" y="1165.5" width="10.5" height="1.1" opacity="0.8"/>
<path d="M53 1132.5 q3 -2.6 6 0 m-4.8 1.6 q1.8 -1.5 3.6 0 m-1.8 1 v2.4" fill="none" stroke="#5b86a8" stroke-width="0.8"/>
<path d="M70 1127 q-2.5 4 0 7.5 q2.5 4 0 7.5 M73.5 1127 q-2.5 4 0 7.5 q2.5 4 0 7.5 M77 1127 q-2.5 4 0 7.5 q2.5 4 0 7.5" fill="none" stroke="#3d6a90" stroke-width="0.9"/>
<path d="M104 1128 l3.5 -3 l3.5 3 m-6 -0.6 v2.6 h5 v-2.6" fill="none" stroke="#3d6a90" stroke-width="0.8"/>
<path d="M36 1194 H108" stroke="#2d577c" stroke-width="1.4" stroke-dasharray="1.3 2.2" fill="none"/>
<rect x="45.5" y="1180.5" width="4.2" height="4.6"/><rect x="40" y="1177.6" width="7" height="1.2" opacity="0.8"/>
<rect x="77" y="1188.5" width="1.6" height="3.2"/>
</g>
<g fill="none" stroke="#c3c6c8" stroke-width="0.8"><path d="M124.5 1086 l2 2 l2 -2"/><path d="M124 1108.5 l2 -2 l2 2"/><circle cx="125.3" cy="1127.7" r="1.8"/><path d="M123.2 1147 l1.6 -1.6 l1.6 1.6 l-1.6 1.6 z" opacity="0.6"/><circle cx="123" cy="1165.5" r="1.7" opacity="0.5"/></g>
</g>
<g transform="translate(675.0 0)">
<path d="M-1 1098 L147 1066 L146 1178 L12 1215 L0 1206 Z" fill="#9fb8ad" opacity="0.35" filter="url(#b1)"/>
<path d="M3 1093.5 L139 1064.6 Q146 1063.6 147.6 1068 L14 1095 Z" fill="#f2f2f2" stroke="#f2f2f2" stroke-width="2" stroke-linejoin="round"/>
<path d="M2.3 1097 Q2.5 1093 7 1093.6 L13 1094 L13.5 1212 L6 1208.5 Q2.8 1206 2.8 1202 Z" fill="url(#gThS)" stroke="url(#gThS)" stroke-width="2.4" stroke-linejoin="round"/>
<path d="M8.3 1096 L8.8 1208" stroke="#bfc2c3" stroke-width="0.9" fill="none"/>
<path d="M14.5 1096 L145.5 1069 L142.4 1175 L15.3 1210.5 Z" fill="url(#gTh)" stroke="#f9f9f9" stroke-width="5" stroke-linejoin="round"/>
<path d="M12.4 1098 L12.9 1208" stroke="#dadcdc" stroke-width="1" fill="none"/>
<path d="M32.8 1115.8 L113.3 1097.5 L110 1163.3 L33.3 1188.3 Z" fill="#a1d8ec"/>
<path d="M32.8 1115.8 L113.3 1097.5 L113.1 1100 L33.6 1118.4 Z" fill="#8fcae2" opacity="0.8"/>
<g transform="matrix(1 -0.25 0 1 0 0)" fill="#1d3c5e">
<text x="46.5" y="1172.5" font-size="27" font-weight="bold" font-style="italic" textLength="33" lengthAdjust="spacingAndGlyphs">24.0</text>
<text x="79.5" y="1158" font-size="7" font-weight="bold">°C</text>
<text x="91" y="1170" font-size="15" font-style="italic" textLength="21" lengthAdjust="spacingAndGlyphs">24.5</text>
<path d="M83.5 1166 h2.4 m1.5 0 h2.4" stroke="#1d3c5e" stroke-width="1" fill="none"/>
<path d="M35 1160 l4.5 -4.5 l4.5 4.5 m-7.8 -1 v4.5 h6.6 v-4.5" fill="none" stroke="#1d3c5e" stroke-width="0.9"/>
<rect x="33.5" y="1165.5" width="10.5" height="1.1" opacity="0.8"/>
<path d="M53 1132.5 q3 -2.6 6 0 m-4.8 1.6 q1.8 -1.5 3.6 0 m-1.8 1 v2.4" fill="none" stroke="#5b86a8" stroke-width="0.8"/>
<path d="M70 1127 q-2.5 4 0 7.5 q2.5 4 0 7.5 M73.5 1127 q-2.5 4 0 7.5 q2.5 4 0 7.5 M77 1127 q-2.5 4 0 7.5 q2.5 4 0 7.5" fill="none" stroke="#3d6a90" stroke-width="0.9"/>
<path d="M104 1128 l3.5 -3 l3.5 3 m-6 -0.6 v2.6 h5 v-2.6" fill="none" stroke="#3d6a90" stroke-width="0.8"/>
<path d="M36 1194 H108" stroke="#2d577c" stroke-width="1.4" stroke-dasharray="1.3 2.2" fill="none"/>
<rect x="45.5" y="1180.5" width="4.2" height="4.6"/><rect x="40" y="1177.6" width="7" height="1.2" opacity="0.8"/>
<rect x="77" y="1188.5" width="1.6" height="3.2"/>
</g>
<g fill="none" stroke="#c3c6c8" stroke-width="0.8"><path d="M124.5 1086 l2 2 l2 -2"/><path d="M124 1108.5 l2 -2 l2 2"/><circle cx="125.3" cy="1127.7" r="1.8"/><path d="M123.2 1147 l1.6 -1.6 l1.6 1.6 l-1.6 1.6 z" opacity="0.6"/><circle cx="123" cy="1165.5" r="1.7" opacity="0.5"/></g>
</g>
<g transform="translate(737.5 0)">
<path d="M-1 1098 L147 1066 L146 1178 L12 1215 L0 1206 Z" fill="#9fb8ad" opacity="0.35" filter="url(#b1)"/>
<path d="M3 1093.5 L139 1064.6 Q146 1063.6 147.6 1068 L14 1095 Z" fill="#f2f2f2" stroke="#f2f2f2" stroke-width="2" stroke-linejoin="round"/>
<path d="M2.3 1097 Q2.5 1093 7 1093.6 L13 1094 L13.5 1212 L6 1208.5 Q2.8 1206 2.8 1202 Z" fill="url(#gThS)" stroke="url(#gThS)" stroke-width="2.4" stroke-linejoin="round"/>
<path d="M8.3 1096 L8.8 1208" stroke="#bfc2c3" stroke-width="0.9" fill="none"/>
<path d="M14.5 1096 L145.5 1069 L142.4 1175 L15.3 1210.5 Z" fill="url(#gTh)" stroke="#f9f9f9" stroke-width="5" stroke-linejoin="round"/>
<path d="M12.4 1098 L12.9 1208" stroke="#dadcdc" stroke-width="1" fill="none"/>
<path d="M32.8 1115.8 L113.3 1097.5 L110 1163.3 L33.3 1188.3 Z" fill="#a1d8ec"/>
<path d="M32.8 1115.8 L113.3 1097.5 L113.1 1100 L33.6 1118.4 Z" fill="#8fcae2" opacity="0.8"/>
<g transform="matrix(1 -0.25 0 1 0 0)" fill="#1d3c5e">
<text x="46.5" y="1172.5" font-size="27" font-weight="bold" font-style="italic" textLength="33" lengthAdjust="spacingAndGlyphs">24.0</text>
<text x="79.5" y="1158" font-size="7" font-weight="bold">°C</text>
<text x="91" y="1170" font-size="15" font-style="italic" textLength="21" lengthAdjust="spacingAndGlyphs">24.5</text>
<path d="M83.5 1166 h2.4 m1.5 0 h2.4" stroke="#1d3c5e" stroke-width="1" fill="none"/>
<path d="M35 1160 l4.5 -4.5 l4.5 4.5 m-7.8 -1 v4.5 h6.6 v-4.5" fill="none" stroke="#1d3c5e" stroke-width="0.9"/>
<rect x="33.5" y="1165.5" width="10.5" height="1.1" opacity="0.8"/>
<path d="M53 1132.5 q3 -2.6 6 0 m-4.8 1.6 q1.8 -1.5 3.6 0 m-1.8 1 v2.4" fill="none" stroke="#5b86a8" stroke-width="0.8"/>
<path d="M70 1127 q-2.5 4 0 7.5 q2.5 4 0 7.5 M73.5 1127 q-2.5 4 0 7.5 q2.5 4 0 7.5 M77 1127 q-2.5 4 0 7.5 q2.5 4 0 7.5" fill="none" stroke="#3d6a90" stroke-width="0.9"/>
<path d="M104 1128 l3.5 -3 l3.5 3 m-6 -0.6 v2.6 h5 v-2.6" fill="none" stroke="#3d6a90" stroke-width="0.8"/>
<path d="M36 1194 H108" stroke="#2d577c" stroke-width="1.4" stroke-dasharray="1.3 2.2" fill="none"/>
<rect x="45.5" y="1180.5" width="4.2" height="4.6"/><rect x="40" y="1177.6" width="7" height="1.2" opacity="0.8"/>
<rect x="77" y="1188.5" width="1.6" height="3.2"/>
</g>
<g fill="none" stroke="#c3c6c8" stroke-width="0.8"><path d="M124.5 1086 l2 2 l2 -2"/><path d="M124 1108.5 l2 -2 l2 2"/><circle cx="125.3" cy="1127.7" r="1.8"/><path d="M123.2 1147 l1.6 -1.6 l1.6 1.6 l-1.6 1.6 z" opacity="0.6"/><circle cx="123" cy="1165.5" r="1.7" opacity="0.5"/></g>
</g>
<g transform="translate(800.0 0)">
<path d="M-1 1098 L147 1066 L146 1178 L12 1215 L0 1206 Z" fill="#9fb8ad" opacity="0.35" filter="url(#b1)"/>
<path d="M3 1093.5 L139 1064.6 Q146 1063.6 147.6 1068 L14 1095 Z" fill="#f2f2f2" stroke="#f2f2f2" stroke-width="2" stroke-linejoin="round"/>
<path d="M2.3 1097 Q2.5 1093 7 1093.6 L13 1094 L13.5 1212 L6 1208.5 Q2.8 1206 2.8 1202 Z" fill="url(#gThS)" stroke="url(#gThS)" stroke-width="2.4" stroke-linejoin="round"/>
<path d="M8.3 1096 L8.8 1208" stroke="#bfc2c3" stroke-width="0.9" fill="none"/>
<path d="M14.5 1096 L145.5 1069 L142.4 1175 L15.3 1210.5 Z" fill="url(#gTh)" stroke="#f9f9f9" stroke-width="5" stroke-linejoin="round"/>
<path d="M12.4 1098 L12.9 1208" stroke="#dadcdc" stroke-width="1" fill="none"/>
<path d="M32.8 1115.8 L113.3 1097.5 L110 1163.3 L33.3 1188.3 Z" fill="#a1d8ec"/>
<path d="M32.8 1115.8 L113.3 1097.5 L113.1 1100 L33.6 1118.4 Z" fill="#8fcae2" opacity="0.8"/>
<g transform="matrix(1 -0.25 0 1 0 0)" fill="#1d3c5e">
<text x="46.5" y="1172.5" font-size="27" font-weight="bold" font-style="italic" textLength="33" lengthAdjust="spacingAndGlyphs">24.0</text>
<text x="79.5" y="1158" font-size="7" font-weight="bold">°C</text>
<text x="91" y="1170" font-size="15" font-style="italic" textLength="21" lengthAdjust="spacingAndGlyphs">24.5</text>
<path d="M83.5 1166 h2.4 m1.5 0 h2.4" stroke="#1d3c5e" stroke-width="1" fill="none"/>
<path d="M35 1160 l4.5 -4.5 l4.5 4.5 m-7.8 -1 v4.5 h6.6 v-4.5" fill="none" stroke="#1d3c5e" stroke-width="0.9"/>
<rect x="33.5" y="1165.5" width="10.5" height="1.1" opacity="0.8"/>
<path d="M53 1132.5 q3 -2.6 6 0 m-4.8 1.6 q1.8 -1.5 3.6 0 m-1.8 1 v2.4" fill="none" stroke="#5b86a8" stroke-width="0.8"/>
<path d="M70 1127 q-2.5 4 0 7.5 q2.5 4 0 7.5 M73.5 1127 q-2.5 4 0 7.5 q2.5 4 0 7.5 M77 1127 q-2.5 4 0 7.5 q2.5 4 0 7.5" fill="none" stroke="#3d6a90" stroke-width="0.9"/>
<path d="M104 1128 l3.5 -3 l3.5 3 m-6 -0.6 v2.6 h5 v-2.6" fill="none" stroke="#3d6a90" stroke-width="0.8"/>
<path d="M36 1194 H108" stroke="#2d577c" stroke-width="1.4" stroke-dasharray="1.3 2.2" fill="none"/>
<rect x="45.5" y="1180.5" width="4.2" height="4.6"/><rect x="40" y="1177.6" width="7" height="1.2" opacity="0.8"/>
<rect x="77" y="1188.5" width="1.6" height="3.2"/>
</g>
<g fill="none" stroke="#c3c6c8" stroke-width="0.8"><path d="M124.5 1086 l2 2 l2 -2"/><path d="M124 1108.5 l2 -2 l2 2"/><circle cx="125.3" cy="1127.7" r="1.8"/><path d="M123.2 1147 l1.6 -1.6 l1.6 1.6 l-1.6 1.6 z" opacity="0.6"/><circle cx="123" cy="1165.5" r="1.7" opacity="0.5"/></g>
</g>
<g transform="translate(862.5 0)">
<path d="M-1 1098 L147 1066 L146 1178 L12 1215 L0 1206 Z" fill="#9fb8ad" opacity="0.35" filter="url(#b1)"/>
<path d="M3 1093.5 L139 1064.6 Q146 1063.6 147.6 1068 L14 1095 Z" fill="#f2f2f2" stroke="#f2f2f2" stroke-width="2" stroke-linejoin="round"/>
<path d="M2.3 1097 Q2.5 1093 7 1093.6 L13 1094 L13.5 1212 L6 1208.5 Q2.8 1206 2.8 1202 Z" fill="url(#gThS)" stroke="url(#gThS)" stroke-width="2.4" stroke-linejoin="round"/>
<path d="M8.3 1096 L8.8 1208" stroke="#bfc2c3" stroke-width="0.9" fill="none"/>
<path d="M14.5 1096 L145.5 1069 L142.4 1175 L15.3 1210.5 Z" fill="url(#gTh)" stroke="#f9f9f9" stroke-width="5" stroke-linejoin="round"/>
<path d="M12.4 1098 L12.9 1208" stroke="#dadcdc" stroke-width="1" fill="none"/>
<path d="M32.8 1115.8 L113.3 1097.5 L110 1163.3 L33.3 1188.3 Z" fill="#a1d8ec"/>
<path d="M32.8 1115.8 L113.3 1097.5 L113.1 1100 L33.6 1118.4 Z" fill="#8fcae2" opacity="0.8"/>
<g transform="matrix(1 -0.25 0 1 0 0)" fill="#1d3c5e">
<text x="46.5" y="1172.5" font-size="27" font-weight="bold" font-style="italic" textLength="33" lengthAdjust="spacingAndGlyphs">24.0</text>
<text x="79.5" y="1158" font-size="7" font-weight="bold">°C</text>
<text x="91" y="1170" font-size="15" font-style="italic" textLength="21" lengthAdjust="spacingAndGlyphs">24.5</text>
<path d="M83.5 1166 h2.4 m1.5 0 h2.4" stroke="#1d3c5e" stroke-width="1" fill="none"/>
<path d="M35 1160 l4.5 -4.5 l4.5 4.5 m-7.8 -1 v4.5 h6.6 v-4.5" fill="none" stroke="#1d3c5e" stroke-width="0.9"/>
<rect x="33.5" y="1165.5" width="10.5" height="1.1" opacity="0.8"/>
<path d="M53 1132.5 q3 -2.6 6 0 m-4.8 1.6 q1.8 -1.5 3.6 0 m-1.8 1 v2.4" fill="none" stroke="#5b86a8" stroke-width="0.8"/>
<path d="M70 1127 q-2.5 4 0 7.5 q2.5 4 0 7.5 M73.5 1127 q-2.5 4 0 7.5 q2.5 4 0 7.5 M77 1127 q-2.5 4 0 7.5 q2.5 4 0 7.5" fill="none" stroke="#3d6a90" stroke-width="0.9"/>
<path d="M104 1128 l3.5 -3 l3.5 3 m-6 -0.6 v2.6 h5 v-2.6" fill="none" stroke="#3d6a90" stroke-width="0.8"/>
<path d="M36 1194 H108" stroke="#2d577c" stroke-width="1.4" stroke-dasharray="1.3 2.2" fill="none"/>
<rect x="45.5" y="1180.5" width="4.2" height="4.6"/><rect x="40" y="1177.6" width="7" height="1.2" opacity="0.8"/>
<rect x="77" y="1188.5" width="1.6" height="3.2"/>
</g>
<g fill="none" stroke="#c3c6c8" stroke-width="0.8"><path d="M124.5 1086 l2 2 l2 -2"/><path d="M124 1108.5 l2 -2 l2 2"/><circle cx="125.3" cy="1127.7" r="1.8"/><path d="M123.2 1147 l1.6 -1.6 l1.6 1.6 l-1.6 1.6 z" opacity="0.6"/><circle cx="123" cy="1165.5" r="1.7" opacity="0.5"/></g>
</g>
<g transform="translate(925.0 0)">
<path d="M-1 1098 L147 1066 L146 1178 L12 1215 L0 1206 Z" fill="#9fb8ad" opacity="0.35" filter="url(#b1)"/>
<path d="M3 1093.5 L139 1064.6 Q146 1063.6 147.6 1068 L14 1095 Z" fill="#f2f2f2" stroke="#f2f2f2" stroke-width="2" stroke-linejoin="round"/>
<path d="M2.3 1097 Q2.5 1093 7 1093.6 L13 1094 L13.5 1212 L6 1208.5 Q2.8 1206 2.8 1202 Z" fill="url(#gThS)" stroke="url(#gThS)" stroke-width="2.4" stroke-linejoin="round"/>
<path d="M8.3 1096 L8.8 1208" stroke="#bfc2c3" stroke-width="0.9" fill="none"/>
<path d="M14.5 1096 L145.5 1069 L142.4 1175 L15.3 1210.5 Z" fill="url(#gTh)" stroke="#f9f9f9" stroke-width="5" stroke-linejoin="round"/>
<path d="M12.4 1098 L12.9 1208" stroke="#dadcdc" stroke-width="1" fill="none"/>
<path d="M32.8 1115.8 L113.3 1097.5 L110 1163.3 L33.3 1188.3 Z" fill="#a1d8ec"/>
<path d="M32.8 1115.8 L113.3 1097.5 L113.1 1100 L33.6 1118.4 Z" fill="#8fcae2" opacity="0.8"/>
<g transform="matrix(1 -0.25 0 1 0 0)" fill="#1d3c5e">
<text x="46.5" y="1172.5" font-size="27" font-weight="bold" font-style="italic" textLength="33" lengthAdjust="spacingAndGlyphs">24.0</text>
<text x="79.5" y="1158" font-size="7" font-weight="bold">°C</text>
<text x="91" y="1170" font-size="15" font-style="italic" textLength="21" lengthAdjust="spacingAndGlyphs">24.5</text>
<path d="M83.5 1166 h2.4 m1.5 0 h2.4" stroke="#1d3c5e" stroke-width="1" fill="none"/>
<path d="M35 1160 l4.5 -4.5 l4.5 4.5 m-7.8 -1 v4.5 h6.6 v-4.5" fill="none" stroke="#1d3c5e" stroke-width="0.9"/>
<rect x="33.5" y="1165.5" width="10.5" height="1.1" opacity="0.8"/>
<path d="M53 1132.5 q3 -2.6 6 0 m-4.8 1.6 q1.8 -1.5 3.6 0 m-1.8 1 v2.4" fill="none" stroke="#5b86a8" stroke-width="0.8"/>
<path d="M70 1127 q-2.5 4 0 7.5 q2.5 4 0 7.5 M73.5 1127 q-2.5 4 0 7.5 q2.5 4 0 7.5 M77 1127 q-2.5 4 0 7.5 q2.5 4 0 7.5" fill="none" stroke="#3d6a90" stroke-width="0.9"/>
<path d="M104 1128 l3.5 -3 l3.5 3 m-6 -0.6 v2.6 h5 v-2.6" fill="none" stroke="#3d6a90" stroke-width="0.8"/>
<path d="M36 1194 H108" stroke="#2d577c" stroke-width="1.4" stroke-dasharray="1.3 2.2" fill="none"/>
<rect x="45.5" y="1180.5" width="4.2" height="4.6"/><rect x="40" y="1177.6" width="7" height="1.2" opacity="0.8"/>
<rect x="77" y="1188.5" width="1.6" height="3.2"/>
</g>
<g fill="none" stroke="#c3c6c8" stroke-width="0.8"><path d="M124.5 1086 l2 2 l2 -2"/><path d="M124 1108.5 l2 -2 l2 2"/><circle cx="125.3" cy="1127.7" r="1.8"/><path d="M123.2 1147 l1.6 -1.6 l1.6 1.6 l-1.6 1.6 z" opacity="0.6"/><circle cx="123" cy="1165.5" r="1.7" opacity="0.5"/></g>
</g>
<g transform="translate(987.5 0)">
<path d="M-1 1098 L147 1066 L146 1178 L12 1215 L0 1206 Z" fill="#9fb8ad" opacity="0.35" filter="url(#b1)"/>
<path d="M3 1093.5 L139 1064.6 Q146 1063.6 147.6 1068 L14 1095 Z" fill="#f2f2f2" stroke="#f2f2f2" stroke-width="2" stroke-linejoin="round"/>
<path d="M2.3 1097 Q2.5 1093 7 1093.6 L13 1094 L13.5 1212 L6 1208.5 Q2.8 1206 2.8 1202 Z" fill="url(#gThS)" stroke="url(#gThS)" stroke-width="2.4" stroke-linejoin="round"/>
<path d="M8.3 1096 L8.8 1208" stroke="#bfc2c3" stroke-width="0.9" fill="none"/>
<path d="M14.5 1096 L145.5 1069 L142.4 1175 L15.3 1210.5 Z" fill="url(#gTh)" stroke="#f9f9f9" stroke-width="5" stroke-linejoin="round"/>
<path d="M12.4 1098 L12.9 1208" stroke="#dadcdc" stroke-width="1" fill="none"/>
<path d="M32.8 1115.8 L113.3 1097.5 L110 1163.3 L33.3 1188.3 Z" fill="#a1d8ec"/>
<path d="M32.8 1115.8 L113.3 1097.5 L113.1 1100 L33.6 1118.4 Z" fill="#8fcae2" opacity="0.8"/>
<g transform="matrix(1 -0.25 0 1 0 0)" fill="#1d3c5e">
<text x="46.5" y="1172.5" font-size="27" font-weight="bold" font-style="italic" textLength="33" lengthAdjust="spacingAndGlyphs">24.0</text>
<text x="79.5" y="1158" font-size="7" font-weight="bold">°C</text>
<text x="91" y="1170" font-size="15" font-style="italic" textLength="21" lengthAdjust="spacingAndGlyphs">24.5</text>
<path d="M83.5 1166 h2.4 m1.5 0 h2.4" stroke="#1d3c5e" stroke-width="1" fill="none"/>
<path d="M35 1160 l4.5 -4.5 l4.5 4.5 m-7.8 -1 v4.5 h6.6 v-4.5" fill="none" stroke="#1d3c5e" stroke-width="0.9"/>
<rect x="33.5" y="1165.5" width="10.5" height="1.1" opacity="0.8"/>
<path d="M53 1132.5 q3 -2.6 6 0 m-4.8 1.6 q1.8 -1.5 3.6 0 m-1.8 1 v2.4" fill="none" stroke="#5b86a8" stroke-width="0.8"/>
<path d="M70 1127 q-2.5 4 0 7.5 q2.5 4 0 7.5 M73.5 1127 q-2.5 4 0 7.5 q2.5 4 0 7.5 M77 1127 q-2.5 4 0 7.5 q2.5 4 0 7.5" fill="none" stroke="#3d6a90" stroke-width="0.9"/>
<path d="M104 1128 l3.5 -3 l3.5 3 m-6 -0.6 v2.6 h5 v-2.6" fill="none" stroke="#3d6a90" stroke-width="0.8"/>
<path d="M36 1194 H108" stroke="#2d577c" stroke-width="1.4" stroke-dasharray="1.3 2.2" fill="none"/>
<rect x="45.5" y="1180.5" width="4.2" height="4.6"/><rect x="40" y="1177.6" width="7" height="1.2" opacity="0.8"/>
<rect x="77" y="1188.5" width="1.6" height="3.2"/>
</g>
<g fill="none" stroke="#c3c6c8" stroke-width="0.8"><path d="M124.5 1086 l2 2 l2 -2"/><path d="M124 1108.5 l2 -2 l2 2"/><circle cx="125.3" cy="1127.7" r="1.8"/><path d="M123.2 1147 l1.6 -1.6 l1.6 1.6 l-1.6 1.6 z" opacity="0.6"/><circle cx="123" cy="1165.5" r="1.7" opacity="0.5"/></g>
</g>
</svg>
</body></html>
